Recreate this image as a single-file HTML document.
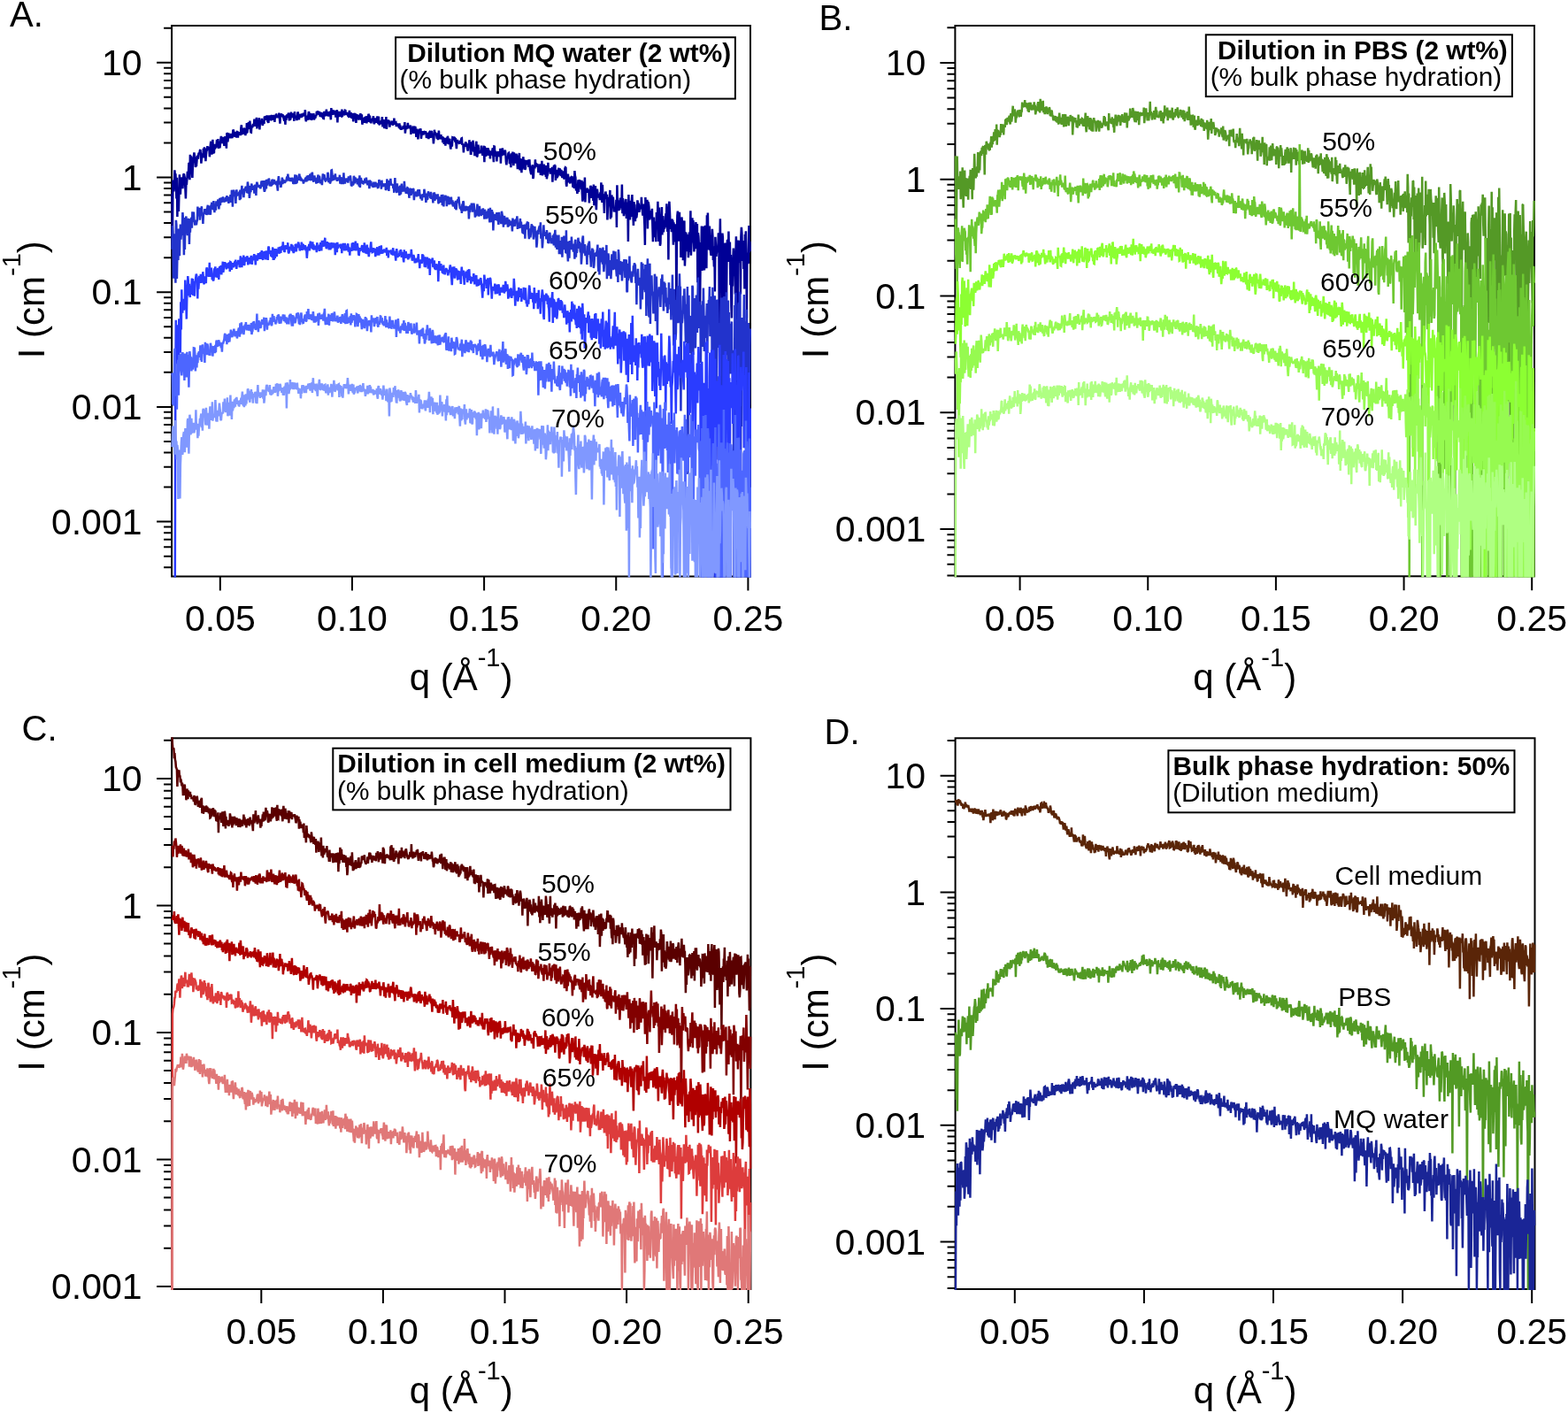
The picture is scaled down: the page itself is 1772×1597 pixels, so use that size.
<!DOCTYPE html>
<html><head><meta charset="utf-8"><title>SAXS dilution figure</title>
<style>html,body{margin:0;padding:0;background:#fff;} svg{display:block;}</style>
</head><body>
<svg xmlns="http://www.w3.org/2000/svg" width="1772" height="1597" viewBox="0 0 1772 1597" font-family="'Liberation Sans', Arial, Helvetica, sans-serif" fill="#000">
<rect width="1772" height="1597" fill="#fff"/>
<rect x="194.10" y="29.00" width="653.90" height="622.50" fill="none" stroke="#000" stroke-width="2.0"/>
<path d="M185.1 641.21H194.1M185.1 628.64H194.1M185.1 618.37H194.1M185.1 609.69H194.1M185.1 602.17H194.1M185.1 595.53H194.1M177.1 589.60H194.1M185.1 550.56H194.1M185.1 527.72H194.1M185.1 511.51H194.1M185.1 498.94H194.1M185.1 488.67H194.1M185.1 479.99H194.1M185.1 472.47H194.1M185.1 465.83H194.1M177.1 459.90H194.1M185.1 420.86H194.1M185.1 398.02H194.1M185.1 381.81H194.1M185.1 369.24H194.1M185.1 358.97H194.1M185.1 350.29H194.1M185.1 342.77H194.1M185.1 336.13H194.1M177.1 330.20H194.1M185.1 291.16H194.1M185.1 268.32H194.1M185.1 252.11H194.1M185.1 239.54H194.1M185.1 229.27H194.1M185.1 220.59H194.1M185.1 213.07H194.1M185.1 206.43H194.1M177.1 200.50H194.1M185.1 161.46H194.1M185.1 138.62H194.1M185.1 122.41H194.1M185.1 109.84H194.1M185.1 99.57H194.1M185.1 90.89H194.1M185.1 83.37H194.1M185.1 76.73H194.1M177.1 70.80H194.1M185.1 31.76H194.1M248.80 651.5V667.5M397.95 651.5V667.5M547.10 651.5V667.5M696.25 651.5V667.5M845.40 651.5V667.5" stroke="#000" stroke-width="2.0" fill="none"/>
<text x="160.50" y="84.90" font-size="41" text-anchor="end">10</text>
<text x="160.50" y="214.60" font-size="41" text-anchor="end">1</text>
<text x="160.50" y="344.30" font-size="41" text-anchor="end">0.1</text>
<text x="160.50" y="474.00" font-size="41" text-anchor="end">0.01</text>
<text x="160.50" y="603.70" font-size="41" text-anchor="end">0.001</text>
<text x="208.95" y="713.10" font-size="41">0.05</text>
<text x="358.05" y="713.10" font-size="41">0.10</text>
<text x="507.25" y="713.10" font-size="41">0.15</text>
<text x="656.35" y="713.10" font-size="41">0.20</text>
<text x="805.55" y="713.10" font-size="41">0.25</text>
<rect x="1079.40" y="29.00" width="654.60" height="622.30" fill="none" stroke="#000" stroke-width="2.0"/>
<path d="M1070.4 650.55H1079.4M1070.4 637.78H1079.4M1070.4 627.34H1079.4M1070.4 618.52H1079.4M1070.4 610.87H1079.4M1070.4 604.13H1079.4M1062.4 598.10H1079.4M1070.4 558.42H1079.4M1070.4 535.22H1079.4M1070.4 518.75H1079.4M1070.4 505.98H1079.4M1070.4 495.54H1079.4M1070.4 486.72H1079.4M1070.4 479.07H1079.4M1070.4 472.33H1079.4M1062.4 466.30H1079.4M1070.4 426.62H1079.4M1070.4 403.42H1079.4M1070.4 386.95H1079.4M1070.4 374.18H1079.4M1070.4 363.74H1079.4M1070.4 354.92H1079.4M1070.4 347.27H1079.4M1070.4 340.53H1079.4M1062.4 334.50H1079.4M1070.4 294.82H1079.4M1070.4 271.62H1079.4M1070.4 255.15H1079.4M1070.4 242.38H1079.4M1070.4 231.94H1079.4M1070.4 223.12H1079.4M1070.4 215.47H1079.4M1070.4 208.73H1079.4M1062.4 202.70H1079.4M1070.4 163.02H1079.4M1070.4 139.82H1079.4M1070.4 123.35H1079.4M1070.4 110.58H1079.4M1070.4 100.14H1079.4M1070.4 91.32H1079.4M1070.4 83.67H1079.4M1070.4 76.93H1079.4M1062.4 70.90H1079.4M1070.4 31.22H1079.4M1152.60 651.3V667.3M1297.25 651.3V667.3M1441.90 651.3V667.3M1586.55 651.3V667.3M1731.20 651.3V667.3" stroke="#000" stroke-width="2.0" fill="none"/>
<text x="1046.30" y="85.00" font-size="41" text-anchor="end">10</text>
<text x="1046.30" y="216.80" font-size="41" text-anchor="end">1</text>
<text x="1046.30" y="348.60" font-size="41" text-anchor="end">0.1</text>
<text x="1046.30" y="480.40" font-size="41" text-anchor="end">0.01</text>
<text x="1046.30" y="612.20" font-size="41" text-anchor="end">0.001</text>
<text x="1112.75" y="712.90" font-size="41">0.05</text>
<text x="1257.35" y="712.90" font-size="41">0.10</text>
<text x="1402.05" y="712.90" font-size="41">0.15</text>
<text x="1546.65" y="712.90" font-size="41">0.20</text>
<text x="1691.35" y="712.90" font-size="41">0.25</text>
<rect x="194.10" y="834.30" width="654.30" height="622.70" fill="none" stroke="#000" stroke-width="2.0"/>
<path d="M177.1 1453.90H194.1M185.1 1410.70H194.1M185.1 1385.43H194.1M185.1 1367.50H194.1M185.1 1353.60H194.1M185.1 1342.24H194.1M185.1 1332.63H194.1M185.1 1324.31H194.1M185.1 1316.97H194.1M177.1 1310.40H194.1M185.1 1267.20H194.1M185.1 1241.93H194.1M185.1 1224.00H194.1M185.1 1210.10H194.1M185.1 1198.74H194.1M185.1 1189.13H194.1M185.1 1180.81H194.1M185.1 1173.47H194.1M177.1 1166.90H194.1M185.1 1123.70H194.1M185.1 1098.43H194.1M185.1 1080.50H194.1M185.1 1066.60H194.1M185.1 1055.24H194.1M185.1 1045.63H194.1M185.1 1037.31H194.1M185.1 1029.97H194.1M177.1 1023.40H194.1M185.1 980.20H194.1M185.1 954.93H194.1M185.1 937.00H194.1M185.1 923.10H194.1M185.1 911.74H194.1M185.1 902.13H194.1M185.1 893.81H194.1M185.1 886.47H194.1M177.1 879.90H194.1M185.1 836.70H194.1M295.30 1457.0V1473.0M432.90 1457.0V1473.0M570.50 1457.0V1473.0M708.10 1457.0V1473.0M845.70 1457.0V1473.0" stroke="#000" stroke-width="2.0" fill="none"/>
<text x="160.60" y="894.00" font-size="41" text-anchor="end">10</text>
<text x="160.60" y="1037.50" font-size="41" text-anchor="end">1</text>
<text x="160.60" y="1181.00" font-size="41" text-anchor="end">0.1</text>
<text x="160.60" y="1324.50" font-size="41" text-anchor="end">0.01</text>
<text x="160.60" y="1468.00" font-size="41" text-anchor="end">0.001</text>
<text x="255.45" y="1518.60" font-size="41">0.05</text>
<text x="393.00" y="1518.60" font-size="41">0.10</text>
<text x="530.65" y="1518.60" font-size="41">0.15</text>
<text x="668.20" y="1518.60" font-size="41">0.20</text>
<text x="805.85" y="1518.60" font-size="41">0.25</text>
<rect x="1079.60" y="834.30" width="654.90" height="622.70" fill="none" stroke="#000" stroke-width="2.0"/>
<path d="M1070.6 1455.91H1079.6M1070.6 1443.15H1079.6M1070.6 1432.72H1079.6M1070.6 1423.90H1079.6M1070.6 1416.26H1079.6M1070.6 1409.53H1079.6M1062.6 1403.50H1079.6M1070.6 1363.85H1079.6M1070.6 1340.66H1079.6M1070.6 1324.21H1079.6M1070.6 1311.45H1079.6M1070.6 1301.02H1079.6M1070.6 1292.20H1079.6M1070.6 1284.56H1079.6M1070.6 1277.83H1079.6M1062.6 1271.80H1079.6M1070.6 1232.15H1079.6M1070.6 1208.96H1079.6M1070.6 1192.51H1079.6M1070.6 1179.75H1079.6M1070.6 1169.32H1079.6M1070.6 1160.50H1079.6M1070.6 1152.86H1079.6M1070.6 1146.13H1079.6M1062.6 1140.10H1079.6M1070.6 1100.45H1079.6M1070.6 1077.26H1079.6M1070.6 1060.81H1079.6M1070.6 1048.05H1079.6M1070.6 1037.62H1079.6M1070.6 1028.80H1079.6M1070.6 1021.16H1079.6M1070.6 1014.43H1079.6M1062.6 1008.40H1079.6M1070.6 968.75H1079.6M1070.6 945.56H1079.6M1070.6 929.11H1079.6M1070.6 916.35H1079.6M1070.6 905.92H1079.6M1070.6 897.10H1079.6M1070.6 889.46H1079.6M1070.6 882.73H1079.6M1062.6 876.70H1079.6M1070.6 837.05H1079.6M1146.80 1457.0V1473.0M1292.90 1457.0V1473.0M1439.00 1457.0V1473.0M1585.10 1457.0V1473.0M1731.20 1457.0V1473.0" stroke="#000" stroke-width="2.0" fill="none"/>
<text x="1046.10" y="890.80" font-size="41" text-anchor="end">10</text>
<text x="1046.10" y="1022.50" font-size="41" text-anchor="end">1</text>
<text x="1046.10" y="1154.20" font-size="41" text-anchor="end">0.1</text>
<text x="1046.10" y="1285.90" font-size="41" text-anchor="end">0.01</text>
<text x="1046.10" y="1417.60" font-size="41" text-anchor="end">0.001</text>
<text x="1106.95" y="1518.60" font-size="41">0.05</text>
<text x="1253.00" y="1518.60" font-size="41">0.10</text>
<text x="1399.15" y="1518.60" font-size="41">0.15</text>
<text x="1545.20" y="1518.60" font-size="41">0.20</text>
<text x="1691.35" y="1518.60" font-size="41">0.25</text>
<clipPath id="ca"><rect x="193.1" y="28.0" width="655.9" height="624.5"/></clipPath>
<g clip-path="url(#ca)">
<path d="M194.4 218.8l.5 51.8 .5-65.7 .5 .2 .5 11.4 .5-7.1 .5-17.1 .5 7 .5-3 .5 10.7 .5 17.4 .5-23.7 .5 44.4 .5-33.3 .5 5.3 .5 21.9 .5-21.1 .5-20.6 .5 15.3 .5 7.1 .5-13.1 .5-1.5 .5-4.8 .5 8.5 .5 4.4 .5-7 .5-9 .5-.6 .5 2.3 .5 2.5 .5 12.1 .5 11 .5-18 .5 2.3 .5-6.7 .5-8.4 .5 7.7 .5-5.2 .5-11.4 .5-.6 .5 19 .5-28.4 .5 7.8 .5-6.4 .5 16.6 .5 1.9 .5 6.3 .5-14.6 .5-7.7 .5-1.9 .5-4.3 .5 3.7 .5 3 .5 9.7 .5-1.6 .5 .7 .5-5.7 .5-6.5 .5 .8 .5 3.1 .5-5.9 .5-1.1 .5 1.3 .5-3.8 .5-1.2 .5 5.3 .5 10.3 .5-5.6 .5-5.6 .5 3.5 .5 .6 .5-9.6 .5 10.5 .5-12 .5 5.5 .5-4.4 .5 14.6 .5-7 .5-4.4 .5-.8 .5-4.7 .5 2.3 .5 0 .5-1.2 .5 .8 .5 10.2 .5-8 .5-6.2 .5-3.4 .5 10.8 .5 4.1 .5-4.4 .5-12.5 .5 14.3 .5 .5 .5 .8 .5-10.4 .5 5.7 .5-5.5 .5 4.1 .5-1.6 .5-6.2 .5 .2 .5 2.4 .5-4.9 .5 10.9 .5-7 .5-.1 .5 6.4 .5-4.4 .5-4.9 .5-4.2 .5 8.4 .5-6 .5 4.1 .5 1.4 .5-6.9 .5 6.9 .5 3 .5-4.7 .5-5.9 .5 1.3 .5 5.4 .5 6.9 .5-17.3 .5 .4 .5 9.5 .5-5.6 .5-4.3 .5 3.7 .5 .3 .5 .6 .5 1.1 .5-3.5 .5-1.4 .5 3.6 .5 1.4 .5-4.2 .5-5.3 .5 .6 .5 7.4 .5-5 .5-.6 .5 5.9 .5-5.3 .5 4.1 .5 1.7 .5-6.5 .5 .1 .5 6.5 .5-5.3 .5-.9 .5 1.2 .5 2.1 .5-2.1 .5 2.5 .5-8.9 .5-2.9 .5 7.3 .5 3.5 .5-4.9 .5-1.1 .5-.3 .5-.1 .5 5.8 .5-4.7 .5 6.4 .5-8.2 .5 6.1 .5-12.1 .5 11.1 .5-5.1 .5 .8 .5-7.6 .5 7.4 .5-3.1 .5-6 .5 8.9 .5 4 .5 .2 .5-8 .5 1.9 .5-.2 .5-3.3 .5 1.3 .5 1.7 .5-8.5 .5 5.2 .5-.1 .5 3 .5-1 .5-8.8 .5 12.6 .5-4.3 .5-4.4 .5 0 .5 0 .5-3.5 .5 13.2 .5-9.1 .5-.7 .5 1.5 .5-.1 .5-4.2 .5 6.6 .5 1.5 .5-5.1 .5 1.9 .5 1.2 .5-8.2 .5 3.3 .5-3.8 .5 1.8 .5 2.7 .5-5.2 .5 1.3 .5 5.2 .5 0 .5 1.9 .5-6.7 .5-1.6 .5 1.6 .5 3.3 .5-4.8 .5 5.7 .5-6.5 .5 3.8 .5 1.1 .5 .4 .5-3.9 .5-.3 .5 .6 .5 6.4 .5-7.3 .5 2.9 .5-4.8 .5 .5 .5 3.3 .5-1.8 .5 1.3 .5-.1 .5 .5 .5-4.8 .5 5.6 .5 6.4 .5-8.9 .5 1.9 .5-4.3 .5 2.1 .5 .6 .5-1.6 .5 1.3 .5 2.6 .5 2 .5-.3 .5-4.5 .5 10.2 .5-7.1 .5 2.3 .5-5.3 .5-.9 .5 3.4 .5-2.5 .5-2.9 .5 1 .5 7.5 .5-3.6 .5 2.8 .5-1.3 .5-7.6 .5 6.2 .5-1.4 .5-2.2 .5-1.1 .5 3.1 .5 0 .5 5.6 .5-10.6 .5 5.2 .5-.7 .5 3 .5-2.5 .5 4.9 .5-3.6 .5-6 .5 1.3 .5 4.5 .5 3.1 .5-4.6 .5-1.9 .5 2.6 .5-2 .5 3.7 .5-4.7 .5 2.7 .5 .7 .5-2.4 .5-1.6 .5 .7 .5 2.7 .5-2 .5-5.1 .5 10.3 .5 2.8 .5-6.6 .5 2.4 .5-.8 .5 3.4 .5-5.6 .5-4 .5 1.3 .5 7.7 .5-1.2 .5-4.2 .5-1.6 .5 7.6 .5-1.1 .5-5.9 .5 2.2 .5 3.3 .5-6.1 .5 7.3 .5-1.4 .5-4 .5 3.5 .5-3.4 .5 1.3 .5-5.5 .5 3.2 .5-3.8 .5 3.1 .5 .3 .5-.1 .5-2.7 .5 4.2 .5 1.9 .5-4.3 .5 1.2 .5-2 .5 5.7 .5-4.7 .5 5 .5 1 .5 .1 .5-8.2 .5 1.5 .5 3.6 .5-.7 .5-2.1 .5-4.5 .5 7.3 .5-4.1 .5 .4 .5 4.4 .5-2.7 .5-1.6 .5 2.7 .5-4.3 .5 5.1 .5 4.5 .5-13.3 .5 6.1 .5-2.7 .5 4.5 .5-5.2 .5 .7 .5 3.8 .5-.7 .5-1.7 .5-2 .5 7.9 .5-4.8 .5 .6 .5-4.3 .5 14.2 .5-11.1 .5 .4 .5-1.8 .5 5.9 .5-1.8 .5-4.1 .5 3.5 .5 1.6 .5 .3 .5-7.7 .5 8.3 .5-5.4 .5-1 .5 1.6 .5 3 .5-.8 .5-4.6 .5 .2 .5 4.3 .5-1.7 .5 2.5 .5-.9 .5-2.1 .5 4.7 .5-.7 .5 1.9 .5-8.1 .5 4.7 .5 3.4 .5-4.6 .5-.9 .5 6.6 .5-5 .5 .1 .5 5.3 .5 2.9 .5-5.8 .5-3.7 .5 3.2 .5 .9 .5-3.7 .5 10.8 .5-6.2 .5-3.7 .5 3.3 .5-2.4 .5 5.2 .5-.7 .5-.9 .5-4 .5 4 .5-5.5 .5 7.6 .5-3.4 .5-3 .5 11.5 .5-3.4 .5 .5 .5-.4 .5-4.6 .5 6 .5-5.9 .5-.2 .5-.8 .5 3.7 .5 3.7 .5-8.3 .5 4.7 .5 1.8 .5-8.9 .5 1.8 .5 4 .5-3.9 .5 7.8 .5-1.1 .5 2 .5-4.7 .5 1 .5-1.7 .5 3.2 .5-6.1 .5 6.8 .5 2.4 .5-2.4 .5 1.2 .5-5.7 .5 3.8 .5-2.9 .5 4.6 .5-7.4 .5 4 .5 4.7 .5-8.4 .5 8.3 .5 1.2 .5-3.1 .5 1.8 .5-1.1 .5-2.5 .5 1.8 .5-6 .5 11.3 .5-3.6 .5-4.8 .5 5.4 .5 4.6 .5-3.3 .5-.7 .5-3.6 .5-5.4 .5 14 .5-5.1 .5-4.4 .5 1.7 .5-2.9 .5 4.1 .5-3.1 .5 7.3 .5-5.1 .5 1.7 .5-.7 .5-.8 .5-2.1 .5 3.2 .5 2 .5-2.9 .5 1.5 .5-6.7 .5 5.3 .5 1.7 .5-2.1 .5-.3 .5 4.9 .5-4 .5 3.6 .5-2.3 .5 1.8 .5-1.5 .5 3.8 .5-5.3 .5 6.4 .5-4.1 .5 5 .5-1.2 .5 1.1 .5-2.6 .5 2.2 .5-2.4 .5-1.5 .5 2.2 .5 .1 .5-6.5 .5 12.7 .5-5.1 .5-3.5 .5 3.9 .5-2.9 .5-.1 .5-4.2 .5 6.5 .5-2.1 .5 .1 .5 .3 .5 1.6 .5-3.7 .5 10.4 .5-7.5 .5 5.7 .5-3.4 .5-1.6 .5-2.5 .5 8.3 .5-6 .5 4.2 .5-5.5 .5-.6 .5 6 .5 5.8 .5-5 .5-4.2 .5 3.8 .5 7.9 .5-5.1 .5-4 .5 .2 .5-2.7 .5 1.9 .5-2.2 .5 11.3 .5-3.5 .5-2.6 .5-.3 .5-2.2 .5 4.4 .5-4.1 .5 .5 .5 .3 .5 2.3 .5-3.1 .5 1.2 .5 5.4 .5 .1 .5-4.8 .5 1.1 .5 2 .5 3.7 .5-7 .5-.8 .5 .8 .5 5.7 .5-8 .5 1.6 .5-.1 .5 3.4 .5 2.5 .5-.8 .5 8 .5-5.6 .5-10.1 .5 3.6 .5 0 .5 2.5 .5-2.4 .5 3.6 .5 2.7 .5-6.3 .5 7.7 .5-4.8 .5-5.8 .5 6.1 .5 3.8 .5-3.6 .5 .3 .5-2.1 .5 5.3 .5-.7 .5-2.5 .5 7 .5-6 .5 2.7 .5 5 .5-5.8 .5-.6 .5 8.3 .5-8.5 .5 6.1 .5-6.9 .5 4.2 .5-5.8 .5 3.4 .5 5.9 .5-4.5 .5-.2 .5-1.7 .5 9.4 .5 2.5 .5-7.9 .5 4.2 .5 .5 .5-10.2 .5 .2 .5 2.5 .5-.6 .5-1.8 .5-.4 .5 5.6 .5-4.7 .5 6 .5 6.1 .5-8 .5-2 .5 1.3 .5 1.3 .5 .5 .5-1.2 .5 2.1 .5-.5 .5-2.9 .5 1.9 .5-4 .5-.3 .5 7.5 .5-1.1 .5 1.2 .5 8.6 .5-7.2 .5-2.7 .5 3.3 .5-4.1 .5-1.2 .5 2.6 .5-1.3 .5 4.7 .5 2.8 .5 1.1 .5-7 .5 3.4 .5-8.7 .5 6.2 .5-4.4 .5 13.8 .5 0 .5-13.1 .5 3.9 .5 6.1 .5-12 .5 2.5 .5 10.5 .5-4.4 .5 8.9 .5-5.4 .5-3.7 .5-1.9 .5-5.5 .5 17.4 .5-.5 .5-4.4 .5-8.7 .5 6.2 .5 3.9 .5-2.5 .5 0 .5 2 .5-1.3 .5-7.1 .5 5.6 .5 0 .5 5.6 .5-2.1 .5-3 .5-6.1 .5 18.5 .5-17.8 .5 7 .5 3.2 .5 .9 .5-2.4 .5-6.9 .5 3.8 .5-3.6 .5 1.3 .5 7.3 .5-5.8 .5 1.2 .5 8.1 .5-7.5 .5-.2 .5 .4 .5 3.4 .5-6.1 .5-2.3 .5 9.7 .5 6.3 .5-17.7 .5 .2 .5 11.1 .5-6.2 .5 4.8 .5-2.8 .5 9.9 .5-9.6 .5-.7 .5-.9 .5 2.3 .5 3.5 .5-4 .5 4.2 .5-9.5 .5 16.9 .5-14.9 .5 .3 .5 6.1 .5-8.9 .5 8 .5-4.4 .5 3.8 .5-.4 .5-3.5 .5-1.1 .5 4.6 .5 8.8 .5 3.3 .5-6.3 .5-3.1 .5 2 .5-5.7 .5-.4 .5 2.8 .5 9.6 .5-9 .5 5.3 .5 7.5 .5-15.7 .5 9.7 .5 .4 .5-11.9 .5 7.8 .5 7.8 .5-14.8 .5 10 .5-5.9 .5 8.1 .5-7.8 .5-3 .5 1.7 .5 6.7 .5 9 .5-3.7 .5-4.7 .5-5.6 .5-4.2 .5 18 .5 1.3 .5-13 .5 1.6 .5 14.3 .5-12.6 .5 9 .5-6.2 .5-8.2 .5 13.2 .5-6.6 .5-3.2 .5 11.3 .5-1.3 .5-9.2 .5 5.1 .5-5.4 .5 4.1 .5-4.3 .5 1 .5 6.9 .5-2.4 .5-6.2 .5 10.6 .5 2.3 .5 2.5 .5 1.5 .5-7.4 .5-1.8 .5-1.5 .5 15.6 .5-2.1 .5-10.8 .5-1.2 .5 2.5 .5-10.2 .5 8.4 .5-4.3 .5 1.4 .5 2.8 .5-3.2 .5 2.7 .5 7.2 .5-7 .5 7 .5-2.6 .5-7.3 .5 12.6 .5-4.4 .5 2.4 .5-14 .5 16.5 .5-6.6 .5-2.7 .5-1.5 .5-2.1 .5 10.8 .5 .8 .5-7.7 .5 10.6 .5-13 .5 15.3 .5-3.7 .5-1 .5-13.9 .5 10 .5-1.9 .5 .5 .5-.4 .5 4.8 .5-6.5 .5 6 .5-3.1 .5-4.3 .5 16.9 .5-9.7 .5 .9 .5-9.1 .5-.3 .5 9.3 .5-10.2 .5 17.4 .5-5.4 .5-6.9 .5 9.3 .5-1.2 .5-.8 .5-2.6 .5-6.7 .5 8.4 .5-7.5 .5 .8 .5 3 .5 4.6 .5-7.2 .5 4.5 .5 4.7 .5-7.7 .5 6 .5-3.2 .5 5.6 .5 .6 .5-12.1 .5-1 .5 .4 .5 18.4 .5 2.7 .5-11.8 .5 3.1 .5-5.3 .5 6.5 .5 3 .5-3.6 .5 .8 .5 4.1 .5-7.8 .5 6.8 .5-6.4 .5-.9 .5 2.6 .5 9.9 .5-8.2 .5 3.2 .5 6.3 .5-20 .5 5.5 .5 2.2 .5 13.6 .5 .7 .5-3.2 .5 7 .5-4.1 .5-11.5 .5 13.7 .5-9.7 .5-4.2 .5 5.3 .5-2.5 .5 3.6 .5 4.7 .5-10.4 .5 15 .5 8.9 .5-3.3 .5-12 .5-6.9 .5 11.1 .5-16 .5 28 .5-11.1 .5-2.8 .5 2.3 .5-2.5 .5-1.9 .5 5.5 .5-3 .5 .1 .5 14.4 .5-14.6 .5 .4 .5-5.4 .5 1.6 .5 12.5 .5-13.3 .5 11.8 .5-5.8 .5 10.2 .5-18.3 .5 23.7 .5-14.7 .5 0 .5-7.5 .5 19.4 .5 7.6 .5-16.7 .5-6.7 .5 4.1 .5 4.6 .5 .1 .5 0 .5-3.2 .5 6.9 .5-8.8 .5 5.9 .5-16.9 .5 17.1 .5 5.4 .5-20 .5 15.6 .5-5.1 .5 8.8 .5 12.7 .5-21.7 .5 2.6 .5-5.3 .5 3.6 .5 5 .5-5.4 .5 28.7 .5-12.9 .5-5.1 .5-7.2 .5 .5 .5-.6 .5-8.2 .5 32.6 .5-19.4 .5 17.6 .5-25.3 .5 12.8 .5-1.8 .5-8.9 .5 8.6 .5 8.4 .5-4.3 .5 2.1 .5 0 .5 2.3 .5-13.8 .5 31.2 .5-47.8 .5 25.7 .5-8.5 .5 11.8 .5-4.3 .5 3 .5-.5 .5-12.8 .5 6.4 .5 1.2 .5 3.8 .5-26.6 .5 32.9 .5-17.1 .5 2.1 .5 17.9 .5-4.8 .5 2.1 .5-10 .5-1.6 .5-4.9 .5 22 .5-13.3 .5 7.9 .5-13.1 .5 44.4 .5-52.8 .5 24.3 .5-17.6 .5 21.6 .5-11.9 .5 8.7 .5-4.4 .5-14.4 .5-6.4 .5 25.3 .5-3.2 .5 12.9 .5-26.8 .5 2.7 .5 .9 .5 18.4 .5-13.3 .5 8.9 .5-.4 .5-3.8 .5-15.2 .5 2.4 .5 1.4 .5 .7 .5 8.9 .5-3.7 .5-.8 .5-3 .5 4 .5-13.6 .5 10.8 .5 4.2 .5 5.9 .5-13 .5 3.1 .5 9.7 .5 11.6 .5 21.9 .5-53.8 .5 18.8 .5 .6 .5-7.7 .5-9 .5 32.7 .5-30.4 .5 1.5 .5 3.7 .5 13 .5 2.2 .5-9.3 .5-1 .5 8.4 .5-7.1 .5-3.7 .5 19.5 .5 17.8 .5-22.1 .5-5.4 .5 22.1 .5-.5 .5-1.3 .5-15.6 .5 23 .5-33.4 .5 11.5 .5-1.5 .5-22.2 .5 19.5 .5 25.7 .5-38.3 .5 14.7 .5 28.5 .5-2.5 .5-23.7 .5 1.6 .5-19.1 .5 31.4 .5-20.4 .5-.8 .5 18.2 .5-13.7 .5 9.7 .5-2.7 .5-.4 .5-14 .5 9 .5-20.2 .5 24.8 .5 7 .5-19.3 .5 50.9 .5-57.9 .5-8 .5 10.5 .5 12.5 .5 8.3 .5-8.7 .5 11.9 .5-14.7 .5 2.9 .5-1.6 .5 27.9 .5-25.5 .5 12.6 .5 9.6 .5-4.8 .5-10.2 .5-5.2 .5 101.3 .5-84.8 .5-26 .5-5.1 .5 17.3 .5 9.5 .5 7.3 .5-32.9 .5 18.7 .5-7.5 .5 39.9 .5-12 .5-33.4 .5 4.8 .5 7.8 .5 36.2 .5-37.6 .5-1.6 .5-5.7 .5 51.2 .5-12.3 .5-25.7 .5 1.5 .5 4.7 .5 4.7 .5 10.6 .5-19.2 .5 26.3 .5-14.5 .5-14.1 .5 22.4 .5-16.3 .5-30.5 .5 50.5 .5-11.7 .5-5.8 .5-24.9 .5 11.8 .5-9 .5 7.3 .5 28 .5-8.8 .5-7.7 .5 2 .5-18.8 .5 30 .5-19.7 .5-8.3 .5 66.1 .5-56 .5 4.1 .5 10.1 .5 1.9 .5 78.8 .5-45.7 .5-38.5 .5 15.2 .5-33.5 .5 50.4 .5-11 .5-39.3 .5 24 .5-19.5 .5 45.2 .5-5.2 .5-45.5 .5 5.2 .5 42.1 .5 0 .5-58.8 .5 27.6 .5-30.3 .5 31.9 .5 10 .5-14.1 .5-12.9 .5 26.7 .5 .8 .5 5 .5 .8 .5-16.5 .5-13.5 .5 8.4 .5 26.9 .5-8.2 .5 15.7 .5-23.2 .5 51.2 .5-61.7 .5 9.3 .5 12.9 .5-5.3 .5-.4 .5-6.2 .5 1.3 .5-16.1 .5 4.8 .5 120.7 .5-109.8 .5-31.8 .5 51.3 .5-21 .5 23.1 .5 52.3 .5-89.3 .5 4.7 .5 299.8 .5-277 .5-15.8 .5 .5 .5 107.1 .5-108.3 .5 7.3 .5 71.4 .5-59.4 .5-22 .5-.6 .5 24.7 .5-34.5 .5 24.7 .5-8.8 .5-4 .5 48.8 .5-34.3 .5 58 .5 13.5 .5-52.1 .5 16.2 .5-30.9 .5-12 .5 11.4 .5 20.2 .5-24.3 .5 44.6 .5-42.3 .5-23 .5 27.4 .5 358.4 .5 0 .5-381.4 .5 5.5 .5 20.2 .5-25.6 .5 11.9 .5 .1 .5 48.9 .5-65.4 .5-10.4 .5 7.3 .5 30.8 .5-7.9 .5-15.1 .5 32 .5-29.4 .5 52.1 .5-61.6 .5 2.6 .5-6.3 .5 22.5 .5 75.7 .5-74.1 .5 5.3 .5 7 .5-1.3 .5-41.5 .5 30.6 .5-12.8 .5 11" fill="none" stroke="#000096" stroke-width="2.5" stroke-linejoin="miter" stroke-miterlimit="2"/>
<path d="M194.4 281.8l.5-26.8 .5 7.8 .5 51.9 .5-18.3 .5-14.5 .5-11.9 .5-5.7 .5 55.5 .5-71 .5 5.4 .5 60.7 .5-25.2 .5-13.7 .5 18 .5-35.6 .5 10.5 .5 20.4 .5-23.3 .5-12.4 .5 17 .5-7.3 .5 2.4 .5-8 .5-17.6 .5 5.9 .5 14.8 .5 27.5 .5-37 .5 30.6 .5-35.9 .5 2.9 .5-4.4 .5 19.9 .5-6.9 .5 8.7 .5-14.1 .5-4.3 .5-.6 .5 28.8 .5-19.4 .5 6 .5-9.2 .5-5.8 .5-1.9 .5 12.1 .5-18.4 .5 4.2 .5 3.6 .5-7.6 .5 10.4 .5 1 .5 3.7 .5-5.4 .5 .4 .5 4.7 .5-3.8 .5-1.5 .5-15.6 .5 10.6 .5-2.1 .5-5.6 .5-1.5 .5 13.7 .5-4.9 .5-1.1 .5-2.7 .5-6.7 .5 8.9 .5-.4 .5 11.2 .5-9.9 .5-2.5 .5 1.4 .5-5.7 .5 3.5 .5-.9 .5-2.8 .5 6.9 .5-2.3 .5-6.4 .5-2.5 .5 11.1 .5-10.2 .5 3.3 .5 2.1 .5 3.2 .5 1.4 .5-9.7 .5-1.9 .5-2.1 .5 6.7 .5 .3 .5-4.6 .5-4.1 .5 5.8 .5 7.1 .5-9 .5 .8 .5 5.8 .5-10.3 .5 3.5 .5 1.9 .5-1 .5-6.5 .5 5.4 .5 5.8 .5-7.8 .5-4.7 .5 8.2 .5-5.2 .5-3.7 .5 5.5 .5-3.7 .5 .5 .5-3.2 .5 5.8 .5-.6 .5-.8 .5 .6 .5-.2 .5-4.4 .5 5.2 .5-3 .5-3.8 .5 4.4 .5-2.2 .5 0 .5 6.5 .5-4.5 .5-1.5 .5 4.6 .5-8.5 .5 4.9 .5 4 .5-14.2 .5 4.3 .5 14.6 .5-13.2 .5-5.5 .5 .8 .5 6.3 .5-1.6 .5-2.7 .5 12.2 .5-11.4 .5-4.1 .5 6.8 .5-.8 .5-1.9 .5 .9 .5 1.2 .5-3.9 .5 9.4 .5-11.6 .5 10.5 .5-4.7 .5-4.2 .5-6.2 .5 8.8 .5-2.8 .5-1.3 .5 8.6 .5-7.3 .5-2.6 .5 .5 .5-1.7 .5-1.3 .5 3.6 .5 3.7 .5-2.2 .5-10.4 .5 3.1 .5 10.3 .5-2 .5 7.1 .5-6 .5-7.9 .5 7.1 .5-6.5 .5-3.2 .5 6.3 .5-.1 .5-4 .5 3.7 .5-3.5 .5 8.7 .5-6.7 .5-3.3 .5 2.5 .5 9.9 .5-12.2 .5-3 .5 2.2 .5 3.4 .5-1.6 .5 1.1 .5 .9 .5-2.7 .5 1 .5 3.1 .5-2.9 .5-4.9 .5-.4 .5 6.1 .5-4.8 .5-2.1 .5 2.8 .5 6.8 .5 2.9 .5-1.6 .5-10.3 .5-.4 .5 9 .5-10.6 .5 6.8 .5-3.6 .5-3.2 .5 5.1 .5-6.4 .5 3.9 .5 5.1 .5-3.7 .5-1.5 .5 4.3 .5 .6 .5-6.3 .5-.1 .5 4.1 .5-.3 .5-.5 .5-4.1 .5 4.5 .5-1.7 .5-.5 .5 3.8 .5-1.8 .5-2.7 .5 7 .5 4 .5-12.1 .5-4.4 .5 5.9 .5 3.4 .5-2.6 .5-.6 .5 6.7 .5-3.5 .5-1.4 .5-6.4 .5 7.5 .5-5.5 .5 4 .5-3.1 .5 2.1 .5 1.1 .5-1.3 .5-1.6 .5 1.6 .5-3.9 .5-1.8 .5 2.6 .5-5.8 .5 6 .5 2 .5-3.8 .5 3 .5-1.2 .5 2.4 .5-4 .5 4.2 .5-1.2 .5-3.2 .5 3.3 .5 3.8 .5-.6 .5-3.4 .5 3.4 .5-10 .5 9.1 .5 1.6 .5-10.2 .5 9.4 .5-3 .5-3.3 .5 2.9 .5-1.9 .5-3.6 .5-1.7 .5 7.6 .5-4.2 .5 2 .5 2.5 .5-2.6 .5 2 .5 .2 .5-.4 .5 3.9 .5-1.7 .5-1.2 .5-1 .5-1.3 .5-.9 .5-.8 .5 4.9 .5-7 .5 5.2 .5 .4 .5-6 .5 1.3 .5 4.1 .5-1.3 .5-5.5 .5 6.1 .5 1.1 .5-8.4 .5 7.6 .5-8.5 .5 8.4 .5 .4 .5 2.2 .5-4.6 .5-2.5 .5 4.7 .5 .7 .5-1.3 .5 4.9 .5-2.4 .5-4.5 .5 6.3 .5-9.4 .5 3.8 .5 4.7 .5-7.4 .5 2.9 .5 5.9 .5-4.2 .5 1.9 .5-.3 .5 4.4 .5-7.1 .5-5.8 .5 6.8 .5-2.4 .5-3.4 .5 3.3 .5 3.1 .5 .8 .5-.3 .5-2.7 .5 1.9 .5-1.9 .5-6.7 .5 1.9 .5 9.4 .5-3.7 .5-1 .5 6 .5-1.2 .5-2.7 .5-11 .5-.2 .5 4.8 .5 6.1 .5-.2 .5-2.7 .5 3.3 .5-4.3 .5 0 .5-2.9 .5 6.5 .5-2.1 .5 .8 .5 3.2 .5-4.5 .5 2.9 .5-1.5 .5-.9 .5 3.4 .5-6.5 .5 10 .5-6.2 .5-1.2 .5 7.8 .5-7.8 .5 3.2 .5-.9 .5 5.6 .5-12.9 .5 8.9 .5-.3 .5 3.6 .5-4.5 .5 1.6 .5-3.1 .5 4 .5-1.7 .5-1.2 .5 4.1 .5-7.3 .5 4.7 .5-4 .5 3.7 .5-5.5 .5 4.5 .5 6.6 .5 .2 .5-3.9 .5 .4 .5 3.1 .5-1 .5-9.5 .5 2.5 .5 6.3 .5-6.8 .5 1.8 .5 1.7 .5 .5 .5-.7 .5 4.4 .5-6.9 .5 2.7 .5 3.9 .5 2.3 .5-12.1 .5 13.7 .5-9.5 .5-1.5 .5 2.6 .5 1.1 .5 1.9 .5 .4 .5 .3 .5-2.1 .5-.3 .5 2.2 .5-5.4 .5 3.7 .5 1.8 .5-6.6 .5 5.9 .5-1.6 .5 4.4 .5-4.5 .5 1.3 .5-2.2 .5 9.2 .5-7 .5-1.2 .5 .5 .5 .5 .5 4.1 .5-2.9 .5 4.3 .5-2 .5 2.5 .5-6.3 .5 6 .5-3.8 .5 1.1 .5-3.2 .5 4.6 .5 .7 .5-2.8 .5-1.3 .5 5.1 .5-.1 .5-1.7 .5-7 .5 1.7 .5 1.2 .5 3.1 .5-3.3 .5 7.8 .5-10 .5 6 .5 1.5 .5-1.8 .5 .9 .5-1.7 .5 .2 .5-1.1 .5 .7 .5 6.6 .5-1.3 .5-.4 .5-10.9 .5 7.1 .5 2.6 .5-1.1 .5 5 .5-12 .5 4.4 .5-3.4 .5-3.1 .5 7.5 .5-.8 .5 .2 .5 0 .5 .4 .5 3.7 .5-.9 .5 5.8 .5-8.5 .5-8.3 .5 12.4 .5-.8 .5 1.6 .5 3.8 .5-10.6 .5 9.7 .5-5.1 .5 .1 .5-1.3 .5 10.1 .5-3.4 .5-8 .5 10.2 .5-6.1 .5-5.9 .5 7.8 .5 1.1 .5-5.8 .5 .8 .5 5.1 .5-11.8 .5 7.6 .5 2.9 .5 .6 .5 2.8 .5-4.5 .5-.8 .5-1.3 .5 .4 .5 6.8 .5-4.5 .5 8.9 .5-8.2 .5-1.7 .5-1.1 .5 7.8 .5-1.4 .5-5 .5 .1 .5 4.2 .5-5.6 .5 1.2 .5 12.1 .5-7.2 .5 1.8 .5-1.8 .5-1 .5 .6 .5 3.7 .5-2 .5-4.3 .5-.9 .5 .1 .5 6.4 .5-7.6 .5 6.1 .5 .2 .5 4.4 .5-3.6 .5 1 .5 4.5 .5-7 .5 .7 .5 1.4 .5 1.2 .5-9.1 .5 3.2 .5 5.9 .5-.7 .5 6.6 .5-6.6 .5-3.7 .5 7.3 .5-1.8 .5-7.7 .5 3.2 .5 1.9 .5-1.3 .5-2.3 .5 6.3 .5-7.3 .5 8.1 .5-2.6 .5 1.9 .5-.7 .5 5.9 .5-11.5 .5 5.5 .5-6.1 .5 9.7 .5-7.6 .5 5.3 .5-.6 .5-2.1 .5 2.2 .5-4.6 .5 .9 .5 8.8 .5 .6 .5-6.9 .5 4.3 .5-4.8 .5 3 .5 3.4 .5-8.9 .5 3.3 .5 8.8 .5-12.3 .5 4.9 .5 8.7 .5-11.3 .5 4.4 .5-3.4 .5-2.3 .5 2.5 .5 1.3 .5 8.6 .5-11.7 .5 5.9 .5-5.6 .5 9.2 .5-1.3 .5 1.4 .5-8.3 .5 5.4 .5-3.1 .5-2.4 .5 6.3 .5 2.2 .5-4.8 .5 7 .5-2 .5-1.7 .5 .4 .5 1.8 .5 4 .5-9.2 .5 10.5 .5-2.8 .5-7.9 .5 1.6 .5-3 .5 4.3 .5-7 .5 5.4 .5 4 .5 4.2 .5-2.6 .5 2.6 .5-.3 .5 5.3 .5-10.5 .5 1.6 .5-4.6 .5 .8 .5 10.4 .5-5.5 .5 2.4 .5 3 .5-4 .5-1.7 .5 4.9 .5-1 .5 .4 .5-3.9 .5 1.4 .5 12.8 .5-10.6 .5 3.4 .5-8.5 .5 1.5 .5 1.9 .5-5.5 .5 4.2 .5 5.7 .5-5.6 .5-.5 .5-3.9 .5 3.5 .5 4.5 .5 8.1 .5-6.2 .5-2.2 .5 7.1 .5-3.1 .5-10.7 .5 4.4 .5 4.5 .5 1.7 .5 3.4 .5-11.8 .5 6.4 .5 1.8 .5 1.5 .5 .2 .5-1.9 .5-4.4 .5 4.7 .5-5.7 .5 7.3 .5-2 .5 6.9 .5-10.8 .5 3.1 .5-.9 .5 4 .5 4.3 .5-5.4 .5 4.5 .5-7.5 .5-1.6 .5 .3 .5 7.6 .5 6.2 .5-16.5 .5 7.5 .5 8.7 .5-7.8 .5-6.1 .5 4.6 .5-2.2 .5 20.8 .5-14 .5 1.1 .5-4.1 .5-1.1 .5 1.2 .5 5.6 .5-2.8 .5-6.1 .5 2.2 .5 7.3 .5-1 .5 5.3 .5-14.1 .5 8.4 .5-1 .5-1.8 .5 4.4 .5 3.1 .5-14.3 .5 2.7 .5 3.2 .5-.9 .5 13 .5-6.2 .5-6.4 .5 1.7 .5 2 .5 4.6 .5-.2 .5 .9 .5-5.5 .5-1.9 .5 11.1 .5-8.9 .5 8.2 .5-7.8 .5 6.4 .5-3 .5-.9 .5-.1 .5 4.1 .5-2 .5 8.6 .5-14.8 .5 9.5 .5-8.1 .5 4.1 .5 .1 .5 3.5 .5-7 .5 2.7 .5-4.1 .5 .8 .5-3.8 .5 14.6 .5-7.2 .5 4.7 .5 .7 .5 0 .5-5.6 .5-4.5 .5 10.6 .5-6.9 .5 5.2 .5-1.7 .5 8.2 .5 1 .5-3.2 .5 4.4 .5-9.9 .5-.5 .5 15.6 .5-15 .5 1.3 .5-3.5 .5 6.8 .5-9.1 .5 4.8 .5-4.1 .5 13.9 .5 5.3 .5-12 .5 3.2 .5 7 .5-4 .5-7.7 .5-3.4 .5 7.3 .5-5.6 .5 2.4 .5 13.1 .5-3.1 .5-3 .5-8.5 .5 10 .5-4.6 .5 4.7 .5 13.6 .5-5 .5-12.3 .5-2.3 .5 4.9 .5-6.6 .5-1.7 .5-1.3 .5 4.4 .5-8.3 .5 18.2 .5-2.6 .5-.8 .5 14.3 .5-7.1 .5-11.9 .5-7.2 .5 11.1 .5-.9 .5 2.2 .5-3.3 .5-.3 .5 7.3 .5-10.3 .5 4 .5 .5 .5 10.4 .5-4.3 .5 4.6 .5-10.2 .5-2.2 .5 8.9 .5-2.4 .5 .9 .5 5.1 .5-4.6 .5-1.8 .5-3.4 .5 6.8 .5 5.1 .5-12 .5 .2 .5-5.9 .5 20 .5-14 .5 1.3 .5 14.9 .5-8.4 .5-1.2 .5 .3 .5-7.1 .5 21.5 .5-3 .5-9.6 .5 7.6 .5-10.1 .5 15.4 .5-19.7 .5 23 .5-14.5 .5-6.3 .5 3.5 .5-6.8 .5 14.5 .5 .3 .5-2.5 .5 7.3 .5-25.9 .5 26.4 .5-8.2 .5 8.8 .5 8.2 .5-22.8 .5 6.9 .5 12 .5-19.5 .5 3.4 .5-3.1 .5 9.9 .5-14.7 .5 9.4 .5 1.5 .5 .4 .5 5.7 .5-3.7 .5-5.2 .5 17.1 .5-19.5 .5-2.5 .5 19.8 .5-14.2 .5 9.5 .5-6.4 .5 1.4 .5-12.2 .5 5.9 .5 0 .5-1.5 .5 6.8 .5 5.5 .5-10.8 .5 24 .5-7.2 .5-9.1 .5-12.8 .5-3 .5 18.2 .5-4.1 .5 5.8 .5-10.4 .5 13.2 .5-5.3 .5 4.1 .5-1.9 .5 12.8 .5-21.3 .5 10.4 .5-12.2 .5-.4 .5-2.8 .5 10.5 .5 5.7 .5 3.8 .5 9.1 .5-11.9 .5-4.1 .5-5.1 .5 3.8 .5-2 .5 20.6 .5-3.5 .5-9 .5-2.2 .5-1.5 .5-1.1 .5 4.1 .5-5 .5-2.5 .5-5.8 .5 23.8 .5 6.7 .5-22 .5 25.5 .5-25.3 .5-5 .5 9.5 .5 6.4 .5-2 .5-12.9 .5 17.5 .5-19.1 .5 16.4 .5 11.2 .5-7.1 .5-4.3 .5-12.7 .5 14.8 .5-8.5 .5-12.5 .5 38.4 .5-13.3 .5-7.9 .5-7.7 .5 3.1 .5 22.3 .5-17.7 .5 9.3 .5-8 .5 19.7 .5-10.5 .5-17.2 .5 8.5 .5 2.1 .5 7.2 .5-21.7 .5 17.4 .5 3.4 .5-10.8 .5-9.2 .5 19.1 .5 1.9 .5 7 .5-6.9 .5-12.3 .5 25.9 .5-36.9 .5 5.9 .5 21.8 .5-6 .5-8.7 .5 15.5 .5-14.9 .5 6.3 .5 15.5 .5-6.5 .5-15.3 .5 4.1 .5 3.5 .5-10.2 .5 7.2 .5 13.6 .5-17.7 .5-1.1 .5-1.7 .5 35.8 .5 1.1 .5-29.4 .5 16.4 .5-19.5 .5 16.3 .5-24.5 .5 24.6 .5-2.1 .5 2.2 .5 3.6 .5 1.6 .5-13 .5 4.2 .5 1.9 .5-12.4 .5 2.4 .5-5.3 .5 1.6 .5 .8 .5 20.2 .5-9.4 .5 33.7 .5-27.1 .5-3.5 .5-9.7 .5 13.5 .5 5.2 .5-8.7 .5 6.5 .5 2.1 .5 26.9 .5-22 .5-31.2 .5 10 .5 32.2 .5-40.7 .5 30.1 .5-8.6 .5 1.8 .5-16.7 .5 25.9 .5-31.1 .5 4.5 .5 53.5 .5-38.3 .5-12.5 .5-13.9 .5 22.5 .5 23.3 .5 19 .5 1.1 .5-60.6 .5 68.2 .5-47.4 .5-.8 .5-6.5 .5 19.6 .5-1.3 .5 5.6 .5 19.4 .5-15.7 .5 15.2 .5-44.3 .5 4.9 .5 48.5 .5-26.6 .5-23.9 .5 30.3 .5 35.8 .5-45.5 .5 1 .5-2.4 .5-7.4 .5 2.9 .5 6.9 .5 12.7 .5-21.3 .5-10.9 .5 9.1 .5-13.4 .5 22.1 .5-2.2 .5 21.1 .5-33 .5 24.1 .5-22.7 .5 22.7 .5-17.4 .5 21.6 .5-10.2 .5 3.1 .5 14.3 .5-8.4 .5 4.2 .5-30.5 .5 22.2 .5 2.3 .5-2.2 .5-15.5 .5 35.4 .5-26.8 .5 16.9 .5-41 .5 36 .5-3.2 .5 47.2 .5-63.8 .5 30.4 .5 19.8 .5 7.2 .5-8 .5-37.1 .5 25 .5-38.6 .5-2 .5 41.7 .5-6.5 .5-26.6 .5-22.7 .5 20 .5-5.6 .5 140.9 .5-83.1 .5-30.8 .5 14.5 .5-6.3 .5-24.6 .5 20.4 .5-16 .5-12.5 .5 22.6 .5 14.4 .5 24.3 .5-28.6 .5-15.2 .5 10.6 .5-30.4 .5 212.2 .5-148 .5-54.4 .5 61.2 .5 4.3 .5-38.2 .5-2.9 .5-.7 .5 5.6 .5 85 .5-125.3 .5 2 .5 76.3 .5-61.8 .5 22.5 .5 5.5 .5-30.2 .5 56.5 .5-27.3 .5-32.8 .5 7.6 .5 35.1 .5-33.1 .5-29.4 .5 54 .5 3.3 .5-30.2 .5 17.3 .5-13.4 .5 65.7 .5-59.7 .5 21.2 .5 20.2 .5-51.7 .5 43.1 .5-58 .5 30 .5 41.7 .5-17.6 .5 2.3 .5-12.2 .5-12.8 .5 4 .5-17.7 .5 55.9 .5-50.7 .5 10 .5-19.2 .5 7.1 .5-22.2 .5 56.3 .5-45.3 .5 40.5 .5-37.6 .5 12.4 .5 143 .5-168.6 .5 18.1 .5 67.5 .5 21.2 .5 221.5 .5-318.7 .5 64.9 .5-37.5 .5 157.9 .5-160.4 .5-19.3 .5-.1 .5 19.3 .5 33.9 .5-27.9 .5 48.2 .5 239.7 .5 0 .5-290.9 .5-25.6 .5 30.1 .5-8.2 .5 8.7 .5 129.2 .5-160.1 .5 82.6 .5-83.7 .5 64.9 .5 253 .5-293.7 .5 74.3 .5-103.3 .5 52 .5 18.8 .5-43.1 .5-18.6 .5 96.8 .5-83.1 .5 53.4 .5-40.8 .5 35.3 .5 21.4 .5-41.5 .5-17.5 .5 55.4 .5-23.1 .5 36 .5 13.7 .5 207.6 .5-152.1 .5-155.8 .5 10.4 .5-24.7 .5 98.9 .5-67.7 .5 24.7 .5-25.9 .5 40.4 .5-56.5 .5-2.6 .5 310.9 .5-323.2 .5 2.3 .5 320.9 .5-279 .5 108 .5-89.5 .5-33.6 .5 15.5 .5 32.8 .5-27.4 .5-46.8 .5 149.5 .5-10.5 .5-106.8 .5-1.8 .5 9.7 .5-23.4 .5 41.4 .5 261.9 .5 0 .5-288 .5 19 .5 73.6 .5-67.4 .5-18.7" fill="none" stroke="#2233cc" stroke-width="2.5" stroke-linejoin="miter" stroke-miterlimit="2"/>
<path d="M197.8 653l.5-220.4 .5-70.9 .5 28.5 .5-20 .5 41.1 .5-37.3 .5-6.7 .5 44.9 .5-52 .5 32.2 .5-13.4 .5 19.8 .5-57.6 .5 31.4 .5-45.3 .5 22.6 .5 3.9 .5-15.9 .5 6.5 .5 6.2 .5-4.2 .5-1.7 .5-28.2 .5 17.8 .5 7.6 .5 18.7 .5-25.3 .5-6.4 .5-16.9 .5 5.4 .5 16.8 .5-13.5 .5 11.9 .5 3.4 .5-11.2 .5 8.1 .5-6.2 .5-12.1 .5 11.4 .5-11 .5 18.9 .5-10.2 .5 .4 .5 10.5 .5-16 .5-1.2 .5-3.9 .5-3.9 .5 2.4 .5 7 .5 18.4 .5-23.8 .5 13 .5-7.5 .5-7.3 .5 7.2 .5 .8 .5-10.1 .5 9.9 .5-1.5 .5-6.6 .5 7.8 .5-12.1 .5 7 .5 5.7 .5 1.3 .5-9 .5 6.8 .5-4.8 .5 6 .5-16.1 .5-1.8 .5 4.9 .5 4.7 .5-1.1 .5 1.9 .5-3.5 .5-12.4 .5 16.1 .5-4.3 .5-.9 .5-5 .5 4.5 .5 9 .5-5.8 .5 6 .5 1 .5-5.6 .5-8.5 .5 2.1 .5-4 .5 6.3 .5 4.7 .5 .1 .5-3.8 .5-3 .5-2.6 .5 6.3 .5 6.6 .5-12.4 .5-2.3 .5 8.4 .5-7.9 .5-1.8 .5 10.4 .5-7 .5 .2 .5-7.9 .5 12.1 .5-3.8 .5-4.2 .5-3.6 .5 4.6 .5-3.7 .5 1.2 .5 6.1 .5-5.7 .5 2.9 .5 1.4 .5-4.8 .5-1 .5 1.7 .5-2.5 .5 10.6 .5-10.9 .5 .3 .5 1.1 .5 7.4 .5-5 .5 .8 .5-3.6 .5 5.2 .5-1.9 .5-2.1 .5-2.7 .5 2.3 .5-4.2 .5 7.1 .5 3 .5-5.8 .5-1.4 .5 2.3 .5-4.9 .5 2.4 .5 1.1 .5 4.7 .5-2.7 .5-10.2 .5 4 .5-2.2 .5 10.9 .5-4.9 .5-5.3 .5 1.4 .5-4.6 .5 11 .5-.5 .5-8.7 .5 1.7 .5 1.8 .5 .7 .5 .4 .5-5.7 .5 2.2 .5 7.9 .5-4.1 .5-3.7 .5 .7 .5 6.2 .5-5.2 .5-.1 .5-4.2 .5 3.2 .5 6.7 .5-8.4 .5 3.6 .5-1.9 .5-3.1 .5-1.9 .5 5.7 .5-.8 .5 7.3 .5-11.1 .5 5.3 .5-2.7 .5 3.7 .5-2.6 .5-6 .5 2.1 .5-.6 .5 4.3 .5 .6 .5-7.4 .5 7.9 .5-6.4 .5-3.4 .5 4.8 .5 5 .5 .5 .5-2.4 .5-5.3 .5-1.7 .5 5.4 .5-3.1 .5 7.2 .5-10.2 .5 3 .5 4 .5-2.5 .5 6.2 .5-14.2 .5-1.3 .5 6.2 .5 2.4 .5-2.7 .5-1.2 .5 5.9 .5 .3 .5-2.4 .5-2.9 .5-4.6 .5 14.4 .5-6.1 .5 5.9 .5-12.7 .5 10.7 .5-3 .5-7.1 .5 .9 .5 7.3 .5-7.7 .5 3.7 .5-1.5 .5-4.8 .5 5.6 .5 1.5 .5-7.7 .5 2.9 .5 4.2 .5-6.5 .5-.4 .5 .4 .5 3.1 .5-9.3 .5 7.8 .5 1.2 .5 2.4 .5-.5 .5-5.6 .5-1 .5 .9 .5 3.1 .5-1.7 .5 1.1 .5-6.8 .5 10.5 .5 1.7 .5-1.9 .5-5.4 .5 .5 .5 .8 .5 1.4 .5-6 .5 7.8 .5-6.6 .5 2 .5 5.1 .5 1.9 .5-1.7 .5-5.1 .5 5.1 .5-8.1 .5 .4 .5 7.9 .5-5.9 .5 1.8 .5-3.2 .5-1.9 .5-1.6 .5 3.3 .5 1 .5 5.5 .5-2 .5-3.1 .5 4 .5-8.9 .5 9.2 .5-1.1 .5-5 .5 .2 .5 5.3 .5-2.1 .5-1.5 .5-1.1 .5 1.7 .5 4.5 .5-1.8 .5 10 .5-6.1 .5-5.6 .5-1 .5 1.4 .5-4.7 .5 7.5 .5-5.8 .5-4.9 .5 6 .5-2.3 .5 1.5 .5 3.2 .5-7.8 .5 9.1 .5-6.3 .5 5.5 .5 .5 .5-3.8 .5 1.4 .5-1.8 .5 1.1 .5 6.2 .5-10.9 .5 5.8 .5-.5 .5-1.6 .5 2.3 .5 3.6 .5-7.2 .5 1.3 .5-3.7 .5 6 .5 3.2 .5-11.6 .5 4.5 .5-4.1 .5 6.7 .5-3.8 .5-3.4 .5 5.3 .5-8.3 .5 9.4 .5-.8 .5 3.9 .5-2.7 .5-5.5 .5 5.3 .5-4.1 .5 3 .5 5.2 .5-7.9 .5 3.9 .5 3.8 .5-1.9 .5-5.6 .5 .4 .5 4.9 .5-.7 .5 .7 .5-5.6 .5 4.4 .5 .1 .5-3.2 .5 12.5 .5-12.5 .5-.8 .5 4 .5 6.3 .5-11.3 .5 5.5 .5 .2 .5-1.4 .5-1.6 .5 1 .5 .2 .5-2.1 .5 5.1 .5-5.1 .5 10.4 .5-9.2 .5 2.8 .5-4.7 .5 3 .5 3.1 .5 2.2 .5-8.5 .5 6.7 .5 .6 .5 .6 .5-1.7 .5-1.7 .5-2.5 .5-1.4 .5 9.2 .5-5.1 .5 1.5 .5 7.7 .5-8 .5 2.5 .5-.7 .5 .1 .5-7.7 .5 8.5 .5-9.4 .5 7.2 .5-5.9 .5 7.7 .5-1.5 .5-6 .5-2.9 .5 10.9 .5-6.9 .5 1.5 .5-3.1 .5 4.8 .5 .5 .5 8.2 .5-.4 .5-7 .5-.5 .5 2.4 .5-.4 .5 .5 .5-4.7 .5-1.1 .5 2.5 .5 5.4 .5-5.8 .5 6.3 .5-11.3 .5 6 .5 1.8 .5 3.2 .5 .9 .5-4.6 .5-5.1 .5 10.7 .5-7.3 .5 4.8 .5 5.3 .5-5.9 .5 .2 .5 .6 .5-7.5 .5-4.1 .5 10.6 .5-4.1 .5 5.2 .5-.2 .5-1.4 .5-3.3 .5 3.8 .5-2.7 .5 2.8 .5 6 .5-8.2 .5-.3 .5-.7 .5-1.6 .5 9.5 .5-8.4 .5 1 .5 7.3 .5-10.6 .5 1.6 .5 4.4 .5 2.9 .5-9.7 .5 7.8 .5 .2 .5 1.2 .5-4.3 .5 2 .5 .1 .5-2.7 .5 3.2 .5-2 .5-.7 .5 3.5 .5-5.7 .5 9 .5-.8 .5-5.5 .5 8.9 .5-7.2 .5-.3 .5 .1 .5-.2 .5-.2 .5 1.1 .5 2 .5 .3 .5-2.7 .5-2.1 .5-1.9 .5 8.1 .5-4 .5 .7 .5 3.2 .5 .9 .5 5.3 .5-10.7 .5-2.7 .5 7.1 .5 2.4 .5-1.1 .5-2.3 .5 2.5 .5-2.7 .5-3.7 .5 3.3 .5-4.6 .5 1.8 .5 7 .5-3.1 .5-1.6 .5 .2 .5 6.5 .5 3.5 .5-14.1 .5 9.4 .5-3.2 .5-3.1 .5-.1 .5 3.4 .5 2.7 .5-1.3 .5 1.3 .5 1.9 .5-6.4 .5 5.3 .5-4.8 .5 1.8 .5-1.9 .5 3.1 .5-8.5 .5 6.3 .5 6.5 .5-2.9 .5 0 .5-3.8 .5 1.7 .5 2.6 .5 5 .5-5 .5 1.1 .5 3.6 .5-4.7 .5 3.6 .5-3.8 .5-.6 .5-4.4 .5 9.7 .5-3.4 .5 9.8 .5-10 .5 2.1 .5-1.4 .5 3 .5 .8 .5-10.3 .5 1.3 .5-.4 .5 4.9 .5-.1 .5 8.7 .5-11.6 .5 12 .5-8.3 .5 2.5 .5 .8 .5-6.5 .5 4.3 .5 8.6 .5-8.8 .5-2.9 .5 3.9 .5 15.1 .5-18 .5 2.7 .5-2.8 .5 4.6 .5-2.6 .5-3.3 .5 9.5 .5 .6 .5-1.7 .5-5.7 .5 9 .5 .1 .5 1.5 .5-6.4 .5 2.2 .5 4.5 .5-4.7 .5-1.7 .5 19.4 .5-15.6 .5-7.3 .5 6.3 .5-3.2 .5 7.7 .5-7.8 .5 4.6 .5-.4 .5 5.2 .5 .4 .5-2.7 .5-5.8 .5 9.7 .5-4.9 .5 6 .5-4.9 .5 .9 .5-3.3 .5 1.9 .5 1 .5 1.7 .5 3.8 .5-3 .5-3.5 .5 2.9 .5-5.2 .5-3.1 .5 3.8 .5 7.1 .5 4.6 .5 7.2 .5-11.4 .5-9.3 .5 6.2 .5 .1 .5-6.5 .5 13.3 .5-6 .5-4.2 .5-1.1 .5 1.9 .5-.6 .5 9.1 .5 2.8 .5-9.4 .5-1 .5 9.7 .5-2.7 .5-6.6 .5 2.7 .5 11.8 .5-12.9 .5-6.5 .5 10 .5-3.5 .5-1 .5-1.4 .5 9.3 .5 6.8 .5-9.8 .5 1.5 .5-3.9 .5-2.9 .5 3.4 .5 .1 .5 9 .5-14.3 .5 4.6 .5-.3 .5-5 .5 12.7 .5-4.3 .5 1 .5 7.1 .5-7.6 .5 1.5 .5 .3 .5 3.1 .5-3.7 .5-5.3 .5 5.9 .5 6.4 .5-2.3 .5-6.6 .5 .1 .5-1.4 .5 12.6 .5-5 .5 3.8 .5-6.9 .5 7.6 .5-4.7 .5 .2 .5 3.1 .5-6.1 .5-1.5 .5 4.6 .5 4.3 .5 6.4 .5 7.2 .5-14.9 .5-1 .5 8.4 .5-18.6 .5 5.1 .5 1.1 .5 1.2 .5-2.1 .5 10 .5-6.3 .5 2.7 .5-7.9 .5 19.1 .5-14.5 .5-4.6 .5 2.3 .5-2.7 .5 1.3 .5 5.9 .5 6.4 .5 10 .5-10.9 .5-2.8 .5 2.3 .5 2.1 .5-1.5 .5 .3 .5-6.5 .5 11.9 .5-7.6 .5-3.2 .5 2.3 .5 8.1 .5-7.6 .5 5.1 .5-8.3 .5 1.7 .5 6.8 .5 4.2 .5-8.7 .5 .5 .5 .1 .5 3.4 .5 1 .5-4.4 .5 1.3 .5-5.4 .5 4.3 .5 5.3 .5-2.6 .5 .8 .5-11.8 .5 5.6 .5-1 .5 6.8 .5-7.8 .5 4.6 .5 11.6 .5-11.1 .5 9.9 .5-3.2 .5-.9 .5-1.9 .5-4.8 .5 1.3 .5 10.1 .5-6.8 .5 3.5 .5-4.3 .5 4.7 .5-19.4 .5 8.6 .5 11.1 .5 11.3 .5-14.5 .5 2.9 .5-4.3 .5-.1 .5 7 .5 4 .5-4 .5-11.9 .5 8.7 .5-4.8 .5 7.1 .5-4 .5-5.8 .5 15 .5-8.4 .5 .7 .5 1.9 .5 2 .5-12.5 .5 12.7 .5 1.5 .5-10.6 .5-3 .5 7.7 .5 10.1 .5-1.7 .5 5.2 .5-7.2 .5 2 .5 2.3 .5-16.6 .5-4.6 .5 5.9 .5 3.4 .5 6.1 .5-5.9 .5-.9 .5 6.4 .5-6.3 .5 10.5 .5-6.6 .5 14.1 .5-24.2 .5 11.2 .5 6.5 .5-6.9 .5 3 .5-.5 .5-7.3 .5 2.1 .5 16.1 .5-10.3 .5-11 .5 17.4 .5 1 .5-6.9 .5 15.3 .5-17.7 .5 3.9 .5-6.5 .5-7.1 .5 4.6 .5 5.1 .5 20.6 .5 3.4 .5-27.8 .5 4.3 .5-.8 .5 3.3 .5-8.4 .5 3.9 .5-2.2 .5 10.7 .5-9.6 .5 12 .5 2.8 .5 14.5 .5-27.2 .5 3.7 .5 4.8 .5 2.2 .5-3 .5-8.9 .5-5.2 .5 34.9 .5-23.3 .5-2.8 .5 .4 .5 4.1 .5 15.2 .5-7.1 .5-10.2 .5 11.4 .5 7.7 .5-5.1 .5-10.7 .5-7.1 .5 .4 .5 11.8 .5-10.2 .5 10.3 .5 .6 .5-11.3 .5 4.9 .5-3.5 .5 2.4 .5 10.8 .5-1.8 .5-1.7 .5 8.9 .5-4.4 .5-10.4 .5 8.6 .5 4 .5-1.8 .5 11.6 .5-6.2 .5-9.2 .5 2.8 .5 0 .5 10.9 .5-11.3 .5 21.7 .5-22.3 .5 4 .5-6.9 .5 13.3 .5-22.8 .5 7 .5-4.6 .5 17.2 .5-.6 .5-13.6 .5-1.5 .5 15.4 .5-.2 .5 7.4 .5-13.5 .5 17.3 .5-22.2 .5 8.8 .5-4.5 .5 16.9 .5-24.1 .5 3.6 .5 17.6 .5 4 .5-23.5 .5 30 .5-21.8 .5 27.9 .5-41 .5 13 .5 18.3 .5-10.9 .5-7.9 .5 38.6 .5-5.3 .5-29.6 .5 6.3 .5-5.4 .5 3.4 .5 1.8 .5-8.1 .5-4.5 .5 23.7 .5-19.5 .5 13.5 .5 4.4 .5-14.2 .5 21.4 .5-16.1 .5 18.7 .5-24.2 .5 7.5 .5-4.7 .5 6.6 .5 12.5 .5-15.7 .5-11.5 .5 5.7 .5-6.4 .5 28.9 .5-11.4 .5-7 .5 7.5 .5-11.8 .5 13.7 .5-2.1 .5 16.9 .5-23.2 .5 8.5 .5 19.6 .5-20.9 .5-12.4 .5 8.8 .5 2.5 .5-19.2 .5 39.5 .5-19.1 .5 18.2 .5-14 .5 17.6 .5-23.6 .5-8.6 .5 6.6 .5-4.7 .5 28.1 .5 .4 .5-15.3 .5 1.4 .5-29.5 .5 42.9 .5-12.3 .5 14.6 .5-8.5 .5-4.7 .5 7.1 .5 3.5 .5-12.1 .5-11.7 .5 26.1 .5-10.6 .5-14.5 .5-16.6 .5 38.1 .5-16 .5-2.2 .5-1.8 .5-1.5 .5 22.3 .5 19.8 .5-30.6 .5-4.1 .5 15.3 .5-19.6 .5 33.1 .5-12.6 .5 28.6 .5-14.6 .5-31.6 .5 15.6 .5-10 .5 2.9 .5-9.5 .5 33.5 .5-12.5 .5-19.8 .5 3.1 .5 25.6 .5 19.6 .5-38.4 .5-.2 .5-2.4 .5 49.1 .5-36.2 .5-17.7 .5 12.9 .5 5.5 .5-10.6 .5 26.2 .5-46.9 .5 27.9 .5 30.1 .5-66.3 .5 32.4 .5 19.9 .5-18.7 .5 13.5 .5-2.9 .5-3.9 .5 15.8 .5-30.7 .5 28.2 .5-16.2 .5 35.7 .5-42.5 .5 28.1 .5-18.7 .5-9.8 .5 12.8 .5-9.6 .5 4.9 .5 1 .5 8.2 .5-26.5 .5 31.3 .5 6.6 .5-2.9 .5-5.9 .5-26.5 .5 3.1 .5-3.3 .5 45.5 .5 121.3 .5-159.9 .5 23.4 .5-18.3 .5-12.7 .5 5.3 .5 28.8 .5-18.4 .5 18.5 .5-36.2 .5 10.6 .5 21.3 .5-4.3 .5 3.6 .5-29.5 .5 62.7 .5-41.3 .5 20.7 .5-28.1 .5-7.9 .5 38.8 .5 23.8 .5-19.4 .5-41.3 .5 74.3 .5-60.3 .5-13.9 .5 27.3 .5-5.6 .5 17.2 .5-7.7 .5 17.5 .5-19.3 .5 24.2 .5-21.8 .5-42.4 .5 34.9 .5-9.3 .5 5.9 .5 7.5 .5 20.4 .5-24 .5 17.8 .5-28.3 .5 12.2 .5 50.4 .5-54.9 .5 9.6 .5 15.1 .5-21.3 .5 .3 .5 17.7 .5-29.4 .5-21.7 .5 11 .5 17.4 .5 29.5 .5-6.9 .5 48.7 .5-42.2 .5-5.7 .5-8.7 .5-14.6 .5 13.1 .5-35.9 .5 23 .5-30.3 .5 57.6 .5 32 .5-43.9 .5-23.4 .5 12.6 .5 27.2 .5-5.6 .5-19.8 .5-22.8 .5 20.4 .5 2.6 .5 3.7 .5 8.6 .5-16.8 .5 3.6 .5-7.1 .5 15.1 .5-12.1 .5 21.5 .5 9 .5-54.6 .5 15.4 .5 10.8 .5-8.8 .5 17.4 .5-26 .5-6.6 .5 38.8 .5-37.5 .5-.1 .5 24.9 .5 55.2 .5-55 .5 52.4 .5-66.1 .5 48.3 .5-30 .5-8.3 .5 22.8 .5 65.3 .5-101.2 .5 48.1 .5 16.2 .5-41.3 .5 12.8 .5 68.9 .5-59.8 .5-19.2 .5 10.4 .5-23 .5 45 .5-41.2 .5-22.3 .5 8 .5 41.4 .5-30.8 .5 7.6 .5 103.5 .5-58 .5-29.3 .5-25.8 .5 43.5 .5-7.7 .5 208.5 .5-220.2 .5 35.9 .5-30 .5-1.9 .5 47.6 .5-97.5 .5 82.2 .5-83.5 .5 39.3 .5 228.1 .5-214 .5 12.4 .5 .6 .5 36 .5-89.5 .5 254.5 .5-81.5 .5-87.4 .5-88.5 .5 31.9 .5 55.9 .5 43.1 .5-131 .5 21.9 .5 55.6 .5-43.7 .5-23.9 .5 247.6 .5-176.9 .5-13.5 .5-32.1 .5 74.4 .5-69.9 .5 44.8 .5-54.6 .5 227.8 .5-263.3 .5 107 .5 156.3 .5 0 .5-211.6 .5-6.1 .5 21 .5 196.7 .5-200.9 .5-51.1 .5 252 .5-178.6 .5-22.7 .5-54.6 .5 145.2 .5-129.9 .5-6.3 .5 48.3 .5-13.1 .5-33.3 .5 162.3 .5-107.5 .5-35.5 .5 139.4 .5-132.4 .5 27 .5-29.4 .5 21.4 .5 6.7 .5-60.7 .5 79.7 .5-9.3 .5-49.1 .5 38 .5 4.5 .5-68.5 .5 49.5 .5 26.1 .5 26 .5-.9 .5-27.3 .5-37.8 .5-28.8 .5 41.3 .5 31.5 .5 58.8 .5-84.8 .5 11.1 .5-44.5 .5 26.5 .5-17.7 .5 4.2 .5-3 .5 9.3 .5-36.7 .5 108.8 .5-82.1 .5 18 .5 41.5 .5-19.8 .5-48.7 .5 141.7 .5-16.9 .5-61.4 .5-3.8 .5 173.3 .5-226.9 .5 36.3 .5 195.6 .5-191.5" fill="none" stroke="#2a3cff" stroke-width="2.5" stroke-linejoin="miter" stroke-miterlimit="2"/>
<path d="M194.4 421.5l.5 4 .5 31.9 .5-7.9 .5 9.3 .5-29.5 .5-35.5 .5 48.8 .5 4.9 .5-18.6 .5-4.1 .5 37.9 .5-39.4 .5-13.3 .5-3.4 .5 40.1 .5-45.8 .5 18.6 .5-14 .5 9.6 .5-15.6 .5 20.8 .5 4 .5-7.7 .5-18.5 .5 13.2 .5-8.6 .5 .2 .5 27 .5-30.4 .5 14.8 .5-2.7 .5 3.7 .5 11.2 .5-28.7 .5 24.4 .5-17.6 .5-3.7 .5 36.9 .5-28.4 .5-12.3 .5 5 .5 6.8 .5-5.5 .5 16.1 .5-15 .5 9.9 .5 3.2 .5-4.3 .5-20 .5 .1 .5 .2 .5 8.1 .5 17.7 .5-15.2 .5-1.3 .5 12.5 .5-14.1 .5 8.8 .5-11.3 .5 1 .5-2.6 .5 6.7 .5-4.9 .5-8.6 .5 16.7 .5-12.6 .5 14.4 .5-10.9 .5-8.7 .5 8.2 .5 .9 .5 .9 .5-3.6 .5 14.2 .5-23.2 .5 12.3 .5-4.7 .5 6.9 .5-11.6 .5-1 .5 3.3 .5 9.1 .5-4 .5 4.5 .5-4.6 .5 5.1 .5-14.2 .5 3.1 .5 .9 .5 2.9 .5 .7 .5 7.2 .5-9.9 .5-1.4 .5 1.8 .5 1.5 .5 4.5 .5-9.2 .5 8.2 .5-11.9 .5-1.5 .5 3.8 .5 3.5 .5-5.2 .5 .4 .5-2.9 .5 6.9 .5-4.5 .5 3.9 .5-3 .5 5.9 .5-3.8 .5 7.9 .5-9.8 .5-.3 .5 0 .5-2.4 .5-1.7 .5-5.2 .5-1.4 .5 8.6 .5-5.9 .5-1 .5 10.7 .5-6.5 .5-4.7 .5 8.6 .5-1.7 .5-8 .5 9.6 .5-8 .5 1.1 .5-6.9 .5 8.3 .5-1.6 .5 1.7 .5-3.1 .5-2.6 .5-1.2 .5-2.5 .5 5 .5 2.5 .5 .7 .5-3.6 .5-1.6 .5 .7 .5 7.1 .5-4.1 .5 0 .5-5.7 .5-2.2 .5 1.3 .5 8.9 .5-15.3 .5 4.9 .5 7.3 .5-13.4 .5 12.1 .5-6.8 .5 5.8 .5-6.9 .5 9.7 .5-4.9 .5-2.7 .5-3.9 .5 5 .5-7.6 .5 5.6 .5 3.7 .5-4.9 .5-1.3 .5 5 .5 .3 .5 .9 .5-4.9 .5 .3 .5-1.3 .5 7 .5-9.4 .5 12.9 .5-2.7 .5-1 .5-10.5 .5 5.4 .5-6.1 .5 3.8 .5 4.3 .5-1.2 .5 2.8 .5-1.3 .5-5.2 .5-11.6 .5 16.7 .5-6.6 .5 10.4 .5-13 .5 2.8 .5 .8 .5-.2 .5 5.5 .5-1.7 .5-5 .5-1.5 .5-1.6 .5 5.6 .5-3.1 .5 1.6 .5-6.6 .5 15.6 .5-11.9 .5 5.3 .5-5.7 .5-2.7 .5 3.5 .5 9.8 .5-8 .5 2.1 .5 1.2 .5-3.1 .5 1.4 .5-3.8 .5 .5 .5-4 .5 7.3 .5 1.9 .5-1.3 .5-12 .5 8.9 .5-2 .5-4.5 .5 5 .5 1.1 .5-1.8 .5 5 .5-3.3 .5 .3 .5-5.5 .5 3.4 .5-5.3 .5 3.4 .5-4.3 .5 8.5 .5 2.1 .5-6.1 .5-2 .5 7.9 .5-5.9 .5 .4 .5-.7 .5-.1 .5-3.8 .5 4 .5 3.6 .5-7.4 .5 4.9 .5 1.3 .5 2.5 .5-6.1 .5 5.5 .5 2.5 .5-5.8 .5-1.1 .5 5.7 .5 .1 .5-7.7 .5-1.6 .5 2 .5-3.1 .5 2 .5 8 .5 3.8 .5-12.6 .5 12.8 .5-12.1 .5 4.5 .5-2.5 .5 2.3 .5 4.2 .5-1.6 .5-3.1 .5-3.3 .5-3.2 .5 6 .5-5 .5-1.6 .5 5.8 .5 7 .5-1.6 .5 2.4 .5-2.4 .5-8.9 .5-2.2 .5 3.8 .5 6.4 .5-1.2 .5 2.5 .5-.2 .5-4.4 .5 2.4 .5-5.6 .5-1.7 .5 4.3 .5 3.7 .5-1.2 .5-10.2 .5 1.6 .5 6.5 .5-11.1 .5 9 .5 2.6 .5-1.2 .5 0 .5-2.6 .5-1.4 .5 3.6 .5 2.6 .5-.5 .5-3.9 .5-5.3 .5 6.3 .5 6.3 .5-2.4 .5 2.4 .5-7.2 .5 3.5 .5 1.5 .5-.5 .5-4.5 .5 5.6 .5-8.8 .5 13.7 .5-7.2 .5-7 .5 4.9 .5-1.8 .5 2.8 .5 .9 .5-2 .5-3 .5 1.6 .5-1.1 .5 6.6 .5-8.2 .5-.4 .5-5.2 .5 12.5 .5 5.8 .5-3.6 .5-4.4 .5 7.7 .5-8.5 .5 1.7 .5 1 .5-6.3 .5 13.1 .5-7.2 .5-4.5 .5 5.8 .5 .8 .5-4.8 .5-3.6 .5 .6 .5 6.1 .5 2.3 .5-2.6 .5-3.1 .5-5.3 .5 5.5 .5 3.1 .5 2.2 .5-1.7 .5-.3 .5 1.6 .5-6.2 .5 8.1 .5-1.3 .5 .5 .5-5 .5 3.5 .5-4.1 .5 .8 .5 6.8 .5-5.2 .5-1.9 .5-3.6 .5 4.4 .5 3.7 .5 .5 .5-.1 .5-1.1 .5-8.4 .5 12 .5-2.8 .5-11.8 .5-.3 .5 13.3 .5 1.1 .5-5.9 .5-.7 .5 5.9 .5-5.2 .5 1 .5-3.6 .5 10.4 .5-13.2 .5 10.5 .5-2.8 .5-5.3 .5 .5 .5 4.8 .5-5.8 .5 2.5 .5 2.9 .5 7.9 .5-7.3 .5 0 .5-7.2 .5 .3 .5 7.7 .5 6.1 .5-6.3 .5-7.8 .5 8.5 .5-6.2 .5 3.6 .5 3.7 .5-5.1 .5 7.4 .5 5.2 .5-6.2 .5-5 .5 6.9 .5 2.1 .5-6.3 .5 7.6 .5-6.7 .5-6.3 .5 6.3 .5-4.8 .5 1.7 .5 12.8 .5-6.4 .5-2.5 .5-1.5 .5-.7 .5-.1 .5 5.4 .5-3.1 .5-.1 .5 10.3 .5-19.2 .5 7.5 .5-.8 .5-2.3 .5-1.1 .5 3.1 .5 6.4 .5-2.9 .5-6.6 .5 6.1 .5-6.6 .5 1.6 .5 2.2 .5-4.9 .5 10.2 .5 1.3 .5-4.8 .5-1 .5 3.1 .5-4.7 .5-4.6 .5 .2 .5 6.8 .5-3.3 .5-.3 .5 4.8 .5 1 .5-2.3 .5 4 .5-5.2 .5 4.6 .5-10.7 .5 8.1 .5 4.9 .5-8.8 .5 6.4 .5 1.9 .5-5 .5 2.8 .5 2.9 .5 .4 .5-13.2 .5 8.8 .5 1.8 .5-6.4 .5 10.1 .5-7.2 .5 5.3 .5-8.1 .5 7.6 .5-2.8 .5 4.9 .5-1.9 .5-1.2 .5-2.2 .5-4.8 .5 19.5 .5-15.8 .5 3.6 .5 .8 .5-9.5 .5 7.9 .5 6.3 .5-2.3 .5 1.5 .5 3.2 .5-5.5 .5-2.7 .5 1.5 .5-.9 .5-3.4 .5 7.6 .5-2.8 .5-8.3 .5 11.9 .5-8 .5 0 .5 2.9 .5 .3 .5 7.6 .5-2.1 .5-5.5 .5 7.8 .5-13 .5 2.8 .5 7 .5-2.2 .5-3 .5 3.7 .5-6.9 .5 8.5 .5 3.8 .5-2.1 .5-3.9 .5 1.7 .5 .1 .5-7.8 .5 10.9 .5-4.2 .5-.9 .5 3.4 .5-.9 .5-9.4 .5 14 .5-3.5 .5 .5 .5-2.1 .5 2 .5 13 .5-10.6 .5 .2 .5-4.2 .5-.5 .5 6.8 .5-8.5 .5 8.1 .5-9.3 .5 8.5 .5 3.8 .5-5.7 .5 11.3 .5-1.9 .5-9.4 .5 7.2 .5-11.8 .5 4.8 .5-10.1 .5 10.4 .5 .8 .5-4.1 .5 10.7 .5-8.4 .5-5.8 .5 11.9 .5-.4 .5 .3 .5 5.7 .5-11.4 .5-3.9 .5 4 .5 8.4 .5 2.2 .5-4.9 .5-3.1 .5 1 .5 5.5 .5 1 .5 .7 .5-8.1 .5 4.8 .5 5.8 .5-11.6 .5 11.3 .5-8.1 .5-3.4 .5 11.1 .5-4.6 .5 1 .5-2.9 .5-1.8 .5 5.2 .5-5.9 .5 2.8 .5 2.9 .5 .5 .5-7.3 .5-1.2 .5-.9 .5-1 .5 18.5 .5 .8 .5-8.6 .5 5.5 .5-4 .5-8.4 .5 16.6 .5-9.4 .5 1.3 .5 2.4 .5-.7 .5 6.7 .5-15.4 .5 5.7 .5-1.6 .5 5.5 .5 2.5 .5-7.3 .5 2.4 .5 11.1 .5-.3 .5-7.4 .5-4.7 .5-6.6 .5 2 .5 3.7 .5 5.2 .5 3.3 .5-1.9 .5 1.5 .5-.9 .5 2.3 .5-7.9 .5 3.6 .5-3.1 .5-5.1 .5 19.6 .5-12.2 .5-2.2 .5 1.3 .5 4.2 .5-.4 .5 5.1 .5-7.6 .5-7.2 .5 1.4 .5 11.4 .5-6.4 .5 3.9 .5 3 .5-10.9 .5 11.4 .5-8.2 .5 2.2 .5-.9 .5-6.7 .5 10.7 .5-9.3 .5 10.2 .5-3.9 .5 2.1 .5 4.7 .5-10 .5 3.1 .5-1.3 .5-2 .5 3.6 .5-2 .5 4 .5 6.7 .5-8.6 .5 4.3 .5-6.9 .5-1.6 .5 7.7 .5-4.3 .5-7.9 .5 12 .5 5.7 .5-.2 .5-10.2 .5 11.9 .5 3.3 .5-16.5 .5 5 .5 7.9 .5-7.6 .5-4.8 .5 .1 .5 3.5 .5 8.9 .5-7.2 .5 13.5 .5-11.6 .5-.7 .5-2.9 .5 7.7 .5-2.8 .5 3.5 .5 1.1 .5-13.6 .5 11.5 .5-1.6 .5-.3 .5 2 .5 0 .5-3.8 .5 6.2 .5 8.4 .5-5 .5-2.4 .5-2.6 .5-1.2 .5-1.8 .5-2 .5 3.1 .5 1.5 .5 6.7 .5-8.3 .5 2.1 .5-7.6 .5 13 .5-1.7 .5-6.1 .5 14.9 .5-14.9 .5-4 .5 1.3 .5-11.1 .5 23.6 .5-4.5 .5 2.2 .5-9.3 .5 2.7 .5-6.6 .5 17.4 .5-1.2 .5-9.2 .5-.7 .5 16.4 .5-15 .5 4.9 .5-1.3 .5 10.8 .5-13.7 .5 4.3 .5-3.8 .5 3.7 .5 .1 .5-1.4 .5 18.5 .5-.3 .5-14.9 .5 3.6 .5-5.8 .5 3.6 .5-5.3 .5 1.1 .5-.4 .5 7.7 .5 .7 .5-.3 .5-13.4 .5 6.1 .5 7.1 .5-12.6 .5 4.8 .5 1.1 .5-6 .5-2 .5 8.2 .5 2.8 .5-7.6 .5 .1 .5 12.1 .5 4.3 .5-12.5 .5-3 .5 6.5 .5-2 .5 4.1 .5 11.3 .5-6.4 .5-15.6 .5 9.1 .5-9 .5 14.5 .5-.5 .5-9.5 .5 2.9 .5 6 .5-8.1 .5-1.4 .5 11.1 .5-17.6 .5 13 .5 1.1 .5-4.5 .5 6 .5-4.1 .5 9 .5-8.3 .5 8.3 .5-10.7 .5 5.7 .5 4.4 .5-8.3 .5-.6 .5 37.1 .5-30 .5-8.3 .5 21.7 .5-13 .5 3.1 .5-11.8 .5 21.2 .5-14.5 .5 .3 .5 12.3 .5 10.2 .5-8.9 .5-.5 .5-10.4 .5 21.4 .5-14.5 .5 6.5 .5-12.5 .5-7.7 .5 7.3 .5 2 .5 2.9 .5 7.9 .5-21.6 .5 15 .5-1.5 .5-11.2 .5 19.3 .5-11.8 .5 23.1 .5-25.6 .5 1.5 .5 5.1 .5 5.4 .5-20.6 .5 13.6 .5 5.3 .5 6 .5-4.4 .5 2.8 .5-.7 .5 5 .5-11.3 .5 12.1 .5-6 .5-10.7 .5-7.2 .5 24.5 .5 3.5 .5-9.9 .5-5.7 .5-4.1 .5 13.2 .5-21 .5 11.3 .5 3 .5-3.9 .5-7.1 .5 13.9 .5-12.5 .5 5.1 .5 9.3 .5-7.3 .5 4.2 .5 7.1 .5-15.7 .5 8.6 .5-11.6 .5 3.2 .5-1.9 .5 18.5 .5-12.1 .5 22 .5-35.9 .5 27.2 .5-18.8 .5 3.2 .5-4.9 .5 19.6 .5-3.5 .5 9.8 .5-12.3 .5 4.5 .5-8.3 .5-.1 .5 21.8 .5-26.8 .5 2.7 .5-10.3 .5 17.1 .5-1.3 .5-7 .5 1.1 .5 17.5 .5-14.8 .5 21.5 .5-29.3 .5 11.3 .5-5.9 .5 5.3 .5 16.4 .5-19.3 .5-10.3 .5 1.9 .5 33.9 .5-23.6 .5 15.1 .5-13 .5 4.7 .5-10.9 .5 2.8 .5-1 .5 9.2 .5-6.5 .5 10 .5-6.2 .5-9.1 .5-.2 .5 11.4 .5-9.4 .5 11.8 .5-5.4 .5-8.7 .5 8.7 .5 10.8 .5-10.3 .5 4.9 .5 20.5 .5-29.4 .5 3.2 .5 12.6 .5-7.5 .5-16.3 .5 10.5 .5 16.8 .5-9.7 .5-18.9 .5 12.4 .5 13.5 .5-7.1 .5 3.5 .5-5.5 .5 11.1 .5-15.8 .5-3.8 .5 14.8 .5-16.7 .5 24.3 .5-10.2 .5-9.6 .5-4.6 .5 20.4 .5-8.4 .5-2.1 .5 13.3 .5-22.7 .5 26.6 .5 7.3 .5-29.7 .5 17 .5-5.7 .5-5.9 .5 16.8 .5-6.8 .5 2 .5-13.2 .5 1.6 .5 22.2 .5-14.3 .5 4 .5-13.7 .5 22.4 .5-16.1 .5-3.7 .5 0 .5-3.6 .5 6.4 .5 17.3 .5 13.7 .5-37.8 .5 8.5 .5 14.2 .5 1.5 .5-12.7 .5-1.9 .5 17.1 .5-2.1 .5 8.6 .5-4.3 .5-9 .5 14.1 .5 2.5 .5-5.8 .5-5 .5-10.5 .5 1 .5 6.6 .5-9.5 .5-12.9 .5 3 .5 14.3 .5 26.1 .5-3.9 .5-7.5 .5 19.2 .5 12.8 .5-52.3 .5 24.5 .5-1.7 .5-3.5 .5-9.2 .5 11.6 .5-15.9 .5 52 .5-17.8 .5-35.7 .5 9 .5-5.1 .5 42.6 .5-49.3 .5 21.2 .5-19.4 .5 24.7 .5-7.4 .5 44.7 .5-39.5 .5 3 .5 16.5 .5-10.6 .5-14.6 .5-8.6 .5 33.4 .5-27.7 .5 6.8 .5 2.6 .5 .8 .5 23.3 .5-31.7 .5 60.1 .5-30 .5-23.6 .5-.9 .5 66.9 .5-73.7 .5 22.6 .5-32.7 .5 45.7 .5-11.3 .5 .4 .5 2.8 .5-31.8 .5 6.8 .5 15.9 .5-4 .5-14.4 .5 9.3 .5 1.2 .5-4.7 .5 4.1 .5 146.5 .5-85.2 .5-80.6 .5 11.1 .5 15.1 .5-14.6 .5 105 .5-80.5 .5-24.8 .5 17.7 .5-13.5 .5 44.8 .5-12.7 .5-35.8 .5 29.6 .5-38.3 .5 5.6 .5 60.4 .5-29.8 .5-11.9 .5-9.6 .5 180.6 .5-155.4 .5-35.7 .5 18.2 .5 27 .5-52.6 .5 24.1 .5 8.9 .5 19 .5-26.8 .5 29.4 .5-28.6 .5 53.6 .5-34.1 .5-33.7 .5 48.7 .5-38.4 .5 23.6 .5 35.8 .5-56 .5 162.6 .5-132.5 .5 78.4 .5-113.8 .5 15.6 .5 15 .5-38.8 .5 57 .5-37.4 .5 10.7 .5-10.8 .5 14.4 .5-17.3 .5 52.3 .5-41.8 .5 14 .5 28.7 .5-39.8 .5-9.3 .5 44.2 .5-45.3 .5 81.8 .5-67.5 .5-6.3 .5-12.1 .5 22.1 .5 3.8 .5 12.7 .5-4.9 .5-10 .5-37 .5 174 .5-169 .5 22.8 .5 4.2 .5 14.6 .5-17.6 .5 35.6 .5-40.5 .5-2.1 .5 26.3 .5-15.5 .5-3.3 .5 15.8 .5-45.4 .5 26.2 .5 78.5 .5-97.3 .5 60.6 .5 78.2 .5-67.5 .5-36.2 .5-17.8 .5 1.4 .5 43.1 .5-52.4 .5 5.4 .5 4.5 .5 0 .5 4.9 .5-11.8 .5-8.4 .5 27 .5 3 .5 102.3 .5-106.1 .5-3.4 .5-4.4 .5 154.6 .5-168.9 .5 89.3 .5-23.9 .5-79.4 .5 182.9 .5-139.8 .5 2 .5-36 .5-10.1 .5 139 .5-56.8 .5-30.8 .5 39.9 .5-76.4 .5 6.8 .5 162.2 .5-43.7 .5-113.7 .5 33.3 .5 34.5 .5 89.6 .5-112 .5 112 .5-68.9 .5-55 .5-28.2 .5 80.2 .5-33.7 .5-38.8 .5 5.2 .5-30.9 .5 73.1 .5-27.4 .5 124.4 .5-66.4 .5-35.6 .5-27.3 .5 1.6 .5-45.9 .5 36.8 .5-15.8 .5 8.8 .5 140 .5 3.8 .5-152.7 .5 6.6 .5 25.6 .5-.6 .5 121.1 .5-189.9 .5 189.9 .5-145.9 .5 61.7 .5 69.1 .5-120.9 .5 9.7 .5-16.2 .5-10.3 .5 152.8 .5 0 .5-141.6 .5 141.6 .5-105.8 .5-46.3 .5 19.2 .5 132.9 .5-150.8 .5 11.4 .5 30.6 .5 30.9 .5-13.9 .5-52 .5 25.9 .5 55.1 .5-19 .5-102.3 .5 184.1 .5-127 .5-27.2 .5-3.8 .5 45.6 .5 112.4 .5-121.9 .5-36.5 .5 158.4 .5-106 .5 4.1 .5-42.9 .5 62 .5 82.8 .5-121.2 .5 121.2 .5-3.4 .5 3.4 .5-140.2 .5-2.2 .5-.9 .5 143.3 .5-91.7 .5-85.9 .5 177.6 .5-154.3 .5 14.6 .5 13 .5 126.7 .5-145.4 .5 15.1 .5-27.2 .5 157.5 .5-102.2" fill="none" stroke="#4d66ff" stroke-width="2.5" stroke-linejoin="miter" stroke-miterlimit="2"/>
<path d="M194.4 505.2l.5-9.2 .5-14.5 .5 22.5 .5 1.1 .5-12.8 .5 21.5 .5-38.7 .5 16.2 .5 9.1 .5-1.9 .5 20.6 .5-16.3 .5 4.9 .5 56.4 .5-49.1 .5-6.5 .5 19.1 .5 35.9 .5-38.6 .5-12 .5-12.4 .5-6.5 .5 18.9 .5-.1 .5-15.7 .5-6.5 .5-2.6 .5 11.9 .5 11.3 .5-27.3 .5 17.8 .5-10 .5 0 .5 14 .5-30 .5-2.8 .5 23.2 .5 16.6 .5-29.7 .5-14.3 .5 5.1 .5 17.4 .5-2.2 .5-16.1 .5 16.8 .5-11.1 .5 6.9 .5 3.9 .5-11.6 .5 11.5 .5-4.1 .5-2.6 .5 3 .5-22.2 .5 21.1 .5-1.9 .5-3.7 .5 16.3 .5-16.2 .5 13.7 .5-10.3 .5-1.6 .5-8 .5 8.1 .5-10.6 .5-2.7 .5 15.7 .5-9.4 .5 12.9 .5-23.3 .5-1.5 .5 2.2 .5-.1 .5-.9 .5 11.4 .5 5.9 .5-19.6 .5 7.1 .5 12.8 .5-10.7 .5 3.7 .5 1.3 .5-8.3 .5 17.9 .5-17.2 .5-8.1 .5 6.7 .5 8.9 .5-9.1 .5 7.4 .5-19 .5 21.4 .5-5.4 .5 1.5 .5-1.7 .5 1.9 .5-5.7 .5-14.3 .5 9.8 .5 14.6 .5-12.5 .5 12.9 .5-12 .5 .4 .5 5.3 .5-5.1 .5-9.8 .5 4.7 .5 4.9 .5 9.2 .5 .8 .5-6.9 .5-1.1 .5-.9 .5 1.2 .5-13.2 .5 10.3 .5-2.2 .5-11.8 .5 11.3 .5 4.1 .5-4.7 .5-5.7 .5 8.6 .5-14.9 .5 21 .5-7.8 .5 5.2 .5-12.9 .5 14.9 .5-3.9 .5-19.3 .5 19.4 .5-3.1 .5 11.1 .5-20 .5 10.4 .5-2.6 .5-5.8 .5 5.4 .5-9.7 .5 .7 .5 7.4 .5-9.6 .5 4.8 .5-6 .5 5.5 .5 2.3 .5-3.7 .5 3.5 .5 2.6 .5-.5 .5-6.3 .5 3.4 .5 1.1 .5-7.1 .5 6.6 .5-7.4 .5-6.3 .5 13.7 .5 2.2 .5-3.3 .5 5 .5-14 .5 10.3 .5 2 .5-13.3 .5 11.3 .5-7.2 .5 3.2 .5-12.9 .5 .7 .5 5.1 .5-.7 .5 4.6 .5 5.5 .5-13 .5 9 .5-10.8 .5 6.7 .5-3.5 .5 5.4 .5 7 .5-9.1 .5 2.6 .5-2.7 .5 .3 .5-3.9 .5 3.3 .5 9.5 .5-3.7 .5 4.3 .5-12.8 .5-8.3 .5 11.1 .5 .8 .5 .8 .5-4.3 .5 6.3 .5-6.5 .5 3 .5 .4 .5-1.1 .5 3.2 .5-8.5 .5 10.5 .5-9.3 .5 14.2 .5-4.3 .5-10.9 .5 5.9 .5 .5 .5-9.6 .5-2.3 .5 .9 .5 5.4 .5-.9 .5 .8 .5 1.7 .5-1.7 .5-6.1 .5 11 .5-5.7 .5 6.3 .5-2.8 .5-3.3 .5 3.9 .5-.2 .5-4.1 .5-3 .5 5.9 .5-2.7 .5 3.4 .5-2.3 .5-7.7 .5 3.5 .5 1.9 .5-6 .5 14.6 .5-5.6 .5-.5 .5-7.7 .5 4.8 .5-5 .5 1.5 .5 6.3 .5-3.6 .5 5.8 .5-2.6 .5-3.2 .5 8.7 .5-3.3 .5 3.4 .5-10.1 .5 1.6 .5 .4 .5-4.3 .5 .3 .5 26.8 .5-29.2 .5 1.9 .5 2.9 .5 2.9 .5 5.2 .5-4 .5-.8 .5-11.4 .5 11 .5-5 .5 3.2 .5 .5 .5-6.7 .5 3.9 .5 4.1 .5-4.3 .5 4.5 .5-7.8 .5 7 .5-6.3 .5 3.4 .5 2.3 .5 1 .5-7.2 .5 8.1 .5-2.3 .5 6.4 .5-4.8 .5-.8 .5 1.4 .5 .4 .5 9.3 .5-7.5 .5 2.2 .5-9.7 .5 2.6 .5-1.3 .5-1 .5 1.6 .5 7 .5-5.6 .5-.1 .5-1.8 .5 7.4 .5-8.3 .5 1.8 .5 2.2 .5-2.2 .5-4 .5 1.9 .5 2.9 .5-5.2 .5 7.3 .5 .8 .5-6.5 .5-1.3 .5-.2 .5 10.6 .5-9.9 .5-6.8 .5 12.8 .5-6.4 .5 3.2 .5 3.8 .5-2.8 .5 4.4 .5-8.5 .5 1.8 .5 8.7 .5 3.5 .5-12.3 .5 3.7 .5-5.1 .5-5.1 .5 10.5 .5 .3 .5-2.9 .5-3.5 .5 7.4 .5-7 .5 1.8 .5 1.4 .5 4.2 .5-.6 .5-4.7 .5-.6 .5-.3 .5 6.2 .5 3.2 .5-6.8 .5-.5 .5 2.2 .5-4.9 .5 12.3 .5-8.9 .5 2 .5 4.3 .5-3.7 .5-2.6 .5 .7 .5-4.6 .5 3.7 .5 11.1 .5-13.9 .5 3.1 .5 2.9 .5-11 .5 8.5 .5 4.5 .5-1.3 .5-4.6 .5 3.3 .5-4.6 .5 .3 .5 3.2 .5 2.1 .5-6.6 .5-.3 .5 14.8 .5-13.5 .5 1.5 .5 .3 .5-1.1 .5 3.9 .5 8.1 .5-5.8 .5 7.3 .5-10.2 .5-1.4 .5-3.9 .5 3 .5-1.2 .5-1.2 .5 4.4 .5-1.9 .5-3.4 .5 1.4 .5-8.2 .5 7.2 .5 11.1 .5-5 .5 1.6 .5-7.4 .5 7.2 .5-6.5 .5 4 .5-2 .5-3.4 .5 8.7 .5 1.3 .5-9.3 .5 11.2 .5-7.7 .5 6.2 .5-3.5 .5-1.8 .5-.2 .5 .2 .5-2.2 .5 3.1 .5 4.6 .5-8.3 .5 3.5 .5 1.3 .5 1.2 .5-7.2 .5 4.5 .5 3.5 .5-6.7 .5 6.1 .5-.6 .5-3.8 .5-5 .5 9.2 .5-2.4 .5 1.3 .5 .6 .5 6.1 .5-2.9 .5-4.9 .5 4.3 .5-2.3 .5-6.1 .5 9.6 .5-5.3 .5 3.9 .5-5.8 .5-3.1 .5 7.3 .5-5.7 .5 7.4 .5-1.5 .5-2.6 .5 1.6 .5-1.7 .5 4.8 .5 1.6 .5-5.4 .5 4.5 .5-1.5 .5-.3 .5-2.3 .5 2.3 .5-4.6 .5 8.9 .5 2.8 .5-13.2 .5-1.4 .5 6.9 .5 2.4 .5-5 .5-.9 .5 1.2 .5 4.1 .5 1.7 .5-3.5 .5 8.5 .5-6.3 .5-9.8 .5 7.7 .5-3.5 .5 7.2 .5-2.8 .5-2.3 .5 11.4 .5-8.3 .5-5.3 .5 8.5 .5 6.2 .5-6.2 .5-.8 .5 23.2 .5-32 .5 3.6 .5 3.2 .5 8 .5 .6 .5-6.7 .5-1.2 .5-1.8 .5 4.8 .5-11 .5 6.2 .5 1.8 .5-9.8 .5 7.3 .5 5.1 .5 5.9 .5 .1 .5-13.5 .5 8.6 .5-8.3 .5-.6 .5 3.2 .5 3.3 .5 4.8 .5 1.1 .5-3 .5-9.2 .5 6.2 .5-1.8 .5 6.9 .5-9.4 .5 7 .5 2.6 .5-.8 .5-7.7 .5-.2 .5 .6 .5 8.5 .5 2.6 .5 2.4 .5-11.8 .5 3.8 .5 4.4 .5-2.8 .5 3.2 .5-7.7 .5 2.3 .5-5.2 .5 4.5 .5-1.9 .5 3.1 .5 2.3 .5-3.9 .5 6.5 .5-2.3 .5-2.2 .5-.7 .5 4.6 .5 1.7 .5-14.7 .5 7.3 .5 7.5 .5-7.1 .5 4.7 .5-.4 .5-3 .5-4.3 .5 20.6 .5-15.1 .5 6 .5-5.3 .5 1.9 .5 8.1 .5-5.3 .5 5.6 .5-5.8 .5 3.2 .5-.4 .5-1.7 .5-5.2 .5 9 .5 3 .5-7.4 .5-3.4 .5-.5 .5 5.8 .5 1.7 .5-9.7 .5 1.9 .5-9.9 .5 9.2 .5 14 .5-14.9 .5 7.5 .5-10.3 .5 9.7 .5-5.6 .5-2.7 .5 18.4 .5-9.6 .5 6.7 .5-10.8 .5 9.9 .5-5.3 .5 2.8 .5-7.1 .5 11.8 .5-11.9 .5 14.1 .5-7.6 .5-2.8 .5 9.3 .5-7.7 .5 6.4 .5-19.8 .5 17.8 .5-6.3 .5-2.7 .5-1.1 .5 16.2 .5-12.4 .5 6.3 .5 1 .5-6.7 .5-1.5 .5 7 .5-1.6 .5 12.9 .5-24.2 .5 17.9 .5-22 .5 18.6 .5-3.3 .5 3.6 .5-7.4 .5 3.2 .5-2.5 .5 8.6 .5 .6 .5-4.5 .5 3.3 .5-5.8 .5-2.5 .5 11.4 .5-8 .5 2.5 .5-1.1 .5 9.4 .5-12.9 .5 6.8 .5-4.4 .5 .6 .5-3.3 .5 1.8 .5 .5 .5 5.9 .5-7.8 .5-1.5 .5 13 .5 9.8 .5-20.3 .5 1.8 .5 12.1 .5-7.3 .5 5.8 .5-11.7 .5 3.1 .5 1.9 .5-1.2 .5-9 .5 18.3 .5 4.3 .5-10.9 .5-6.3 .5 12 .5-7.5 .5 4.6 .5-2.4 .5 .1 .5 3.1 .5-4.4 .5-6 .5 16.3 .5-1.1 .5-7.5 .5-6.6 .5 15.3 .5 1.1 .5-13.5 .5 4.2 .5 1.5 .5-5.4 .5-1.5 .5 2.4 .5 4.1 .5 2.4 .5-7.2 .5 25.8 .5-19.3 .5-.1 .5 9.2 .5-16.2 .5 19.6 .5-16.1 .5 9.4 .5-5 .5-6.5 .5 17 .5-13.7 .5 0 .5-1.2 .5-5.8 .5 7.6 .5 1.3 .5-4.9 .5 1.3 .5 5 .5-11.5 .5 14.7 .5-6 .5-4.5 .5-2.3 .5-.5 .5 8.5 .5-.1 .5 .8 .5 16.5 .5-17.5 .5 .7 .5-8.2 .5 21.8 .5-16 .5 19.3 .5-30.1 .5 22.9 .5-4.4 .5 12.9 .5-11.5 .5-9.5 .5 2.4 .5 8.7 .5-10.4 .5 14.1 .5-7.3 .5 13.4 .5-29.4 .5 11.5 .5 10.6 .5-7 .5 8.6 .5-1.4 .5-9.4 .5-4.8 .5 5 .5 1.7 .5 2.2 .5-.4 .5-5.5 .5-1.2 .5 4.1 .5 12.2 .5 .8 .5-14 .5 3 .5 1 .5 11 .5 7 .5-24.7 .5 12 .5-12.6 .5 14.3 .5-3.1 .5-8.7 .5 9.6 .5-5.6 .5 8.6 .5-14.7 .5 14.6 .5-11.9 .5 24.1 .5-3.5 .5-20.9 .5 2.2 .5 2.4 .5 23 .5-13.6 .5 5 .5-6 .5-11.2 .5 2.5 .5 1.6 .5 15.6 .5-4.4 .5-2.2 .5-6.1 .5-4.1 .5-13.8 .5 9.5 .5 16.7 .5-12.2 .5 3.7 .5 6 .5 2 .5-4.6 .5-3.7 .5 1.6 .5 1.4 .5-8.6 .5 25 .5-15.8 .5 9.5 .5-14.3 .5 13.3 .5-7.7 .5 11.6 .5-16.7 .5 11.9 .5-9.7 .5 2.6 .5 5.9 .5 4.8 .5-1.8 .5-13.7 .5 11.8 .5-3.3 .5-4 .5 15.8 .5-6.6 .5-10.1 .5 24.5 .5-22.8 .5-.5 .5 17.5 .5-19.8 .5 23 .5-19.4 .5-2.8 .5 3.3 .5-1.3 .5-1.5 .5 11.4 .5-2 .5 18.3 .5-24.6 .5-7.2 .5 16.8 .5 4.7 .5-21.4 .5 19 .5 6.4 .5-16.9 .5 1.4 .5 6.6 .5 21.6 .5-6.5 .5-19.7 .5 1.6 .5-14.4 .5 28.8 .5-22.5 .5 15.4 .5-14 .5 8.1 .5 6.2 .5-12.6 .5 3.2 .5-10.5 .5 11.5 .5-5.1 .5 22.7 .5-17.2 .5 18.2 .5-29.9 .5 15.8 .5 13.4 .5-12.7 .5-1.4 .5-5.6 .5 4.8 .5-8.8 .5 24.4 .5-7.4 .5 23.6 .5-28.7 .5-2.6 .5 1.7 .5-5.6 .5 2.6 .5-2.2 .5 44.8 .5-29.1 .5-12.6 .5 19.4 .5 5.1 .5-35.3 .5 8.4 .5-.3 .5 11.3 .5-2.3 .5-5.2 .5 11.4 .5-16.3 .5 12.5 .5-5.6 .5 7.1 .5 10.8 .5 15.1 .5-37.8 .5 19.7 .5-15.2 .5 .6 .5-10 .5 17.5 .5-16.7 .5 .3 .5-9.9 .5 4.8 .5 5.4 .5 17.4 .5-5.2 .5 35.6 .5 19.5 .5-34.2 .5-19 .5 13.3 .5-14.4 .5-13.2 .5 34.4 .5 4.2 .5-28 .5 17.8 .5-1.5 .5-19.9 .5 24.7 .5 5.4 .5-15.5 .5-7 .5-.2 .5 13.3 .5 15.1 .5-8.3 .5-34.3 .5 1.9 .5 6.1 .5 1.9 .5 15.3 .5 13.1 .5-16.5 .5-13.8 .5 20.5 .5-23.7 .5 34.8 .5-18.3 .5 1.8 .5-16.8 .5 3.5 .5 24.3 .5 38.7 .5-35.1 .5-30.4 .5-.4 .5-7.2 .5 34.1 .5-29.3 .5 23.2 .5-6.9 .5 8.1 .5-21.3 .5 9.5 .5-2.6 .5 5 .5-4.6 .5 .5 .5 3 .5-8.3 .5 25.6 .5-5.9 .5 8.2 .5-11.1 .5 16.5 .5-.9 .5 3.6 .5-14.5 .5-13 .5 60.1 .5-39.9 .5-16.5 .5 14.7 .5-22.6 .5 25.5 .5-3.8 .5-22.7 .5 34.3 .5-7.6 .5-26.4 .5 6.1 .5 27.4 .5 4.1 .5-33 .5 13.1 .5-6.4 .5-20 .5 39.7 .5-20.6 .5-10 .5 14.1 .5 22.4 .5-14.5 .5-2.1 .5 19.4 .5-34.3 .5 39.2 .5-22.9 .5 49.2 .5-48.6 .5 3.8 .5 5.5 .5-14.8 .5-7.9 .5 5 .5 64.7 .5-67.8 .5 27.5 .5 7.9 .5-28.1 .5-8 .5-5.6 .5 23.2 .5 25.1 .5-31.7 .5 7.8 .5 28.5 .5 5.8 .5-43.8 .5 10.9 .5 64 .5-77.3 .5 36.4 .5-33.9 .5 72.1 .5-44.6 .5 100.5 .5-137.3 .5 16.3 .5 23.1 .5-23.9 .5-1.7 .5 9.8 .5 28.9 .5-42 .5 21.2 .5-16.8 .5 15.7 .5-3.7 .5-5.2 .5-3.7 .5-6.6 .5-6.9 .5 13 .5-6.2 .5 23.6 .5-10.1 .5 45 .5-36.8 .5-10 .5 68.7 .5-30.1 .5 19.6 .5-48 .5-17 .5-12 .5 10.4 .5 13.4 .5 14.5 .5 13.4 .5-10.7 .5-50.5 .5 50.7 .5-15.3 .5-24.8 .5 21.4 .5 13.8 .5-16.9 .5 5.3 .5 9.6 .5-20.8 .5 30.6 .5-28.3 .5 26.8 .5 10.9 .5 79.6 .5-45.6 .5-73.7 .5-1.8 .5-.1 .5-19.6 .5 60.7 .5-24.3 .5-7.3 .5 4 .5 84.3 .5 18.4 .5-128.3 .5 47.6 .5 17.8 .5-49.9 .5 60.5 .5-5.3 .5-44.7 .5 26 .5-22.2 .5-15.9 .5 72.7 .5-35 .5-10.1 .5 91.8 .5-120.2 .5 103.4 .5-98.1 .5 88.2 .5-88.1 .5 29.7 .5 29.5 .5-63 .5 36 .5-18.2 .5 23.1 .5-27.4 .5-8.3 .5 7.6 .5-2 .5 36.3 .5-40.8 .5-16.3 .5 59.7 .5-5.7 .5 47.7 .5 26.9 .5-94.9 .5 94.9 .5-87.9 .5-9.5 .5-2.8 .5 4.6 .5-7.1 .5 97 .5 2.1 .5-94.5 .5-11.8 .5 40 .5 64.9 .5-88.4 .5-3.6 .5 17.7 .5-10.7 .5-32.3 .5 122.3 .5-58.9 .5-9.3 .5-67.6 .5 40.9 .5 12.3 .5-26.1 .5 21.6 .5 11.7 .5 75.4 .5-108.7 .5 38.4 .5-1.8 .5 72.1 .5-88.6 .5 13.4 .5-27.8 .5 97.8 .5-82.1 .5 87.3 .5-100.4 .5-18.2 .5 91.7 .5-67 .5 6.2 .5 24.8 .5-61 .5 18 .5 86.6 .5-38.2 .5-26 .5 13.4 .5-18.9 .5 71.2 .5-64.4 .5 82.2 .5-88.1 .5 64.7 .5-53.9 .5 77.3 .5-102.5 .5 49.7 .5 6.3 .5-66.3 .5 47.8 .5 65 .5-19 .5-35.9 .5-30.2 .5 8.1 .5-14.2 .5 91.2 .5-73.6 .5-27.5 .5 101.1 .5-88.3 .5 22.9 .5 39.5 .5-87.5 .5 113.4 .5-67.8 .5-33 .5-15.8 .5 9.4 .5 107.2 .5 0 .5 0 .5-98.3 .5 98.3 .5-1.5 .5-120.7 .5 119 .5-49.3 .5 26.8 .5 25.7 .5-12.9 .5-52.8 .5-41.9 .5 31.9 .5 70.3 .5-39.5 .5 40.1 .5-63.8 .5-2.2 .5-44.1 .5 114.9 .5-72.5 .5-24 .5 96.5 .5-132.8 .5 93.9 .5-12.8 .5-34.6 .5 5.5 .5-20.5 .5 8 .5 17.7 .5-10.9 .5 3.5 .5 19.9 .5 63.1 .5-28.5 .5 28.5 .5-30.7 .5-69 .5-2.5 .5 68.4 .5-36.4 .5 70.2 .5-80 .5-8.2 .5 72.9 .5-54.1 .5 69.4 .5 0 .5-72.9 .5-50.4 .5 46.7 .5-2.6 .5 3.3 .5-36.1 .5 10.5 .5 48.1 .5 53.4 .5-46.9 .5 46.9 .5-101.5 .5 68.8 .5-40.6 .5-26.4 .5 4.1 .5 95.6 .5 0 .5-26.2 .5 26.2 .5-91.1 .5 21.5 .5 8.9 .5 42.9 .5-77.4 .5 30.4 .5-32.1 .5 96.9 .5 0 .5-84.1 .5-8.5 .5 47.9 .5 17.9 .5 18.1 .5-104.6 .5 19.6 .5 35.7 .5-37.5 .5 31.4 .5 7.4 .5 .4 .5 28.7 .5 27.6 .5-75.1 .5 19.1" fill="none" stroke="#8098ff" stroke-width="2.5" stroke-linejoin="miter" stroke-miterlimit="2"/>
</g>
<clipPath id="cb"><rect x="1078.4" y="28.0" width="656.6" height="624.3"/></clipPath>
<g clip-path="url(#cb)">
<path d="M1079.7 176.2l.5 48.3 .5 56.4 .5-63.8 .5-40.6 .5 31.3 .5 6 .5-2.3 .5 2.1 .5-14.4 .5 13.6 .5-19.3 .5 31.7 .5-22.6 .5 16.3 .5-9.8 .5-19.9 .5 30.5 .5 14.9 .5-21.9 .5-14 .5-6.1 .5 28.9 .5-20.4 .5 15.7 .5 5.1 .5-14.8 .5-5.6 .5 12.2 .5 11.9 .5-22.7 .5 10 .5-14.1 .5 11.1 .5-18.2 .5 22.1 .5-.6 .5-11.3 .5 23.3 .5-35.1 .5 4.8 .5 19.9 .5-18.6 .5-22.4 .5 19.7 .5 3.5 .5 4.3 .5-5 .5 3.5 .5-11.5 .5 4 .5-20.2 .5 23.1 .5-.8 .5-19.2 .5 17.3 .5-19.2 .5-2.6 .5 4 .5 1.2 .5-9.2 .5 7.1 .5-7.7 .5-.9 .5 8.4 .5-5.9 .5 29.7 .5-33.5 .5 1.4 .5 9.5 .5-15.1 .5 1.9 .5 4.9 .5-4.1 .5 1.6 .5 5.4 .5-3.3 .5 3.1 .5-.2 .5-8.2 .5 2 .5-8.7 .5 12.7 .5-8.4 .5 4.7 .5-9.3 .5 6.2 .5-10.6 .5 9.7 .5-3.7 .5-9.3 .5 12.2 .5-5 .5-12.7 .5 23 .5-13.3 .5-2.6 .5 .4 .5 3.7 .5 .2 .5 3 .5-4.9 .5 2.5 .5-12.6 .5 10 .5-7.5 .5-2.2 .5 5 .5-2.3 .5 9.4 .5-11.9 .5 1.7 .5 1.8 .5-8.1 .5-.5 .5-1.2 .5 6.9 .5-4 .5-4.2 .5 3 .5 1.4 .5-4.3 .5-2.3 .5 7.2 .5 2.5 .5-11.3 .5-.7 .5 9.3 .5-4.5 .5-7.1 .5-6.4 .5 10 .5-2.9 .5 4.6 .5-7.9 .5 3.2 .5 12 .5-5.4 .5-.6 .5-3.9 .5-.8 .5-3.4 .5 3.2 .5-3.4 .5 8 .5-6.8 .5-1.5 .5 3.2 .5 4.5 .5-5.4 .5-.4 .5-10.4 .5 4.7 .5 1.1 .5-2.9 .5 .1 .5 2 .5-7.4 .5 6.8 .5 0 .5-2.7 .5 .2 .5 5.2 .5-6.5 .5 9.4 .5-8.3 .5 9.6 .5-11 .5 7.8 .5-5.6 .5-2.2 .5 5.1 .5 3.7 .5-4.2 .5 .1 .5-1.9 .5 .9 .5 4.7 .5-9 .5 4.7 .5-1.2 .5 10.6 .5-2.8 .5-4.5 .5-1.8 .5 5 .5-7.6 .5-2.5 .5 3.4 .5 7.1 .5-1.1 .5 2.8 .5-15.5 .5 11.6 .5 1.3 .5-6.2 .5-4.1 .5 5.8 .5-6.4 .5 13.4 .5-6.1 .5 3.6 .5 4.2 .5-3.8 .5 2.8 .5-7.4 .5 1 .5 2.8 .5 4.8 .5-3.9 .5 0 .5-1.6 .5-2.2 .5 .7 .5 7.9 .5 .8 .5-6.5 .5 7.3 .5-7.2 .5 5.5 .5 1 .5 3.8 .5 1.4 .5-5.1 .5 1 .5 1.2 .5-2.3 .5 5.3 .5 .6 .5-3.2 .5 5 .5-5.8 .5-.7 .5 8.4 .5-5 .5-7.9 .5 6.8 .5-1.2 .5 6.4 .5-6.8 .5 7.9 .5-6.4 .5-1.1 .5-4.1 .5 6.4 .5 7.9 .5-12.1 .5 7.5 .5-8.6 .5 .1 .5 12.6 .5-6.6 .5 2.1 .5 1.3 .5-8 .5 3.5 .5 6.8 .5-5.3 .5-.5 .5-2 .5-4.2 .5 2.6 .5 3.6 .5 .3 .5-5.4 .5 21.3 .5-11 .5-3.3 .5-4.6 .5-.4 .5 3.7 .5-3.9 .5 5.3 .5-2.3 .5 8 .5-.8 .5 .2 .5-1.7 .5-12.1 .5 9.6 .5 3 .5-7.7 .5 1.9 .5 3.6 .5-5.9 .5 1.3 .5-1.5 .5 .3 .5 7 .5 0 .5 1.5 .5-6.9 .5-.9 .5 1.4 .5-8.7 .5 16.6 .5 5.1 .5-8.7 .5 2.4 .5-11.9 .5 3.8 .5 6 .5-.4 .5 5.9 .5-11.9 .5-.9 .5 .9 .5 13.1 .5-10.4 .5 11.2 .5-12.9 .5 13.2 .5-13.5 .5-1.9 .5 3.5 .5 1.4 .5-.8 .5 .5 .5 10.8 .5-4.2 .5-4 .5-1 .5-3.5 .5 4.3 .5 2.1 .5 6.2 .5-8.4 .5-3.6 .5 5.8 .5-3.7 .5 4.5 .5 1.2 .5-1.8 .5-2 .5-.2 .5-2.8 .5-6.5 .5 9.2 .5-8.1 .5 10.5 .5-4.5 .5 3.7 .5-4.4 .5 1.3 .5 .5 .5 5.7 .5 2.1 .5-19 .5 8.8 .5 1.4 .5-1.4 .5-2.9 .5 5 .5 .1 .5-6.7 .5 2.4 .5 4 .5 3.4 .5-.2 .5 7.8 .5-15.8 .5 2.2 .5-6.5 .5 4.1 .5 1.8 .5 6.9 .5-5.9 .5 0 .5-6.8 .5 5.1 .5-3.1 .5-1.2 .5 6.1 .5 5.3 .5-5.8 .5-1.5 .5-2.3 .5-3.3 .5 5.2 .5 3.7 .5-6.1 .5 .7 .5 6.2 .5-11.6 .5 9.2 .5-5.9 .5 8.1 .5-11 .5 16.8 .5-8.9 .5-4.6 .5 5.4 .5-1 .5-1.6 .5-.6 .5-10.5 .5 10.3 .5-4.7 .5-.4 .5 5.1 .5-4 .5-6.9 .5 2.6 .5 3.6 .5 6.3 .5 1.5 .5 1.9 .5-12.3 .5 12.7 .5-3.8 .5-8.5 .5 9.9 .5-9.8 .5 2.7 .5-.1 .5 12.4 .5-9.7 .5-4.5 .5 1.5 .5 .5 .5 1.3 .5 .6 .5-3.5 .5 3 .5-3.1 .5 3.4 .5-9 .5 17.5 .5-6.5 .5-9.3 .5 2.3 .5-3.3 .5 7.4 .5 .4 .5 6.2 .5-4.6 .5-4.6 .5 9.3 .5-5.8 .5-1.5 .5-14.4 .5 14.3 .5-2.3 .5 .9 .5 5.7 .5 2.1 .5-7.6 .5 1.7 .5 1.4 .5-5.7 .5 6.4 .5 3.5 .5-9.3 .5-4.9 .5 6.8 .5-2.8 .5 7.6 .5-.7 .5-1.6 .5 2.9 .5-2.2 .5-.1 .5-4.9 .5 3.4 .5-4.3 .5 11.8 .5-5.7 .5-.2 .5-4 .5 4.2 .5 8.4 .5-12.5 .5 6.7 .5-14.3 .5 11.1 .5-4.6 .5 .7 .5-3.3 .5 8.5 .5-10.2 .5 14.6 .5-8.9 .5-1.4 .5 4.3 .5-5.7 .5 6.3 .5 2.6 .5-7.5 .5-.7 .5 4.2 .5-7.7 .5 11.6 .5 2.2 .5-3 .5-5.6 .5 1.1 .5 4.5 .5-4.2 .5-5.1 .5 5 .5-3.2 .5 5.7 .5-9.5 .5 10.3 .5 .9 .5-.2 .5-5.2 .5 3.2 .5-5.1 .5 0 .5 1.1 .5 3.3 .5 3.4 .5-7.1 .5-1 .5 10.1 .5-9.3 .5-.6 .5 12.1 .5-2.6 .5-4.3 .5-2.5 .5 4.1 .5 .8 .5-6.5 .5 9.6 .5-2 .5-.7 .5-12.5 .5 9.2 .5 6.2 .5-6.2 .5 12.1 .5-10.2 .5 7.7 .5 1.4 .5-11 .5 1.7 .5 12.2 .5-7.4 .5-5.6 .5 13.8 .5 2.3 .5-8.4 .5-2.8 .5 5 .5-2.7 .5 4 .5-1.6 .5-9.1 .5 7.3 .5 2.7 .5-5.3 .5 1.2 .5 1.2 .5 4.6 .5-8.9 .5 7 .5 2.6 .5-8.4 .5 3.1 .5 1.1 .5 8.6 .5-9.3 .5 1.6 .5 1.4 .5 3.2 .5-2 .5 3.3 .5-10.2 .5 9.1 .5 12.6 .5-8.6 .5-3.8 .5-7.4 .5 7 .5 2.1 .5-6.1 .5-6.8 .5 16.9 .5-8.4 .5-4.1 .5 3.5 .5-3.9 .5 3.7 .5 4.1 .5-1.7 .5 8.8 .5-1.8 .5-.9 .5-5.9 .5 4.7 .5-3 .5 .9 .5-.2 .5-.4 .5 8.4 .5-3.6 .5-1 .5 .2 .5 .5 .5-6.4 .5 4.4 .5 4 .5 2.1 .5-12.3 .5 15.9 .5-3.1 .5-4.6 .5-3.7 .5 1.5 .5 2.1 .5 8.9 .5-3.4 .5-1 .5 2.2 .5-4.4 .5 4 .5-4.5 .5 12.8 .5-18.6 .5 6 .5-.6 .5 1.6 .5-7 .5 7.7 .5-4.7 .5 4.8 .5-9 .5 12.9 .5 2.5 .5-1.7 .5-1 .5 9 .5-7.7 .5 1.9 .5-10.4 .5 7.8 .5 2.5 .5-4.3 .5-.3 .5 8.5 .5-9.6 .5-10.7 .5 14.4 .5-4.8 .5 4.3 .5 9.7 .5-17.7 .5 10.9 .5-2.4 .5 16.2 .5-16.4 .5-1.5 .5 2.5 .5-2.4 .5 .8 .5 2.4 .5 1.2 .5-5.2 .5 6.3 .5 11.2 .5-6.3 .5-.8 .5-5.7 .5-1.6 .5-2.5 .5 4.4 .5-2.4 .5 1.6 .5 13.1 .5-12.6 .5 7.8 .5-12.8 .5-.2 .5-1.5 .5 15.9 .5-2.5 .5-1.2 .5 2 .5-4.2 .5-6.9 .5 13 .5 10.6 .5-21.3 .5 6.7 .5-8.5 .5 6.8 .5 3.7 .5-7.2 .5 14.9 .5-2.3 .5-6.1 .5 2.7 .5-16.1 .5 14.1 .5 3.1 .5-8.1 .5 22 .5-24.8 .5 9.8 .5 5.9 .5-13.4 .5 .4 .5 23.3 .5-10.4 .5 4.4 .5-3.1 .5 2.2 .5 0 .5-13.9 .5 15.2 .5-6.1 .5-10.9 .5 5.4 .5 11.3 .5-11.9 .5-7.2 .5 8 .5 6.3 .5-7.3 .5-.4 .5 4.8 .5 1.6 .5-1.2 .5 12 .5-19.5 .5-.8 .5 3.3 .5-.3 .5 6.3 .5 15.3 .5-14.4 .5 .9 .5-4.4 .5-8.3 .5 8.2 .5-4.9 .5 7.7 .5 11.9 .5-10 .5 .2 .5 9.1 .5-.8 .5 .6 .5-11.3 .5-5.9 .5 16 .5-5.1 .5-7.3 .5-6.2 .5 10.6 .5-9.1 .5 16.8 .5-6.4 .5 6.3 .5-6.6 .5-2.7 .5-8 .5 27.8 .5-22.6 .5 7.2 .5-.5 .5-1.1 .5-7.8 .5-3.5 .5 13.1 .5-6.2 .5 2 .5-8.2 .5 19.4 .5-17.6 .5 4.9 .5-2.2 .5 10 .5-7.1 .5 5.6 .5 5.7 .5-15.2 .5 7.4 .5 2.8 .5-3.3 .5-3.2 .5-5 .5 2.3 .5 13.8 .5-15.1 .5 11.6 .5-5.1 .5 8.1 .5-14.6 .5 9.8 .5-1.9 .5-2.2 .5 5.1 .5 1 .5-1.5 .5-13.7 .5 16.8 .5-14.2 .5 9.8 .5 2.7 .5-3.3 .5 1.4 .5-7.1 .5 1.5 .5 4.3 .5 4.4 .5 5.7 .5-.8 .5-10.2 .5 4.8 .5 6 .5-8.3 .5 9.9 .5-14.8 .5 2.3 .5-3.4 .5 5.7 .5-2 .5 17.7 .5-12.3 .5 3.1 .5-8.7 .5-1.1 .5 3.9 .5-7.6 .5 13.1 .5-6.8 .5 6.9 .5 7.5 .5-4.3 .5-9.5 .5 15.6 .5-1.2 .5-16.9 .5 15.7 .5 2.2 .5 3.1 .5-24.6 .5 4 .5 23.5 .5-24 .5 23.7 .5-21 .5 14.2 .5-12.3 .5 12 .5-2.7 .5-5.6 .5 10.6 .5-18.8 .5 27.3 .5-7.9 .5-7.2 .5 3.7 .5-1.2 .5 4.4 .5-3.2 .5-16.1 .5 20.8 .5-17.3 .5 20 .5 6.6 .5-20.7 .5 8.4 .5-.3 .5-7.2 .5 7.5 .5-10.5 .5 10.9 .5-4.9 .5 4.4 .5-2.3 .5 3.1 .5 3.9 .5 .6 .5-10.2 .5-.6 .5 2.5 .5 7.7 .5-13.7 .5 7.7 .5-3.7 .5 17.5 .5-7.1 .5-11.8 .5 1.7 .5 7.2 .5-8.1 .5 7.2 .5 10.7 .5 12.3 .5-26.1 .5 1.8 .5 2.3 .5-3.4 .5-3.4 .5 11.7 .5-3 .5-4.5 .5 13.4 .5-18.3 .5 6.5 .5 6.7 .5-.6 .5 2.7 .5 28.8 .5-44.1 .5 21 .5-16 .5 2.6 .5 22.8 .5-2.3 .5-24 .5 9.1 .5 16.2 .5-18.8 .5 3.4 .5 8.6 .5-18 .5 13.3 .5-5.3 .5 9.4 .5-.3 .5-19.7 .5 18.5 .5-8.2 .5-4.1 .5 6 .5 5.2 .5-10 .5-11.1 .5 15.6 .5 14.2 .5-18.7 .5 3.4 .5 16.8 .5-34.8 .5 16.9 .5-13.5 .5 16.9 .5-2.6 .5 12.9 .5-5.4 .5-6.9 .5 .5 .5 2.2 .5-.4 .5 3.1 .5-2.6 .5 12.4 .5 1.3 .5-17.5 .5 2.9 .5 9.6 .5-3.9 .5 .8 .5 17.4 .5-16.7 .5-6.5 .5 8.2 .5 3.3 .5 18.2 .5-22.1 .5-2.1 .5-.7 .5 16.4 .5-13.9 .5-3.7 .5-7.3 .5 12.6 .5-15.4 .5 12.8 .5-1 .5 5.7 .5 14.2 .5-24.2 .5-5 .5 7.5 .5-.6 .5 11.7 .5 19 .5-26.6 .5 19.8 .5-20.2 .5 2.4 .5 4.2 .5 16 .5-1.2 .5-5.6 .5 16.9 .5-15.6 .5-12.1 .5 4.4 .5-17 .5 24.4 .5 6.7 .5-22.4 .5 7.6 .5-1.4 .5-15.9 .5 24.2 .5-3.4 .5-2.5 .5 .8 .5 19.4 .5-21.4 .5 1.4 .5 2.3 .5 9.6 .5-14.7 .5 19.2 .5-20.2 .5 3.9 .5 8 .5-14.3 .5 18.8 .5-7.5 .5 2.4 .5-9.4 .5 19.4 .5-43.4 .5 14.9 .5 62.8 .5-55.9 .5 22.5 .5 18.2 .5 13.5 .5-43.5 .5 15.2 .5-21 .5 10.6 .5-6.7 .5-23 .5 .6 .5 43 .5-36.5 .5 73.8 .5-64.3 .5 6.2 .5 72.4 .5-77.7 .5 31.9 .5-35.1 .5 71.5 .5-36.4 .5-41.1 .5 69.9 .5-6.8 .5-33.2 .5-25 .5 41.9 .5-36.3 .5 40.2 .5-63.5 .5 80.9 .5-16.8 .5 2.5 .5-17.6 .5 9.5 .5-26.2 .5 44.8 .5-72.3 .5 39.9 .5-24.6 .5 12.3 .5 10.7 .5-12.4 .5-1.9 .5-14.7 .5 24.2 .5 16 .5 87.5 .5-127.7 .5 10.4 .5 5 .5 2.3 .5 10.2 .5 2.5 .5 24.4 .5-39.8 .5 57.3 .5-19.3 .5-24.4 .5 3.6 .5-24.9 .5 20.2 .5 14.9 .5-32.5 .5 5.2 .5 30.9 .5 14 .5-62.4 .5 34.6 .5 24.8 .5 9.9 .5-8.8 .5-12.2 .5-20.1 .5-16.3 .5 66.6 .5 9.6 .5-68.2 .5 20.1 .5-33.6 .5 10.1 .5 58.4 .5-52 .5-3.3 .5 45.4 .5-12.8 .5 4.9 .5 51.9 .5-70.1 .5 31.1 .5 75 .5-103 .5 9.8 .5-55.3 .5 15.7 .5 29.1 .5 19.8 .5-32.1 .5 1.8 .5 20.2 .5-30.2 .5 12.6 .5 32.5 .5 375.4 .5-350.9 .5 53.5 .5-101.3 .5 4.7 .5-33.8 .5 30.3 .5 11.7 .5-19.2 .5-17.4 .5 77.6 .5-91.7 .5-1.4 .5 36.7 .5-8.3 .5 197.6 .5-146.2 .5-45.8 .5-21.2 .5 54.8 .5-15.5 .5-7.1 .5 16 .5-36.7 .5 44.3 .5 79.5 .5-66.2 .5-9.6 .5 29.4 .5-53.2 .5 10.2 .5 65.4 .5-60.7 .5 70.6 .5 35.6 .5-61.6 .5 329.9 .5-400.7 .5-6 .5 12.1 .5-15.5 .5 106.1 .5-8.1 .5-98.5 .5 16.1 .5 74.3 .5-23.1 .5-70.3 .5 13.5 .5 85.3 .5-71.9 .5 23.3 .5-2.9 .5-53.2 .5 41.9 .5-28.6 .5 63.8 .5 4.8 .5-70.2 .5-13.7 .5 12.3 .5-14.4 .5 6.6 .5-16.1 .5 32.5 .5 14.6 .5-8.8 .5-19.5 .5-15.3 .5 40 .5 35.1 .5-13.5 .5 368 .5-383.9 .5 16 .5 80.2 .5-108.1 .5-24.4 .5 110.5 .5-83.8 .5 24.9 .5 23.8 .5-12.1 .5-79.1 .5 125.8 .5-108.4 .5 418.6 .5-401.2 .5 143.2 .5-131.2 .5-17.4 .5 2.3 .5 23.5 .5 22.1 .5-53.8 .5 412.5 .5-404.8 .5 81.4 .5-106.6 .5 174.9 .5-185.3 .5 37.9 .5 86.2 .5 3.8 .5-51.7 .5 82.3 .5-34.4 .5-56.8 .5-42.5 .5 75.2 .5-34.9 .5-25 .5-7.8 .5-3.5 .5 70.6 .5-50.4 .5 3.4 .5 40 .5-27.9 .5 375.9 .5-246.8 .5-102.4 .5-62.2 .5 175.2 .5-153.1 .5-22.6 .5 411.9 .5-384.3 .5 384.3 .5-331.2 .5-11 .5 28.2 .5-55.8 .5 54.2 .5-74.1 .5-20.9 .5 50.2 .5-52.8 .5-13.5 .5 108.3 .5 23.4 .5-94.7 .5 165.3 .5-190 .5 29.1 .5 385.3 .5-371.9 .5-38 .5 31.3 .5-9.4 .5 388 .5-365.3 .5 365.3 .5-421.3 .5-.6 .5 26.9 .5 58 .5-36.3 .5 73.8 .5-43.4 .5-40.3 .5-7.9 .5 20 .5 76 .5 295.1 .5-300.4 .5-31 .5-50 .5 48.5 .5-29.7 .5-40.3 .5 43.8 .5-31.7 .5 26.4 .5 19.7 .5 34.3 .5-93.3 .5 18.3 .5-12.6 .5-28" fill="none" stroke="#549926" stroke-width="2.5" stroke-linejoin="miter" stroke-miterlimit="2"/>
<path d="M1079.7 247.4l.5 37.2 .5 19.3 .5-17.9 .5 41.2 .5-62.8 .5-7 .5 4.3 .5 2 .5 28.2 .5 11.1 .5-37.5 .5 9.1 .5 20.4 .5-31.1 .5-8.6 .5 40.7 .5-30.3 .5 6.8 .5-8.7 .5-6 .5 2.9 .5 1.2 .5 21.3 .5-14.4 .5 18.9 .5-5.3 .5 16.3 .5-26 .5-4.7 .5 .9 .5-14.6 .5 4.3 .5 14.2 .5 34.4 .5-49.4 .5 9.3 .5-19.2 .5 11.9 .5-4.2 .5 3.7 .5 10.4 .5-5 .5 5.7 .5 7.6 .5-27.4 .5 35.7 .5-22.9 .5-9.4 .5-5.5 .5-3 .5 8 .5 1.3 .5-2.8 .5-12.4 .5 3 .5 .8 .5-1.8 .5 2 .5 20.5 .5-7.1 .5-.3 .5-11 .5-8.1 .5 10.7 .5 1 .5-4.3 .5-6 .5 12.3 .5-15 .5 .4 .5 11.1 .5-16.5 .5 5.4 .5 10.4 .5-15.1 .5 8.4 .5-6.9 .5-11.7 .5 11.5 .5 9.7 .5-14.3 .5 14 .5-20.2 .5 2.1 .5 .4 .5 8.4 .5-2.9 .5-4 .5 1.1 .5 4.9 .5-6.4 .5 8 .5-6.5 .5 13 .5-19.4 .5-1.7 .5-4.9 .5 3.4 .5 15.6 .5-6.8 .5-12.6 .5 10.4 .5-8.6 .5 7 .5-17.3 .5 21.5 .5-11.5 .5 4.9 .5-8.9 .5-2.4 .5 2.4 .5 13.5 .5-23 .5 7.5 .5 .7 .5-8.9 .5 13.7 .5-12.9 .5-1.6 .5 2.5 .5 5.7 .5-4.5 .5 7 .5-7.4 .5 7.9 .5-4.3 .5-7.5 .5 8.4 .5 5.9 .5-11.1 .5-2.5 .5 10.5 .5-4.1 .5-5.1 .5-.3 .5 7 .5 3.1 .5-5 .5-.4 .5-8.2 .5 1.3 .5 15.6 .5-12.2 .5-.2 .5-1.7 .5-.8 .5 .1 .5 1.6 .5 1.5 .5-4.2 .5 7 .5 4.6 .5-9.6 .5 13.2 .5-18.9 .5 6.3 .5 1.5 .5-3.3 .5 18.7 .5-15 .5 .1 .5 2.7 .5-4.7 .5-2 .5 3.8 .5-1.2 .5 2.8 .5-7.5 .5 11.2 .5-5.8 .5-4.3 .5 4.7 .5-4.5 .5 9.3 .5-3.3 .5 9.2 .5-13.4 .5 3.3 .5-2.5 .5 2.4 .5-5.8 .5-.6 .5 6.1 .5-.2 .5-3.1 .5 11.6 .5-8.8 .5 4.3 .5 2 .5-7.6 .5 3.8 .5 5.2 .5-11.6 .5 14.6 .5-6.9 .5 2.8 .5-1.5 .5-.6 .5-6.6 .5 2 .5-.7 .5-.4 .5 6.4 .5-8.8 .5 5.4 .5-1.5 .5 3.9 .5-2.2 .5-1.5 .5 4.8 .5-4.1 .5-2.9 .5 1.8 .5 10.6 .5-6.5 .5 1.3 .5 7.9 .5-10.8 .5 3.3 .5-5.9 .5 2.2 .5-.3 .5-2.7 .5 15.3 .5-9 .5-.7 .5-1.4 .5 2.5 .5-9.4 .5 5.3 .5 2.1 .5 14.7 .5-17.9 .5 5.5 .5-3.8 .5-1 .5-7.4 .5 11.5 .5-5.1 .5 3.5 .5 4.3 .5-1.9 .5-1.2 .5-1.6 .5 2.2 .5 4.4 .5 .7 .5-15.6 .5 12.3 .5 6.3 .5-2 .5 0 .5-2.9 .5 6.3 .5 .5 .5-3.4 .5-1.5 .5-1.9 .5-5.6 .5 8.1 .5 13.5 .5-9.6 .5 1.4 .5-7.4 .5-.7 .5 7.6 .5-3.8 .5-2.1 .5-.6 .5 2.6 .5-4.6 .5 5 .5-4.1 .5 8.4 .5-.5 .5-10.1 .5 9.1 .5 10.7 .5-13.1 .5-3.4 .5-3 .5 1.3 .5-1.5 .5 6.2 .5-.1 .5-.9 .5-3.2 .5 9.5 .5-19.8 .5 13.1 .5-3.6 .5-4.1 .5 10.8 .5 .2 .5-.9 .5-3.9 .5-5 .5-.1 .5 2.8 .5 13.7 .5-8.8 .5 6.6 .5-6.5 .5-6.3 .5-1.5 .5 3.2 .5 6 .5-6.8 .5-1.7 .5-1.7 .5-3.4 .5 8.1 .5-4.6 .5 2.8 .5 4.6 .5-4.1 .5 3.1 .5-9.2 .5 7.9 .5-2.5 .5 .5 .5 .4 .5-.9 .5-1.7 .5-6 .5 13 .5-12.4 .5-4.4 .5 6.8 .5 7 .5-2.9 .5-3 .5-7.8 .5 12.2 .5-7.3 .5-6.5 .5 11.3 .5-1.2 .5-6.3 .5 4.4 .5-3.4 .5 3 .5-2 .5 8.7 .5-3.2 .5-9 .5 4.5 .5-5.3 .5 4.7 .5-4.4 .5 .9 .5 3.3 .5 7.5 .5-11.2 .5 8.6 .5-4.6 .5-7.6 .5 15.1 .5-6.5 .5 6.8 .5-2.2 .5 .7 .5-.4 .5 2.2 .5-8.3 .5 2.3 .5-9.1 .5 8.8 .5-5.5 .5 2.9 .5-1.8 .5-5.2 .5 13.6 .5-3.9 .5 3.8 .5-6 .5 .2 .5-6.6 .5 3.8 .5 3.1 .5 4.3 .5-7 .5-3 .5 3.1 .5 3.5 .5-1 .5-4.5 .5 8.9 .5-4.6 .5-3.5 .5 1.3 .5 5.6 .5-.9 .5-4.3 .5-1.6 .5 2.4 .5 7.3 .5-8.9 .5-.9 .5 8.1 .5-10.1 .5 10.2 .5-14.1 .5 3.7 .5-.8 .5 3.4 .5 5.2 .5 .2 .5 .5 .5 0 .5-5.4 .5 5.4 .5 6.7 .5-6.7 .5-2.5 .5-5.6 .5 10.6 .5 2.2 .5-7.5 .5 2.9 .5-3.1 .5 .9 .5-4.3 .5 3.8 .5 2 .5-2.2 .5-5.4 .5 1.1 .5 3 .5 4.4 .5-1 .5-2.2 .5-4.8 .5 12.4 .5-1.5 .5 4.9 .5-11.8 .5-.3 .5-.7 .5 11.3 .5-7.7 .5-6.5 .5 3.3 .5-1 .5 5.8 .5-1.8 .5-6.8 .5 10.4 .5-4.3 .5 .5 .5 1.2 .5 4.3 .5-6.1 .5 3.3 .5-4 .5 10.7 .5-5.1 .5 .8 .5-10.5 .5 4.5 .5-4.8 .5 7.9 .5-3 .5-3.9 .5 6.4 .5-4.5 .5 8.2 .5-8.2 .5 4.2 .5-3.1 .5 10.4 .5-4.4 .5-8.1 .5 4.8 .5-1.2 .5-6.4 .5 13.9 .5-5.5 .5-2.2 .5-.2 .5-3.2 .5 8 .5-9.8 .5 4.2 .5 1.3 .5-4.1 .5 1.8 .5 3.2 .5-4.1 .5 2.9 .5-4.8 .5 4.2 .5-5.2 .5 9.3 .5-7.6 .5 6.2 .5-9.4 .5 12.6 .5 3.6 .5-1.4 .5-6.7 .5-4.7 .5 4.1 .5-2.6 .5 16 .5-22 .5 .1 .5 6.5 .5-2.3 .5 .2 .5 .1 .5 10.7 .5 .6 .5-13.4 .5 9.4 .5 .3 .5 7.6 .5-13.8 .5 2.4 .5 8.5 .5-10.8 .5 8.1 .5-9.7 .5-.9 .5 14.2 .5-3.2 .5-8.8 .5 13 .5-12.4 .5 .7 .5 11.4 .5 1.6 .5-8.9 .5 14 .5-14.8 .5 15 .5-8.3 .5-3.4 .5 2.9 .5 4 .5-1.4 .5-8.3 .5 9.9 .5-.8 .5-.7 .5-5 .5-1.3 .5 1.1 .5 1 .5 11.1 .5-13.4 .5 14.4 .5-14.4 .5 1 .5 4.4 .5 5.5 .5-3.4 .5-2.4 .5-2.3 .5 7.7 .5-12.8 .5 14.5 .5-3.2 .5-9.4 .5 4.2 .5 0 .5 9.6 .5-10.2 .5 10 .5-.1 .5-3.4 .5 4.2 .5-4.1 .5-4.2 .5 5.1 .5 2 .5-10.2 .5 4.5 .5 9.4 .5 4.8 .5-15.2 .5 5.1 .5 .1 .5-3.7 .5 3.1 .5 1.9 .5-3.8 .5 4.4 .5-1.4 .5 4.7 .5-2.7 .5 2.2 .5-4.8 .5 .2 .5 5.9 .5 3.3 .5-4.2 .5-.4 .5 1.6 .5 3.2 .5-5.4 .5 7.1 .5 .1 .5-1.4 .5-.6 .5-9.6 .5-4.7 .5 11.7 .5-5.7 .5 2.7 .5 2.9 .5-.7 .5 3.2 .5-5.6 .5-2.3 .5 8.4 .5-1.4 .5-6.1 .5 3.3 .5-2.1 .5 8 .5-8.8 .5 5.4 .5 2.6 .5-11.5 .5 7.3 .5-1.3 .5 3.3 .5 13.2 .5-6.8 .5-5.3 .5-1.7 .5 8.3 .5 5.9 .5-12.6 .5 3.2 .5 1.3 .5 1.4 .5-4.6 .5-8.9 .5 12.6 .5 1 .5-6.9 .5 .5 .5 2.3 .5 3.4 .5 2.8 .5-8.5 .5-3.8 .5 13.2 .5-8.1 .5 4.6 .5-2.4 .5 .2 .5 15.2 .5-11.4 .5 2.2 .5-7.3 .5 5.5 .5-11.5 .5 11.7 .5-9.5 .5 7.6 .5 2.4 .5 1.3 .5 4.7 .5-10.5 .5 .9 .5 1.9 .5 8.9 .5-18 .5 10.2 .5 .4 .5 6.4 .5-21 .5 6.9 .5 .2 .5 8.4 .5 7.2 .5-3.3 .5-7 .5 1.7 .5-2.3 .5 4.4 .5 3.8 .5-2.2 .5 .9 .5-10.1 .5 4.6 .5 6.1 .5 1.9 .5 2.6 .5-18.3 .5 5.3 .5 6.5 .5 .6 .5 2.4 .5 2.8 .5-14.9 .5 3.9 .5 7.4 .5 12.9 .5-9.6 .5-5.3 .5 4.1 .5 .4 .5-6.5 .5 12.2 .5-8.6 .5-.7 .5 2.4 .5 9.1 .5-6.6 .5-6.9 .5 9.3 .5 4 .5 .5 .5-3.8 .5-11.7 .5 .5 .5 4.4 .5 4.8 .5-6.5 .5 1.7 .5 2.3 .5 .8 .5 2.7 .5 2.2 .5-6 .5 9.4 .5-4.5 .5-14.5 .5 12.5 .5 8.4 .5-3 .5-17.2 .5 2.8 .5 4.7 .5 2.5 .5 5.4 .5-8.2 .5-2.7 .5 5.7 .5 12.5 .5-9.1 .5-1.6 .5-3 .5 11 .5-11.6 .5-2.5 .5 7.2 .5 10 .5-6.8 .5-10 .5 10.2 .5-13 .5 17.5 .5-10.8 .5-7.7 .5 33.1 .5-17 .5 1.5 .5-19.5 .5 11.5 .5 8.9 .5-11.1 .5 0 .5 14.6 .5-19.9 .5 20.9 .5-12 .5-3.8 .5 6.2 .5 9.5 .5-8.3 .5-.8 .5 9.6 .5-97.7 .5 79.7 .5 19.3 .5-16.3 .5 .6 .5 1 .5 1.5 .5 1.3 .5 12.3 .5-12 .5 7.5 .5-2.7 .5-3.4 .5 12.7 .5-17 .5 10.7 .5-14.3 .5 20.9 .5-8.7 .5-3.5 .5 5.9 .5-4.3 .5 4.1 .5-2.5 .5-2.6 .5-1.2 .5-1.8 .5 5.1 .5-.4 .5-2 .5 .9 .5 3.8 .5-7.2 .5 8.3 .5 3.2 .5-7.9 .5 .5 .5 20.7 .5-27 .5 1.2 .5 16.8 .5 2.8 .5-7.1 .5-1 .5 3.8 .5 5.5 .5-19.9 .5 24 .5 7.6 .5-24 .5 1.2 .5-3.4 .5 7.3 .5 6.7 .5-9.8 .5-4.6 .5 1.9 .5 14.1 .5-10.4 .5 1 .5 3.3 .5 11.3 .5-3.8 .5 8 .5-4.6 .5-25.8 .5 16.2 .5 3 .5 12.9 .5-10 .5 14.1 .5-22.3 .5-9.7 .5 28.8 .5-22.5 .5 6.9 .5 19.7 .5-1.6 .5-21.8 .5 25.3 .5-5 .5-16.3 .5-.4 .5 18.2 .5-15.1 .5 17.6 .5-20.1 .5-13.2 .5 18.3 .5-12.3 .5-.7 .5 25.3 .5-13.3 .5-7.4 .5 20.3 .5 3.9 .5-25.6 .5 26 .5-29.6 .5 34.4 .5-23.5 .5 1.2 .5 10.5 .5-2.4 .5 .8 .5-5.7 .5 3.2 .5-3.8 .5-10.7 .5 31.8 .5-17.7 .5-4.4 .5 29.8 .5-36.4 .5 4.1 .5 12.8 .5-12.3 .5 8.2 .5-2.9 .5-2 .5-8.3 .5 4.9 .5 37.6 .5-38.8 .5 10 .5 33.4 .5-17 .5-11 .5-10.6 .5 8.8 .5 .5 .5 14.3 .5 23.9 .5-4.5 .5-39.1 .5 14.8 .5-15 .5 13.4 .5-13 .5-11 .5 20.8 .5-7.7 .5 10.2 .5 25 .5-24.8 .5 2.5 .5-19 .5 22.2 .5-16.2 .5 7.1 .5-6.7 .5 32.9 .5-14.3 .5 11.1 .5-36.4 .5-8.1 .5 27.9 .5-2.7 .5 4.6 .5 23.5 .5-7.8 .5-2.9 .5 14.3 .5-30.8 .5-19.8 .5-3.8 .5 32.9 .5-1.2 .5 .9 .5-2.6 .5-9.7 .5 33.1 .5-34 .5 11.6 .5-10.7 .5-6.6 .5 4.9 .5-6.6 .5 48.5 .5 3.1 .5-24.1 .5-30.4 .5 34.1 .5-3.7 .5 2.7 .5-11.9 .5 5.5 .5-27.1 .5 19.7 .5 18.5 .5-17.9 .5 20.9 .5-16.2 .5-20.5 .5-3.3 .5-11.7 .5 31.9 .5-8.1 .5 20.2 .5-19.7 .5 32.2 .5-25.5 .5-5.2 .5 19.1 .5 7.7 .5-.5 .5-13.2 .5-17.5 .5 9.2 .5 1.1 .5 5.6 .5 7.3 .5 30.8 .5-44.5 .5-5.3 .5 2.7 .5-11.6 .5 7.6 .5-8.7 .5 21.3 .5 2.6 .5-.7 .5-10.7 .5 5.8 .5-1.4 .5-5.4 .5 23.8 .5-17.6 .5 8.4 .5-4.7 .5 45.3 .5-38 .5-10.4 .5 2.7 .5 9.9 .5-24.1 .5 16.5 .5 46.7 .5-18.7 .5-46 .5 87.9 .5-61.8 .5 38.9 .5 26.5 .5-95.4 .5 72.7 .5-30.6 .5 25.3 .5 300.9 .5-383.7 .5 15 .5-2.7 .5 43.9 .5 164.6 .5-217.1 .5-6.8 .5 89.2 .5-19 .5-51.5 .5 31.7 .5 8.6 .5-38.5 .5 11.7 .5-28.2 .5 24.8 .5-10.5 .5 41.4 .5 28.6 .5-54.1 .5-6.2 .5-20 .5 87.6 .5-21.9 .5-4.7 .5-26.4 .5 12.8 .5-1 .5 332.4 .5-302.6 .5 16.7 .5-41.4 .5-12.7 .5 78.4 .5-28.4 .5-66.4 .5-10.9 .5 59.6 .5-36.6 .5 2.7 .5 61.1 .5-53.7 .5-6.8 .5 94.6 .5-93.7 .5 15.1 .5-6.2 .5 36.2 .5-64.9 .5 72.1 .5-21.2 .5-3.4 .5-3.2 .5-4.6 .5-7.6 .5 34.9 .5-3.9 .5-39.2 .5-32.9 .5-9.4 .5 51.9 .5-14.1 .5-29.8 .5 23.9 .5 20.7 .5 325.7 .5-284.1 .5-56.4 .5 13.2 .5 327.3 .5-189.4 .5-128 .5 6.1 .5 73.5 .5-116.7 .5 53.5 .5-12.5 .5-46.5 .5 237.4 .5-158.5 .5-30.7 .5 6.8 .5 4.2 .5-39.8 .5 340.6 .5 0 .5-305.4 .5-12.8 .5-3.4 .5-24 .5 44.7 .5 300.9 .5 0 .5-205.1 .5-158.3 .5 37.9 .5 16.7 .5-55.7 .5 28.9 .5 23.4 .5 1.8 .5 158.5 .5-168.8 .5-34.1 .5 88.4 .5-62.2 .5-28.1 .5-20.9 .5 77.1 .5-6.3 .5-4.3 .5-38 .5 28.6 .5-18.8 .5 41.7 .5-41.5 .5-20.1 .5 359.2 .5 0 .5-305.7 .5 26.3 .5 54.5 .5-14.5 .5-68.5 .5 55.6 .5-93.7 .5-10.3 .5 57 .5 299.3 .5-348.9 .5 13.2 .5 149.8 .5 33.5 .5-128 .5-50.8 .5 331.2 .5-266.7 .5-50.2 .5 316.9 .5-287.2 .5 78.1 .5 209.1 .5-278.8 .5-69.4 .5 1.2 .5 85 .5-93.2 .5 10.9 .5 140.2 .5-82 .5-39.9 .5-13.9 .5 29 .5-24.9 .5-13.3 .5 8.7 .5 13 .5 188.9 .5-134.5 .5-29.6 .5 302.6 .5-335.7 .5 13.9 .5 321.8 .5-301.6 .5-51.9 .5 33.6 .5 49.7 .5 270.2 .5-303 .5 135.6 .5-216.3 .5 258.9 .5-199.5 .5 44.6 .5 65 .5-73.9 .5 110.2 .5-101.7 .5 280.1 .5-214.9 .5 214.9 .5-357.6 .5 37.5 .5 136.3 .5-146.5 .5 88.5 .5 241.8 .5-334.8 .5-30.5 .5 365.3 .5-337.5 .5-11 .5 86 .5-52.8 .5 39.3 .5-14.3 .5 290.3 .5-296 .5 296 .5-324.9 .5 14.4 .5-22.6 .5 95.4 .5-87.9 .5 43.9 .5-24.1 .5 9.7 .5 296.1 .5-289.8 .5-63.3 .5 6.4 .5 67.8 .5 14.4 .5 264.5 .5-289.7 .5-39.1 .5-12.9 .5 18.7 .5 323 .5 0 .5-347.8 .5-10.1 .5-10.3 .5 102.5 .5-4.2 .5-102.3 .5 13.7 .5 134.2 .5-110.1 .5 12.3 .5-20.1 .5 342.2 .5-311.9 .5 311.9 .5-354.2 .5 123.9 .5-38.7 .5-21.4 .5-51.3 .5 39.9 .5 43 .5 50.8 .5-80.7 .5 288.7 .5-295.3 .5 1.3 .5 294 .5-305.5 .5 28.8 .5 276.7 .5-327.5 .5 59.4 .5-10.5 .5 278.6 .5-277 .5-66.4 .5 40.7 .5-13.9 .5 4.3 .5 312.3 .5 0 .5-266.6 .5 22.2 .5-86.9 .5 105.6 .5-69.2 .5 294.9 .5 0 .5-294.2 .5-19.6 .5 144.5 .5 169.3 .5 0 .5 0 .5-263.6 .5-29.7 .5-19.6 .5 28.6 .5-.6 .5-67.2 .5 19.2" fill="none" stroke="#6ec832" stroke-width="2.5" stroke-linejoin="miter" stroke-miterlimit="2"/>
<path d="M1079.7 388.7l.5-9.1 .5-37.9 .5-6.2 .5 42.2 .5-59.6 .5 13.8 .5 39.1 .5 2.3 .5-20.8 .5-5.2 .5 40.2 .5 16.5 .5-71.6 .5 34.5 .5-47.3 .5-5.9 .5 45.5 .5-39.1 .5 31.6 .5-34.3 .5 15.6 .5 36.1 .5-24.4 .5-.4 .5-4 .5-15 .5 43 .5-18.5 .5-34.1 .5 29.8 .5 9.1 .5-3.6 .5 5.2 .5-24 .5 .7 .5-3.9 .5-3.3 .5 2.2 .5 12.2 .5-9.8 .5 15.8 .5-26.3 .5 11 .5-3.2 .5 3.2 .5-3.5 .5-9.1 .5 5.8 .5 4.2 .5-2.5 .5-5.3 .5-3.6 .5 10.1 .5-.9 .5 1.4 .5-6.7 .5-1.2 .5 2.9 .5-3.9 .5-8.2 .5 12.9 .5-5.9 .5-6.2 .5 5.5 .5-1.5 .5 5.8 .5-6.9 .5-7.6 .5 3.6 .5 5.4 .5-6.7 .5 9.4 .5-6 .5-2.2 .5-.1 .5 14.6 .5-25.2 .5 10.2 .5 1.4 .5 13.8 .5-13.1 .5-6.6 .5-1.6 .5 9.1 .5 2.3 .5-4.3 .5-12.4 .5 8.6 .5-9.6 .5 6 .5-4.4 .5-2.3 .5 9.7 .5-2.4 .5-6.9 .5 1.4 .5 .4 .5-4.4 .5 5.2 .5-5.8 .5 5.8 .5 1.8 .5 .9 .5-1.6 .5-7 .5 3 .5-.6 .5 6.1 .5-4.7 .5-10.5 .5 3.8 .5 2 .5 1.9 .5-2.4 .5 1.4 .5-3.6 .5-.7 .5-1.9 .5 6.6 .5 3.1 .5-10.9 .5 8.2 .5 .3 .5-2.1 .5-3.1 .5 4.1 .5-7.1 .5 11.2 .5-.7 .5-1.9 .5-5 .5-.8 .5 3 .5-3.7 .5 1.4 .5 2.4 .5 0 .5-3.2 .5 2.2 .5-1.9 .5 2.5 .5 .7 .5 2.2 .5-1 .5-3.6 .5-.5 .5 1 .5-1.8 .5 9.7 .5-11.4 .5 9.5 .5-9.2 .5-1.9 .5-2.4 .5 4.5 .5-1.7 .5 2.4 .5 1.8 .5-2.2 .5-1.2 .5-.1 .5 2.2 .5-2.4 .5 3.5 .5-2.4 .5 9.1 .5-1.7 .5-8.6 .5 6.1 .5 1.7 .5-3.7 .5-3.3 .5-1.8 .5 9.3 .5-.2 .5-5.6 .5 2.7 .5-1.1 .5-1.6 .5-.5 .5 13.1 .5-8.4 .5-9.4 .5 .6 .5 .8 .5 12 .5-3.5 .5-7 .5 13.3 .5-6 .5-1.8 .5 6.6 .5-10.6 .5 3.6 .5-5.8 .5 4.5 .5-3.7 .5 2.1 .5-6.9 .5 9.4 .5-4.8 .5 7 .5 4.9 .5-7 .5-1.6 .5-1.1 .5 7.9 .5-4.8 .5-2.3 .5 3.7 .5-10.1 .5 9.6 .5-6.1 .5 10 .5-13.6 .5 10.1 .5-3.7 .5 4.2 .5-3.2 .5 6.8 .5 1.9 .5-6.5 .5 4.7 .5-1.2 .5-2.9 .5 3.8 .5-5.9 .5 .3 .5 1.5 .5 4.7 .5 6.4 .5-24.1 .5 8.9 .5 2.4 .5-1.4 .5 .1 .5 .7 .5 9.8 .5 .3 .5-13.4 .5 2.8 .5-3.9 .5 11.2 .5-8.8 .5-9 .5 8.5 .5-2.6 .5 .7 .5 12.2 .5-11.6 .5-.7 .5 5 .5 .3 .5-1.2 .5 2.5 .5-7.5 .5 5.5 .5 1.9 .5-3.2 .5 .4 .5 5.9 .5-8 .5 5.7 .5-3.9 .5-7.8 .5 8 .5 7.7 .5-11.1 .5 6.6 .5-10.1 .5 3.3 .5-.3 .5-.4 .5 3.9 .5 11.2 .5-15.1 .5-1.1 .5 9.1 .5-11.7 .5 15.6 .5-7.9 .5-2.3 .5-1.9 .5-2.7 .5 9.1 .5-13.1 .5 17.2 .5-1.2 .5-2.2 .5 4 .5-2.2 .5-4.4 .5-9.6 .5 1.3 .5 7.5 .5-2.3 .5 16.5 .5-15.9 .5-6.1 .5 15.6 .5-12.5 .5 11 .5-4.7 .5-5.8 .5 .6 .5-1.2 .5-3.3 .5 3.8 .5 6.1 .5-3 .5 7.6 .5-6.1 .5 8.8 .5 .3 .5-14.3 .5 1.6 .5-2.4 .5 5.3 .5-4.4 .5 10.2 .5-13.8 .5 1.3 .5-2 .5 3 .5 1.7 .5 6.5 .5-12 .5 8.7 .5 1.2 .5-7.9 .5-3.7 .5-2.4 .5 9.3 .5 6.2 .5-2.4 .5-6.8 .5 3.3 .5-1.7 .5-.5 .5 .2 .5-5.3 .5 13.9 .5-6.1 .5-4.3 .5 4.7 .5-1.6 .5-4.1 .5-4.2 .5 13.5 .5-11.3 .5 3.8 .5 17.1 .5-16.9 .5 8.3 .5-16.2 .5 .6 .5 17 .5-8.9 .5 10 .5-7.3 .5-6 .5 3 .5-.5 .5 17 .5-5.6 .5-2.7 .5-8.5 .5-.7 .5 2.6 .5-2.7 .5 5.9 .5-7 .5-1.5 .5 8.2 .5-6.2 .5-2.3 .5 10.8 .5-3 .5-3.5 .5 2.5 .5 3.8 .5-6.9 .5 3.1 .5-4.7 .5-3.6 .5 13 .5 1.5 .5-11 .5 1.3 .5 4.2 .5 1 .5-4.7 .5 4.4 .5-6.9 .5 4.8 .5-.3 .5 4.3 .5-11.8 .5 2.8 .5 9.4 .5-7.9 .5-10.8 .5 15.1 .5-1.2 .5-6.5 .5 10.3 .5-7.1 .5-2.1 .5-1 .5 4 .5 2.2 .5 0 .5-4.3 .5 6.4 .5-.3 .5-10.2 .5 6.5 .5 13.5 .5-12.1 .5-.1 .5-7 .5 10.6 .5-1.2 .5-3.9 .5-2.7 .5 1.5 .5 7.3 .5-6 .5 2.3 .5 7.3 .5-2.5 .5-7.8 .5 6.6 .5-8.9 .5 2.4 .5-.3 .5 5.7 .5-7.2 .5 3.5 .5-4.8 .5 3.2 .5 2.7 .5-8.5 .5 9.8 .5-.1 .5-1.2 .5 2 .5 .9 .5-5.1 .5 1.5 .5-2.2 .5 8.3 .5-8.8 .5-.2 .5 5.2 .5-5 .5 1.3 .5-.6 .5 4.2 .5-9.3 .5 9.4 .5-2.1 .5 2.8 .5 3.5 .5-3.5 .5-8.4 .5 8.8 .5-9.8 .5 1.4 .5 7.4 .5-2.6 .5-.1 .5-1.8 .5 2.9 .5 3.6 .5-1.4 .5-3.8 .5 1.7 .5-2.8 .5 4.2 .5-4.5 .5 9.8 .5-7.9 .5 3 .5-3.5 .5 1.1 .5 7 .5-8.7 .5 12.8 .5-5.7 .5-7.7 .5 .6 .5-4.7 .5 7 .5-3.5 .5-3.5 .5 12.3 .5-5.2 .5-2.8 .5 3.1 .5 5.3 .5-7.8 .5 3.3 .5-1.1 .5-1 .5 11.8 .5-.3 .5-14.9 .5 9.3 .5-4.5 .5 3 .5-5.6 .5 9.8 .5 4.8 .5-1.9 .5-7.4 .5 4 .5 4.7 .5-8.9 .5-.5 .5 17.2 .5-15.4 .5 5.1 .5-1.5 .5-1.7 .5-5.1 .5 8.6 .5-2.3 .5-2.2 .5 8.7 .5-9.7 .5 6.1 .5-2 .5-2.3 .5 3 .5-.8 .5-6.2 .5 11.7 .5-6.7 .5 .8 .5 3.9 .5-8.8 .5 12.5 .5-1.7 .5-5.8 .5-.1 .5 6.9 .5-6.6 .5-2.9 .5 6.8 .5 .9 .5-3.4 .5 4.8 .5-8.7 .5 13.1 .5-9.5 .5 8.2 .5-8.1 .5 1.5 .5 5.2 .5 .6 .5 2.5 .5-9.1 .5-1.8 .5 6.4 .5-5.9 .5 1.9 .5 7.9 .5 .2 .5-6 .5-7.9 .5 12.7 .5 1.5 .5 7.1 .5-16.7 .5 14.5 .5-6.4 .5 1.4 .5-2.3 .5-12.7 .5 11.3 .5 10.2 .5 4.5 .5-13 .5 4 .5-7.9 .5 .7 .5 6.7 .5-7.4 .5 2.7 .5 4.6 .5-.7 .5 5.6 .5-12.5 .5 2.5 .5 13.6 .5-3 .5-8.3 .5 .4 .5 10.3 .5 8.9 .5-6.3 .5-6.5 .5 6.7 .5-20.2 .5 3.7 .5 5 .5 8.2 .5-5.1 .5-2.3 .5-8.9 .5 14.3 .5-.9 .5 .3 .5-5.5 .5-1.7 .5 7.5 .5-2.9 .5-.1 .5 2.8 .5-1.8 .5-2.9 .5 12.2 .5-7.9 .5 4.4 .5-10.4 .5 13.9 .5-8.9 .5 7.2 .5 .1 .5-11 .5 10.2 .5-2.8 .5-8.7 .5 .5 .5 8.5 .5-2.1 .5 3.9 .5-.1 .5-8.2 .5 7.6 .5-2.3 .5 3.4 .5-4.6 .5 3.9 .5 4.9 .5-5 .5 2.6 .5 2.3 .5-3.5 .5 4.6 .5-4.7 .5-6.1 .5 6.2 .5 .7 .5 1.9 .5 4.2 .5-14.4 .5 11.8 .5 8.7 .5-9.2 .5-2.2 .5 3.9 .5 8.8 .5-17 .5-1.9 .5 8.5 .5 1.2 .5-6.6 .5 1.5 .5 9.3 .5-4.4 .5 .8 .5-4.5 .5-5.8 .5 6.2 .5 6.8 .5 9.9 .5-4.3 .5-18.4 .5 .3 .5 9.2 .5-.5 .5 .9 .5-4.2 .5 7.3 .5 2.8 .5-11.5 .5-4.7 .5 6.8 .5 9.7 .5-5.4 .5 1.8 .5-4.2 .5 3.6 .5-6.5 .5 2.1 .5 3.8 .5-4.8 .5 6.4 .5-8.6 .5 6 .5-1.5 .5 9 .5-12.6 .5 11.7 .5-4.5 .5 1.6 .5 .7 .5 3.3 .5-.1 .5-10.3 .5 4.2 .5 .1 .5 1.7 .5-7.6 .5 10.6 .5-10.8 .5 21.2 .5-15 .5 .6 .5 2.9 .5-6.3 .5 1.5 .5 8.8 .5-2.3 .5-9.5 .5 6.6 .5 .6 .5 5.5 .5-8.9 .5 18.2 .5 .9 .5-14.6 .5 7.5 .5 1.2 .5-11.2 .5-.5 .5 7.4 .5-5.3 .5 3.4 .5 10.9 .5-12.8 .5 1.3 .5-5.5 .5 3 .5 11.6 .5-7.6 .5 0 .5 5.9 .5-12.2 .5 4.2 .5 5.1 .5-8.8 .5 7.1 .5 2.2 .5 4.4 .5-9.4 .5 10.2 .5 .5 .5-8.9 .5 5.9 .5-8.2 .5 11 .5-19.9 .5 19.7 .5-7.7 .5 11.8 .5-6.7 .5-8.9 .5 10.8 .5-8.1 .5 9.6 .5 .8 .5-2.4 .5-6.7 .5 7.5 .5-8.2 .5-.6 .5 .2 .5 3 .5-4 .5 9.3 .5 5.6 .5-12.5 .5 3.5 .5-1.1 .5 3 .5 2.9 .5-.9 .5 4.9 .5 .1 .5-.5 .5-12.5 .5-3.1 .5 7.8 .5 5.6 .5-9.6 .5-.6 .5 23.3 .5-18 .5 14.5 .5-18.1 .5 13.5 .5-1.4 .5-8.7 .5 4.3 .5 5.3 .5-8.5 .5 9.2 .5-3.6 .5 3 .5 6.8 .5-16.2 .5-2.3 .5 5.3 .5-1.5 .5 11.4 .5 8 .5-18.1 .5 10.2 .5-6.3 .5 1.7 .5-2.8 .5-.2 .5 5.5 .5 10.9 .5-14 .5 9.9 .5-7.7 .5-.4 .5-10.8 .5 8 .5 4.9 .5 12.8 .5-8.4 .5-9.9 .5 6.6 .5 6.1 .5-11.4 .5 1 .5 11.4 .5-.9 .5 .6 .5-14.6 .5 12.2 .5 4.1 .5-.6 .5-11.7 .5 .9 .5 2.8 .5 15.2 .5-6.3 .5 4.9 .5-3.8 .5-13.3 .5-5.7 .5 12.2 .5 7.7 .5-17.7 .5 7.5 .5 9.1 .5-7.6 .5 2.9 .5-6.4 .5 8.7 .5-2.8 .5-5.2 .5 .2 .5 2.6 .5 9.7 .5 8.3 .5-17.7 .5-9.3 .5 6.6 .5 18.5 .5-13.6 .5 10.7 .5-13.5 .5 13.6 .5-8.9 .5 3.4 .5-4.1 .5-2.8 .5 16.9 .5-7.8 .5-1.6 .5 5.7 .5-12.6 .5 6.2 .5 3 .5 4.6 .5-3.1 .5-7.2 .5 8.9 .5-7.3 .5-2.1 .5 8.3 .5 1.5 .5-2.8 .5 6.8 .5-5.1 .5-5.2 .5-3.5 .5 7.5 .5 2.4 .5 5 .5-7.3 .5 9.8 .5-4.1 .5 2.2 .5-4.2 .5-7.8 .5-4.1 .5 15.3 .5-7.7 .5 6.7 .5 7 .5-9.9 .5 3.6 .5-5.9 .5 5.5 .5 24.3 .5-38.9 .5 2 .5 17.5 .5-17.3 .5 2.8 .5 16.1 .5-10.6 .5-2.6 .5-5.2 .5 12.7 .5-.9 .5-16.1 .5 20.5 .5-6.5 .5-2.9 .5-5 .5 15.3 .5 19 .5-32.6 .5 4.5 .5 7.9 .5-3.2 .5 9.6 .5-13 .5 4.6 .5-4.3 .5-6.2 .5 6.1 .5-1.2 .5 14.3 .5-22.3 .5 12.1 .5 1.8 .5 7.3 .5-5.8 .5-7.7 .5 2.9 .5 4.7 .5 7.7 .5-7.7 .5-5 .5 21.1 .5-14.4 .5-3.2 .5 1.7 .5 17.6 .5-4.7 .5-3.1 .5-5.7 .5-.8 .5-16.3 .5 15.8 .5 9.4 .5-5.4 .5-4.2 .5 4.1 .5 .9 .5-6.9 .5 4.7 .5-1.4 .5 2.4 .5-4.5 .5 21.1 .5-15.9 .5 4.1 .5 1.2 .5-7.6 .5-.7 .5 1.6 .5-2.7 .5 13.8 .5-8.3 .5-3.6 .5 16.8 .5-12.4 .5-11.9 .5 17.1 .5-7.6 .5-5 .5 22.5 .5-1.1 .5-9.3 .5-1.9 .5-21.3 .5 21.5 .5-1.8 .5 18.8 .5-15.9 .5 29.9 .5-24.9 .5-1 .5-5.6 .5-2.2 .5 8.5 .5-11.6 .5 5.3 .5-6.7 .5 28.8 .5-37.1 .5 14.5 .5 58.9 .5-60.5 .5 39.9 .5-59.9 .5 32.3 .5-6.5 .5-7.6 .5 2.2 .5 28.8 .5-23 .5 127 .5-133.7 .5 16.4 .5 5.3 .5 56.5 .5-91.7 .5 16.5 .5 8.3 .5 49.8 .5-58.6 .5 19.3 .5 65.3 .5-85.9 .5 44.4 .5-47.9 .5 29.4 .5-21.3 .5 17.5 .5-11.3 .5-1 .5-1.7 .5 1.1 .5 42 .5-33.6 .5-7.3 .5-26 .5 18.8 .5 11.1 .5 1.9 .5 4.6 .5 34 .5-15 .5-8.8 .5 22.2 .5-29.6 .5 245.6 .5-286.7 .5 72 .5-51.4 .5 0 .5 29 .5-33.4 .5 24.5 .5 34.8 .5-43 .5-25.8 .5 29 .5-3.7 .5-19.5 .5 25.8 .5-10.9 .5 36.2 .5 91.5 .5-104.8 .5-29.4 .5-5.7 .5 14.5 .5-20.4 .5 60.5 .5-17.5 .5-31.4 .5 4.9 .5-4.9 .5 98.9 .5-47.7 .5-32.5 .5-15.8 .5 51.8 .5-62.7 .5 41.4 .5-14.5 .5 13.1 .5-4.4 .5-8.5 .5 .6 .5 84.2 .5-123.3 .5 34.4 .5-8.6 .5 37.6 .5 64.2 .5-126.5 .5 71.7 .5-14.1 .5-7.4 .5 23.4 .5-30.2 .5-15.2 .5 8.2 .5-32.6 .5 54.7 .5 30.9 .5-54.1 .5 31.6 .5-52.7 .5 31.3 .5-36.3 .5 3.9 .5 2.2 .5 147.5 .5-69.5 .5-56.5 .5 13.1 .5-24.3 .5-7.8 .5 1.7 .5-1.8 .5 51.5 .5 4.5 .5 23.1 .5-22.8 .5-44.2 .5 254.3 .5-254.8 .5-16.1 .5 270.9 .5-227.7 .5-45.3 .5 10.5 .5 20.9 .5 .7 .5 39.5 .5 36.3 .5-61.4 .5-41 .5 56.5 .5 98.8 .5-98.8 .5 7.6 .5-6.4 .5-38.3 .5 16 .5 35.7 .5-6 .5-14.2 .5-51.3 .5 34.8 .5-19 .5-13.4 .5-2.5 .5 126.2 .5-107.4 .5 249.2 .5-249.4 .5 39 .5-29 .5 2.1 .5 20 .5-33.3 .5-5 .5-6.2 .5 14.4 .5 15.4 .5 8.1 .5-5.9 .5-16.8 .5 16.7 .5-43.5 .5 94.8 .5-46.6 .5-3.7 .5 228.9 .5 0 .5-172 .5-54 .5-8.3 .5 8.3 .5 15.5 .5 19 .5 55.8 .5-132.8 .5 41.1 .5-7.1 .5-9.1 .5-28.8 .5 272.4 .5-241 .5 26.8 .5-42.9 .5 13.6 .5 16.2 .5-34.2 .5 21 .5-14.7 .5 255.2 .5 0 .5-251.2 .5 28 .5 28.7 .5-36.8 .5-3.9 .5 80.4 .5-72.1 .5-6.9 .5-8.6 .5-20 .5 24.6 .5 73.7 .5-82.6 .5-8.6 .5 77 .5-28.1 .5-35.7 .5 31.5 .5-30.7 .5 64.9 .5-83.1 .5 20 .5 52.9 .5 46.3 .5-113.9 .5 57.2 .5 112 .5-135.9 .5-22.9 .5 42.9 .5-31.9 .5-4.1 .5-7 .5 11.7 .5 34.1 .5-28 .5-1.5 .5-3.4 .5 75.4 .5-78 .5 8.6 .5 51.1 .5-49.6 .5-40.7 .5 4.6 .5 29.4 .5 17.2 .5-35.9 .5-9.1 .5 258 .5-180.8 .5-64.3 .5 47.8 .5 3.1 .5-.1 .5-13.1 .5 5.4 .5 202 .5-219.8 .5-18.2 .5 17.8 .5-31.9 .5 19.4 .5 81.6 .5 31.5 .5 119.6 .5-261.2 .5 46.2 .5-4.7 .5-20 .5 239.7 .5-181.1 .5 14.9 .5 31.3 .5 134.9 .5 0 .5-251.6 .5 58 .5-19.7 .5 56.9 .5-93.1 .5 171.2 .5-132.6 .5 159 .5 51.9 .5-159.6 .5-77.2 .5 93.9 .5-26" fill="none" stroke="#8cff32" stroke-width="2.5" stroke-linejoin="miter" stroke-miterlimit="2"/>
<path d="M1079.7 404.2l.5 18.5 .5-25.3 .5 12.2 .5 14.2 .5 39.3 .5-23.7 .5-19.5 .5 96.9 .5-100.8 .5 40.2 .5-29.1 .5 5.2 .5-40.6 .5 11.4 .5-15.2 .5 21 .5 19.1 .5-13.5 .5 6.4 .5-36.3 .5 37.2 .5-10.1 .5 6.3 .5-20.6 .5-9.8 .5 15.7 .5-9.5 .5-1.9 .5 21.7 .5 12.2 .5-14.2 .5-9.8 .5 18.6 .5 6.5 .5-26.7 .5 18.7 .5-25.2 .5 7.4 .5 14.7 .5-21.8 .5-3.5 .5 12.2 .5 3.1 .5 7.3 .5-17.6 .5 26.2 .5-29.9 .5-6.6 .5 9 .5 21.7 .5-17.4 .5-5.2 .5-8.4 .5 22.4 .5-15 .5 17.4 .5-14.4 .5-16.8 .5 6 .5 10.9 .5 2.7 .5 .1 .5-.4 .5-3.9 .5 1.1 .5 1.4 .5-3.6 .5-8.6 .5 12.4 .5-10 .5-6.6 .5 9.6 .5-2.6 .5-3.4 .5 13.3 .5-19.4 .5 4.9 .5 8 .5-5.9 .5 2.1 .5-7.6 .5 6.2 .5-8.5 .5 8.1 .5 7 .5-15.8 .5 6.6 .5-4.5 .5-6.7 .5 4.2 .5 9.6 .5-4.5 .5 .7 .5-4.7 .5-4 .5 24.2 .5-14.5 .5-1.4 .5-8.3 .5 9.4 .5-4.1 .5-7.3 .5 9.5 .5-.6 .5 .6 .5 .3 .5-2.9 .5 6 .5-4.7 .5 1.1 .5-9.6 .5 3 .5 2.7 .5 1.3 .5 2.5 .5-15.8 .5 7.5 .5 5.2 .5 8.5 .5-4.9 .5 .8 .5-11.2 .5 6.5 .5 2.4 .5 1.9 .5 4.5 .5-6.2 .5-5.2 .5 2.8 .5-1.9 .5 4.4 .5-11.8 .5 3 .5 6.1 .5 8 .5-3.7 .5-6.4 .5-8.6 .5 14.7 .5-5.8 .5 8.2 .5 7 .5-15.7 .5 5 .5-3.2 .5 8.7 .5 .8 .5-8 .5 6.9 .5 4 .5-16.4 .5-5.4 .5 13.1 .5-4.3 .5-3.7 .5 10.6 .5-13.3 .5 16.2 .5-8.8 .5-9.3 .5 2.3 .5 2.2 .5-.1 .5 .9 .5 3.1 .5-1.9 .5 9.7 .5-.6 .5-9.1 .5 10 .5-13.7 .5-1 .5 4.6 .5 0 .5 .8 .5 2.1 .5 1.9 .5-2.5 .5-7.9 .5 11 .5-15.1 .5 11.4 .5-2 .5-3 .5 2.4 .5-.4 .5 3.9 .5-9.8 .5 1.4 .5 2.3 .5 3.8 .5-9.5 .5 10.9 .5-5.1 .5-1 .5-2 .5 9.6 .5-2.6 .5 0 .5 5 .5 .7 .5-12.1 .5 1.4 .5 6.4 .5-6.9 .5 1 .5 4.9 .5 3.5 .5-9.3 .5 12.1 .5-11 .5-.8 .5-3.7 .5-3.7 .5 7.5 .5-.3 .5-6 .5 7.9 .5 5 .5 .9 .5-5.3 .5 .2 .5 1.9 .5-4.7 .5 2.7 .5-5.9 .5-1.6 .5 1.9 .5 2.7 .5 2.8 .5-5 .5 7.1 .5-7 .5 .3 .5 6 .5-.5 .5-6.6 .5 1.7 .5 4 .5-3.3 .5-11.4 .5 5.6 .5 .2 .5 2.9 .5-3.6 .5 14.2 .5-20 .5 5.5 .5 5.1 .5-2.4 .5 3.2 .5-.6 .5 1.4 .5-5.6 .5 3.1 .5-2.1 .5 4.2 .5-7.9 .5-5.8 .5 13.3 .5-2.4 .5-.4 .5-2.3 .5 7.6 .5-6.1 .5 5 .5 4 .5-14.5 .5 .4 .5 2.9 .5 10.1 .5-10.2 .5-4.3 .5 8.8 .5-6.1 .5 3 .5-7.8 .5 1.7 .5 7.1 .5 3 .5-4.2 .5-.8 .5 2.1 .5-2.2 .5-3.3 .5-1.4 .5 16.1 .5-10.8 .5-7.1 .5-5 .5 16.1 .5-1.2 .5-1.8 .5-3.5 .5 1 .5 2.3 .5-.8 .5 2.5 .5-.4 .5-8.1 .5-1.6 .5 3 .5-.3 .5 6.5 .5-2.4 .5 8.9 .5-12 .5 1.3 .5 4.3 .5-4.3 .5 2.6 .5-.1 .5-3 .5 0 .5-.2 .5 .5 .5 4.2 .5-.3 .5-.8 .5-9 .5 5.5 .5 2.8 .5-6.2 .5 12.8 .5-9 .5 5.4 .5 1.1 .5-4.7 .5-3.3 .5 9.7 .5-.3 .5-3.7 .5-3.7 .5-2.1 .5 .2 .5 4 .5-5.7 .5 1.7 .5 2.5 .5 2.4 .5-7.2 .5 6.7 .5-4.2 .5 8.4 .5-.7 .5-3.9 .5-2.7 .5 .2 .5-7.6 .5 8 .5-.2 .5 5.1 .5-9.8 .5 3.1 .5-1.4 .5 4.5 .5 4.6 .5-5.5 .5 13.1 .5-19.9 .5 7.4 .5-8.3 .5 8.4 .5-8.8 .5-5.3 .5 6.7 .5 15.9 .5-17 .5 .5 .5 4.8 .5 3.5 .5-1.4 .5 .8 .5 13.4 .5-11.5 .5 3.3 .5-2.8 .5-4.2 .5-3.4 .5 .9 .5-.4 .5 2.1 .5 14.6 .5-16.3 .5-2.7 .5 0 .5 14.1 .5-7.3 .5-2.1 .5-.3 .5 3.9 .5 1.8 .5 6.8 .5-11.4 .5-1.7 .5-4 .5 7.6 .5 4.2 .5-2.1 .5 .9 .5-7.3 .5 4.3 .5-1.8 .5 8.2 .5 .4 .5-7.9 .5 4.5 .5-1.6 .5-10.2 .5 12.3 .5 5.5 .5-8.8 .5 4.8 .5-7 .5 7.7 .5-4 .5-1.1 .5-3.5 .5 10.1 .5-3.3 .5-2.5 .5 .6 .5-.1 .5 21.5 .5-22.9 .5 2.6 .5-1.6 .5 9.9 .5-7.9 .5-2.9 .5 2.6 .5-2.5 .5 6.7 .5-10.3 .5 .1 .5 7.7 .5-4.5 .5 12 .5-5.4 .5-4.5 .5-.1 .5 3.1 .5-1.9 .5 1.7 .5-4.4 .5 1.2 .5 .6 .5-.7 .5 8.8 .5 1 .5-6.7 .5-3.4 .5 9.1 .5-10.5 .5 10.5 .5 3.4 .5-13 .5 4 .5-2.7 .5 4.1 .5-2.2 .5 3.9 .5-5.7 .5-4.7 .5 12.1 .5 1.7 .5-4.3 .5-4.8 .5 16.5 .5-19.4 .5 1.6 .5 5.1 .5 4.7 .5-16.9 .5 12.7 .5-.9 .5-1.8 .5-8.3 .5 15.5 .5-11.2 .5 11.1 .5 .2 .5 4.5 .5-16 .5 8.4 .5-3.1 .5-.1 .5 8.7 .5-11.2 .5 13 .5-9.6 .5-.5 .5-5.8 .5 6.6 .5-4 .5 4.4 .5 .9 .5 2.5 .5-3.7 .5-5.8 .5 3.1 .5 2.2 .5-5.9 .5 10.8 .5-7.1 .5 4 .5 5.2 .5-5.1 .5-4.3 .5 1.7 .5 4.8 .5-4.7 .5 11.5 .5-14.8 .5 6.6 .5-4.1 .5 3 .5 6.6 .5-1.1 .5-8.4 .5 .2 .5-2.3 .5 2 .5 8.9 .5-8.5 .5 13.2 .5-9.5 .5 3 .5-8.6 .5 6.2 .5 2.1 .5-6.8 .5 2.5 .5-.7 .5 1.3 .5 1.4 .5 4.3 .5-5.6 .5-13.8 .5 19.7 .5-.5 .5-3.9 .5 8.9 .5 .5 .5-12.1 .5 2.3 .5 1.8 .5-3.2 .5 14.4 .5-7.9 .5-4.5 .5 6.3 .5-4.7 .5-6.6 .5 3.3 .5 5.4 .5 8.5 .5-12.2 .5 1.2 .5-1.5 .5 9.9 .5-12.1 .5 11.9 .5-10.2 .5-.4 .5 10 .5-4.2 .5-.3 .5 3.8 .5-4.9 .5 8.4 .5-4.4 .5-10.5 .5 14.2 .5 3.5 .5-8.8 .5-7.9 .5 6.7 .5 11.5 .5-10.6 .5 15.4 .5-24.3 .5 5.3 .5-6.2 .5 12.1 .5-.9 .5-3.4 .5 10.6 .5-6.6 .5 2.3 .5 15.2 .5-14.8 .5-3.1 .5 3 .5 7.3 .5-6.4 .5-3 .5 2 .5-8.1 .5 6.8 .5 3.5 .5 11.9 .5-9.2 .5-9.6 .5 0 .5 9 .5-5.7 .5 2.6 .5-2.3 .5 6.7 .5-3.4 .5-1.3 .5-4.8 .5 7.6 .5-6.4 .5 6.3 .5-.3 .5 1.1 .5 9.1 .5-12.3 .5-9.2 .5 7.4 .5 3.5 .5-.8 .5-2.7 .5 11.2 .5-3.7 .5 2.6 .5-8.7 .5 4.1 .5 11.1 .5-9.7 .5 4 .5-6 .5 1 .5-4.6 .5 6.1 .5 6.7 .5-11.4 .5 3.7 .5 4.7 .5-.2 .5-1.5 .5-2.4 .5 9.4 .5-7.3 .5 3.4 .5 3.8 .5-10 .5 .8 .5-3.8 .5 4.2 .5-.4 .5 5.4 .5 .7 .5-1.7 .5-5.7 .5 3.1 .5 5.5 .5-4 .5-2.4 .5-3.6 .5 4.8 .5-2.3 .5 7.8 .5-.4 .5-4.5 .5 8.6 .5-4.6 .5-4.7 .5 6.9 .5 1.9 .5 .3 .5 1.2 .5-2 .5-4.8 .5 .8 .5-4.5 .5-.3 .5 1.2 .5 2.8 .5 5.3 .5-8.5 .5-1 .5 10.2 .5-5.2 .5 1.7 .5-7.6 .5 9.3 .5-4.3 .5-3.3 .5 1.4 .5-.8 .5 13.8 .5 4.2 .5-18.9 .5 5.7 .5 5.4 .5-7.3 .5-3.7 .5 7.8 .5-8.1 .5 5.2 .5 .6 .5-.9 .5 5.3 .5-.1 .5 3.5 .5 7.3 .5-11.4 .5 6 .5-8 .5 1.6 .5-4.1 .5 11.6 .5-9.8 .5-2.1 .5 1 .5 6.5 .5 2.6 .5 .8 .5 2.1 .5-10.2 .5 12.3 .5-2.2 .5-.6 .5 2.8 .5-10.1 .5 7.6 .5 7.1 .5-10.1 .5-9.6 .5 9.9 .5-12.8 .5 5.1 .5 18.4 .5-10.8 .5-5.9 .5 2.2 .5 3.1 .5 3.5 .5-6.9 .5 10.6 .5-5.9 .5-1 .5 10.4 .5-14.5 .5 2.4 .5-7.1 .5 9.5 .5 14.4 .5 6.9 .5-9.3 .5-13 .5 11.7 .5-3.5 .5-7 .5 5.5 .5-6.1 .5 2.9 .5 3.4 .5-.8 .5 2 .5-.9 .5-.9 .5-1 .5 2.4 .5-4.7 .5 7.1 .5 2.9 .5-4.4 .5-6.4 .5 11 .5-4.4 .5-3.5 .5 12.7 .5-4.2 .5-5 .5 5.5 .5-5.1 .5-5.5 .5 .4 .5-4.1 .5 7.2 .5 0 .5 11.8 .5-14.8 .5 5.1 .5-2.2 .5-1.5 .5 1.8 .5 15.9 .5-2.7 .5-6.3 .5-6.1 .5-3.3 .5 8.1 .5 11.6 .5-22.7 .5 12 .5-.6 .5-7.2 .5 6.3 .5 .3 .5 .9 .5-10.2 .5 10.6 .5-10.4 .5 8.2 .5 7.8 .5-8.1 .5 9.4 .5-9.5 .5 2.5 .5 5.8 .5 2.5 .5 15.3 .5-24.2 .5 2.9 .5 1.7 .5-7.2 .5 39.2 .5-32.5 .5 4.3 .5-9.7 .5 1.6 .5-5.3 .5 1.8 .5 6 .5 15 .5-14.8 .5-7.9 .5 12.2 .5 12.4 .5-20.6 .5 15.7 .5-.7 .5-12 .5 15.2 .5-1.9 .5-13.1 .5 7 .5-4.6 .5 2.3 .5-8.3 .5 4.9 .5 11 .5-8 .5 12.4 .5-13.7 .5-3.1 .5 19 .5-1.8 .5-4.8 .5-2.4 .5 1.9 .5-5.1 .5 2.7 .5 .8 .5-9.6 .5 11.8 .5-8.9 .5 4 .5 .4 .5 4.7 .5-3 .5 11.8 .5-16.6 .5 2.4 .5 8.6 .5-4.1 .5 3.4 .5-2.7 .5 12.9 .5 7 .5-19.2 .5-.7 .5 15.8 .5-23.7 .5 2.9 .5-.5 .5 4.1 .5 7 .5-5.9 .5-.1 .5 1.1 .5-.1 .5 5.7 .5 5.8 .5-20.3 .5 5.1 .5-5.4 .5 14.2 .5-7.6 .5 5.9 .5-8.4 .5 2.9 .5 6.1 .5-7.4 .5 1.3 .5 3.3 .5 8.7 .5-.3 .5-3.3 .5 13.7 .5-10.4 .5-7.8 .5 6.3 .5-6 .5-9.5 .5 1.5 .5 19.5 .5 9.5 .5-13.9 .5-7.1 .5 8.2 .5-7.1 .5-13.7 .5 19.1 .5-3.1 .5 14.4 .5-18.8 .5-2.7 .5 33 .5-11.9 .5-18.1 .5 .5 .5-.6 .5 2 .5 11.9 .5 .5 .5-16.5 .5 13.1 .5 7 .5 19.9 .5-18.1 .5-7 .5 13.7 .5-10.6 .5-9.9 .5 19.7 .5 5.8 .5-17.5 .5-2.6 .5-4.6 .5 15.7 .5-8.5 .5 6.3 .5-6.5 .5 9.8 .5-24.9 .5 11.5 .5 1.3 .5-5.3 .5 17.5 .5-8.4 .5-11.1 .5 15.3 .5-9.9 .5-4.7 .5 4.5 .5 8.3 .5-15.3 .5 10.4 .5 14.1 .5-17.8 .5 3.6 .5-.1 .5-2.8 .5 10.5 .5-3.4 .5 6.4 .5-13 .5-15.7 .5 22.2 .5-8.4 .5 18.2 .5-1.4 .5-.7 .5 15.4 .5-26.5 .5 7.5 .5 14.6 .5-8.5 .5 14.1 .5-19.1 .5-8.1 .5 12.2 .5-17.3 .5 14.1 .5-9.3 .5-5.4 .5 15.1 .5-3.2 .5 2.4 .5-5.2 .5-9.4 .5 14 .5-9.4 .5 15.7 .5-13.2 .5 18.9 .5-6.1 .5 14.3 .5-9 .5-19.3 .5 2.3 .5 16.5 .5-8.3 .5 7.6 .5-14 .5 14.1 .5-1.2 .5-8.3 .5 2.3 .5-3 .5-9 .5 31.9 .5 16.6 .5-46.8 .5 13.4 .5-20.4 .5 144.5 .5-129 .5 20.1 .5-27.3 .5 8.6 .5 35.2 .5-4.8 .5-34.3 .5 8.4 .5-13.9 .5 9.9 .5 48.5 .5-43.6 .5 27.2 .5-12.4 .5-31.1 .5 106.8 .5-108.3 .5 34.9 .5 1.1 .5-40.9 .5-15.6 .5 13.6 .5 72.5 .5-60 .5 94.7 .5-65.3 .5-21.4 .5 23.4 .5 3.6 .5-22.1 .5 85.1 .5-30.4 .5-49.6 .5-30 .5 31.3 .5-36.7 .5 3.3 .5-2.4 .5 48 .5-29.2 .5-15 .5 33 .5-24 .5 25.1 .5-15.9 .5 63.3 .5-59.3 .5 95.9 .5-96.3 .5 34.9 .5-9.1 .5-22.9 .5 18.3 .5-18 .5-4 .5 1.3 .5 59.1 .5-33.9 .5-13.7 .5-7.1 .5 13.4 .5 28.3 .5-15.9 .5 9.5 .5-51.9 .5 3.6 .5 32.9 .5-3 .5 .7 .5 40.9 .5-47.8 .5 47.4 .5-72.3 .5 34.8 .5-15.7 .5 55.2 .5-81.2 .5 60.6 .5 56.5 .5-104.7 .5 15.8 .5 25.9 .5-38.9 .5 11.7 .5-4.6 .5 17.3 .5 60.5 .5-33.9 .5-55.2 .5 19.8 .5 27.6 .5-62.1 .5 109.8 .5-75.7 .5 10.4 .5 9.9 .5 32 .5-13.9 .5-57.8 .5 28.5 .5 3.4 .5-10 .5 2.1 .5 8.9 .5 73 .5-96.2 .5-11.6 .5 16.7 .5 28 .5-21.1 .5-6.4 .5 24 .5-.3 .5-18.2 .5 9 .5-7.7 .5 23.3 .5-61 .5 93.4 .5-70.5 .5-.9 .5 25.7 .5 166.4 .5-174.4 .5-9.1 .5 1.7 .5-10.1 .5 35.3 .5-48.9 .5 17 .5 47.3 .5 3.2 .5-21.6 .5-1.7 .5-34.1 .5 14.7 .5-15.3 .5 31.5 .5-22.1 .5 12.4 .5 143 .5-56.6 .5-92.6 .5 34.1 .5-12.4 .5 21.5 .5-42.8 .5 50.8 .5-66.7 .5 33.4 .5 4.3 .5 29.9 .5 128.3 .5-173.8 .5 14.5 .5-51.2 .5 68.3 .5 45.2 .5-97.8 .5 1.8 .5 3.3 .5 114.2 .5-109.3 .5-6.4 .5 24 .5 46 .5-45.8 .5 30.5 .5 4.6 .5-52.5 .5-3.6 .5 64.4 .5-71 .5 58.9 .5-11.5 .5-29.9 .5 177.1 .5-189.6 .5 3.1 .5 47.4 .5-65.9 .5 76.7 .5 55.1 .5-133.2 .5 8.8 .5 50.8 .5-40.2 .5 187 .5-167.9 .5-39.8 .5 162.8 .5 44.9 .5-141.2 .5-29.7 .5-26.4 .5 0 .5 64.3 .5 18.1 .5 54.7 .5 60.2 .5-155.1 .5 82.2 .5-63.4 .5-37.9 .5 19.2 .5 72.3 .5-99.5 .5 .9 .5 181.3 .5-195.6 .5 25.7 .5 .8 .5 2.8 .5 64.4 .5-86.7 .5 45.9 .5 12.6 .5-81 .5 44.6 .5-25.9 .5-3.9 .5 196.3 .5 0 .5-152.8 .5-46.4 .5 84.6 .5-67.4 .5 43 .5 7.7 .5 2.1 .5-35.5 .5-19.2 .5 183.9 .5-155.6 .5 62.4 .5-1.2 .5-34.1 .5-24.2 .5 152.7 .5-126.5 .5-30.9 .5 7.5 .5 19.5 .5-91.6 .5 85.9 .5 136.1 .5-177.4 .5 35.8 .5 16.3 .5-2.6 .5-11.2 .5 113.1 .5-50.7 .5-111.5 .5 19.2 .5-18.9 .5 187.9 .5-132.9 .5-13.4 .5 146.3 .5-136.9 .5-46.9 .5 21.8 .5-16.4 .5 178.4 .5-172.9 .5 172.9 .5-164.6 .5 44 .5 46.3 .5-97.8 .5 2.3 .5 169.8 .5-150.3 .5 42.4 .5-43.6 .5 151.5 .5-156.3 .5 156.3 .5-162.3 .5-11.3 .5 14.7 .5 23.2 .5 135.7 .5-165.3" fill="none" stroke="#96fa50" stroke-width="2.5" stroke-linejoin="miter" stroke-miterlimit="2"/>
<path d="M1079.7 652.8l.5-171.4 .5-8.2 .5 20.7 .5-3.4 .5 5.9 .5-6.3 .5-2.5 .5 4.3 .5-22.6 .5 24.7 .5-5.6 .5 41.4 .5-57.4 .5 25.9 .5-12.3 .5 26.2 .5-42.1 .5 22.8 .5 28.2 .5 8.9 .5-39 .5 11.1 .5-13.1 .5 .5 .5 29.4 .5-11.3 .5-13.1 .5-15.2 .5 6.7 .5 .3 .5 19.1 .5-13.9 .5-17.8 .5 10.4 .5 5.4 .5 3.7 .5-21.4 .5 7.8 .5 12.1 .5-8.3 .5-4.7 .5 12 .5-.2 .5-16.2 .5 38 .5-36.7 .5 4.6 .5 4.6 .5-16.2 .5 2 .5 14.4 .5-1 .5-12.2 .5 15.9 .5-7 .5 3.7 .5-11.8 .5 8.8 .5-19 .5 16.5 .5-2.9 .5 10.1 .5-10.4 .5-7.9 .5 14.9 .5-14.6 .5-1.2 .5-.1 .5 7.3 .5 1.6 .5 .5 .5 7.2 .5-3.1 .5 5.3 .5-15.2 .5 10.2 .5-5 .5-.3 .5-10.3 .5 6 .5 3.2 .5-5.9 .5 .8 .5 .4 .5 11.4 .5-16.8 .5 9.5 .5 7.7 .5-4.9 .5-9.5 .5 3.9 .5-6.9 .5 12.6 .5-3.6 .5-3 .5-5.6 .5 9.8 .5-1.7 .5-5.4 .5-.5 .5 .3 .5-3.3 .5 1.8 .5-11.2 .5-1.1 .5 13.5 .5-5.2 .5-.7 .5 7 .5-1.4 .5-6.2 .5-8.6 .5 13 .5-8.3 .5 4.2 .5 2 .5-5.4 .5-.8 .5 2.3 .5-5.3 .5 14.6 .5-12.6 .5-7.7 .5 5.4 .5 .8 .5 7.9 .5-1.1 .5-2.9 .5 2.9 .5-11.6 .5 3.8 .5 7.4 .5-5.1 .5-12.9 .5 8.6 .5 5.1 .5-7 .5 5.9 .5-3.3 .5 8.1 .5-18.3 .5 12.4 .5 2.8 .5-7.5 .5-3.4 .5 6.2 .5 16.3 .5-5 .5-17.1 .5 8.2 .5-10 .5 9.1 .5-3.9 .5 1.8 .5-1.2 .5-4.9 .5 8.1 .5-.5 .5-2.5 .5 2.6 .5-4.6 .5-1.6 .5 2.6 .5 .3 .5-4.3 .5 10.4 .5-4.2 .5-16.6 .5 10.8 .5-8.9 .5 15.8 .5 .4 .5-8 .5 8 .5-2.6 .5-1.6 .5-5.1 .5 4.7 .5-8.7 .5 11.1 .5 1.2 .5-8.7 .5-.2 .5 2.4 .5-2.8 .5 2.2 .5-2.4 .5 6.9 .5-4.2 .5-10.5 .5 2 .5 6.4 .5 3.1 .5 4.6 .5-4.4 .5 2 .5 1.4 .5-11.4 .5 4.4 .5-6.1 .5 12.2 .5 1.2 .5-2.5 .5-10.5 .5 18.7 .5-8.1 .5-11.1 .5 8.4 .5 14.1 .5-18.2 .5 18.5 .5-11.3 .5-5.3 .5 7.4 .5-13.1 .5 4 .5 5.7 .5 8.4 .5-13.7 .5-2.2 .5-1.5 .5 12.7 .5-14.1 .5 2.2 .5 9.8 .5-5.8 .5 2.2 .5 3.7 .5-8.1 .5-4.5 .5 16 .5-7.6 .5-1.9 .5 4.9 .5-11.4 .5 6.3 .5-1.5 .5 3.9 .5-5.3 .5-2.9 .5 7.8 .5 4.7 .5-4.5 .5-7.1 .5 9.9 .5-3.9 .5-6.1 .5 .2 .5 17.2 .5-8.5 .5 1.7 .5-4.2 .5 8.4 .5 3.8 .5-14.2 .5 5.7 .5 .1 .5-3.8 .5-2.4 .5 2.2 .5 9.9 .5-9.2 .5 2.3 .5-6.1 .5 5.6 .5 2.5 .5 1.7 .5-2 .5-6.2 .5 4.5 .5-6.9 .5 7.6 .5-4.8 .5 5.7 .5-9.1 .5 1.6 .5 0 .5 17.8 .5-25.9 .5 14.9 .5-3 .5-1.8 .5 4.5 .5-5.7 .5-1.3 .5-2.1 .5 12.1 .5-12.7 .5-4.6 .5 6.5 .5-7.8 .5 12.7 .5-3.9 .5 18.2 .5-10.9 .5-7.8 .5 10 .5-15.9 .5 11.6 .5 1.1 .5-3 .5 5.3 .5-8.3 .5 4.4 .5-3.5 .5-8.9 .5 19.7 .5-20.8 .5 11.2 .5 1 .5 5.6 .5-14.3 .5 3.3 .5 5.2 .5-.2 .5-12.1 .5 7.9 .5-1.3 .5 2.5 .5 3.9 .5-.4 .5-8.5 .5 13.4 .5-14.7 .5 8.4 .5-7.2 .5 13.7 .5-5.2 .5-5.5 .5-.6 .5 2.7 .5-8.8 .5 11 .5 1.1 .5-3.1 .5-5.3 .5-3 .5 12.6 .5 4 .5-7.9 .5-7.9 .5 3 .5 15.1 .5-10.7 .5 1.2 .5-5.7 .5-1.3 .5 20.5 .5-16.5 .5-4.7 .5 3 .5 10.1 .5-1.8 .5-12.4 .5 1.8 .5 5 .5-3.3 .5-.1 .5-2.1 .5 6.3 .5-7.6 .5 12.5 .5 1.8 .5-19.9 .5 15.1 .5 1 .5-1.3 .5-.7 .5-7.6 .5 9.6 .5-6.1 .5 6.2 .5-7.2 .5-1.7 .5 2.1 .5 5.9 .5-5.9 .5-1.7 .5-.2 .5 4.1 .5-7.7 .5 7.1 .5-8.3 .5 13.1 .5-3.6 .5-6.9 .5 5.4 .5-13.2 .5 12.1 .5 3.1 .5 8.4 .5-5.8 .5 .3 .5 9.2 .5-12.6 .5-3.2 .5-3.6 .5 10.7 .5-1.9 .5 .5 .5-6.3 .5 10.3 .5-9 .5-.6 .5 10.6 .5-13.6 .5 9.9 .5-6.3 .5 7.9 .5-6.6 .5-1.5 .5 2.4 .5-4.5 .5 3.3 .5 .9 .5 2 .5 1.1 .5-11.7 .5 8.8 .5-8.8 .5 4.7 .5 10 .5-14 .5 14.3 .5-6.9 .5 8.3 .5 1.2 .5 2.2 .5-20.4 .5 13.3 .5-1.4 .5-7.2 .5 4.7 .5 6.5 .5 3.5 .5-2.2 .5-13.4 .5 10.2 .5-8.7 .5 7 .5-2 .5 1.2 .5 0 .5-5.6 .5 17.3 .5-9.3 .5 8.6 .5-10.4 .5-3.2 .5 18.1 .5-13.3 .5-1.1 .5 9.7 .5-8.4 .5-3.1 .5-1.5 .5 2.4 .5 2.9 .5 3.3 .5-4.9 .5 2.2 .5-8.8 .5 9.5 .5 4.6 .5-2.7 .5-8.6 .5 10.6 .5-8.6 .5-.1 .5-5.4 .5 4.8 .5-2.9 .5 19 .5-14 .5 9.1 .5 1.6 .5-17.4 .5 21.4 .5-7.1 .5 4.6 .5-10.3 .5-5.4 .5 .9 .5 2.1 .5-1.5 .5-2.5 .5 14.2 .5-9.8 .5 .2 .5 4.7 .5 3.3 .5-6.5 .5 15.9 .5-12.4 .5-8 .5 12.2 .5 2.3 .5-6.3 .5-5 .5 7.9 .5-9.5 .5 5.5 .5 7.5 .5-13.9 .5 6.8 .5 8.7 .5-11.7 .5 11.7 .5-1.1 .5-5.9 .5 5.8 .5-13.1 .5 11.2 .5-6.3 .5 4.4 .5 10.5 .5-8.3 .5-.7 .5-9.1 .5 13.8 .5-2.7 .5 1 .5 7.2 .5-12.4 .5 2.3 .5 1.7 .5-8.8 .5 12.4 .5 1.3 .5-6.4 .5-3 .5 1.7 .5 4.8 .5-4.6 .5-1.6 .5 4.1 .5 2 .5 2.3 .5-2.1 .5-5.2 .5 3.6 .5 4.5 .5-7.5 .5 9.9 .5-9.3 .5-2.5 .5 2.3 .5 9 .5-13.5 .5 3.2 .5 2.9 .5-1 .5 13.2 .5-.7 .5-5.7 .5-4.3 .5 5.1 .5-9.9 .5 2 .5 9.5 .5-7.8 .5 5.8 .5 2.9 .5-7 .5 5.1 .5 6.4 .5-4.6 .5-10.1 .5 .8 .5 20.7 .5-10.1 .5 2.6 .5-17.6 .5 8.4 .5 9.1 .5-10.7 .5 23.3 .5-27.6 .5 5.7 .5 4.7 .5-3.9 .5 8.6 .5 .9 .5-4.4 .5-3.2 .5 4.6 .5-3 .5 5.7 .5-5.9 .5 4 .5 5.4 .5-17.5 .5 1.7 .5 9 .5 .7 .5 .2 .5 3 .5-9.4 .5 9.5 .5-2.4 .5-3.7 .5 4.8 .5 7.5 .5-6.3 .5 4.4 .5-12.9 .5 2.7 .5 5.2 .5 4 .5-3.9 .5 1.6 .5 4.9 .5-14.6 .5 5.6 .5 4.9 .5 8.3 .5-9.3 .5-9 .5 3.4 .5 2.6 .5 .1 .5-6.9 .5 16.6 .5 5.9 .5-16.9 .5 .2 .5 4.1 .5 1.9 .5-10.3 .5 7.9 .5 12.8 .5-8.8 .5 1.5 .5-4.3 .5 1.9 .5-12.1 .5 4.2 .5 8.1 .5-7.4 .5 4 .5 3.7 .5 .8 .5-6.3 .5-4.6 .5 3.9 .5 4.4 .5-6.1 .5 4.8 .5 6.2 .5-6.3 .5 7.8 .5-1.9 .5-11.6 .5 10.1 .5-.4 .5 1.5 .5-9 .5 6.5 .5-1.8 .5 4.1 .5 3 .5-6.9 .5 1 .5 17.2 .5-5.9 .5-10.3 .5 10.6 .5-3.5 .5-.5 .5 2.7 .5 2.6 .5-7.3 .5-2.6 .5 1.2 .5 6.9 .5-9.3 .5-7.7 .5 11.5 .5-6.2 .5 10.1 .5 1.6 .5-.8 .5-4.4 .5 5.7 .5-9.1 .5 1.5 .5 2.4 .5-7.1 .5 21.1 .5-14.2 .5-2.1 .5-4.1 .5 14.5 .5-12.7 .5 5.8 .5-4.6 .5-4 .5 3.1 .5 .2 .5 4.3 .5-2 .5 10.9 .5-5.4 .5-6.6 .5 13.5 .5-6.7 .5 2 .5-2 .5 6.2 .5-4.6 .5 7.9 .5-4.2 .5-1.5 .5-4.8 .5 2.8 .5-1.2 .5 8 .5-.1 .5 1.7 .5-9.9 .5 7.7 .5 .6 .5 .8 .5-12.2 .5 8.4 .5-.6 .5 9.6 .5-12.7 .5-2.5 .5 .4 .5 5.8 .5-6.6 .5 16.2 .5-7.8 .5-10 .5 31 .5-15 .5 4.7 .5-6.6 .5-9.1 .5 13.3 .5-4.7 .5-8.1 .5 8.1 .5-3.2 .5 2.9 .5-6.2 .5 5.7 .5-5.6 .5 5.5 .5 .7 .5 3.5 .5-3.4 .5 1.6 .5-13.6 .5 11.7 .5-11.3 .5 14.2 .5-1.4 .5-2.8 .5-12.6 .5 25.2 .5-.3 .5-11.3 .5 10.4 .5 1.7 .5-22.8 .5 26.6 .5-13.3 .5 10.9 .5-3.3 .5-7.6 .5-1.5 .5-1.1 .5 3.5 .5 4.4 .5-1.7 .5-4.8 .5 4.1 .5 10.5 .5-9.6 .5-13.8 .5 19.8 .5-22.8 .5 19.9 .5-18.3 .5 5.7 .5 18 .5-3.1 .5-11.8 .5-5.4 .5 13.8 .5-.4 .5 7 .5-17.8 .5 8.7 .5 1.6 .5 1.4 .5 .4 .5-2.3 .5-8.1 .5 4 .5 4.5 .5 5.2 .5-4.3 .5 8.8 .5-10.5 .5-1.8 .5-2.2 .5 10.1 .5-1.6 .5-7.6 .5-.2 .5 8.9 .5 8.6 .5-10.5 .5 13.4 .5-17 .5 2.8 .5-.8 .5-.1 .5-6 .5 3.6 .5 5.9 .5 3.4 .5-.3 .5 9 .5-1.7 .5-1 .5-4.7 .5 2.8 .5 8.4 .5-17.5 .5 2.5 .5-5.6 .5-9.1 .5 3.5 .5-.3 .5 10.7 .5-9.1 .5 13.9 .5 17.2 .5-16.8 .5-.8 .5-9 .5-.7 .5-1.2 .5-2.4 .5 18.7 .5-3.7 .5-8.5 .5 17.4 .5-14.5 .5-2.3 .5 4.6 .5-3.6 .5 12.7 .5-20.6 .5 18.2 .5-7.3 .5-5.4 .5 4.9 .5 5 .5-3.1 .5 1.7 .5-5.9 .5 22.1 .5-10.6 .5-27.5 .5 45.6 .5-25.9 .5 14.6 .5-7.7 .5-8.6 .5-7.3 .5 3 .5 16.1 .5 1.1 .5-18.2 .5 14.9 .5-5.8 .5 17.8 .5-2.8 .5-12.9 .5 13.1 .5 .5 .5-16.4 .5 1 .5 27.8 .5-33.1 .5 19.8 .5-5.4 .5-6.9 .5-6.3 .5 42.7 .5-39.8 .5 .8 .5 6.5 .5 9.5 .5 4.1 .5-8.7 .5-6 .5-2.8 .5 4.9 .5-8.8 .5 22.5 .5 4.6 .5-23 .5-8.7 .5 2.6 .5 14.3 .5-2.8 .5-8.4 .5 15.6 .5-9.5 .5-3.8 .5 13.3 .5 3.4 .5 .9 .5-14.4 .5 .7 .5-.8 .5 8.4 .5-4.3 .5-7.3 .5 20.6 .5 1.4 .5-5 .5-1.1 .5-3.1 .5-10.4 .5 11.3 .5-2.5 .5-4.1 .5 2.2 .5 29.4 .5-30.7 .5 4.4 .5 6 .5-3.6 .5-3 .5 6 .5-15.8 .5 17 .5-12.3 .5-7.5 .5 6.5 .5 3.8 .5 2.9 .5-14.4 .5 22.8 .5-10.1 .5 11 .5-11.8 .5-4.5 .5-3.8 .5 32.4 .5-18.1 .5 4.8 .5 14.4 .5-10.6 .5 .1 .5-7.2 .5-19.2 .5 21 .5 7.3 .5-3.4 .5 4.6 .5-18.6 .5 17.2 .5-9.8 .5-6.9 .5 12.5 .5-4.4 .5 6.2 .5-9.2 .5 16.5 .5-15.4 .5-14.8 .5 27.4 .5-22.2 .5 24.4 .5-.8 .5 5.8 .5-10.7 .5 4.5 .5 11.3 .5-19.4 .5-4.5 .5 6.2 .5 20.5 .5-34.1 .5 22.1 .5-20 .5 2.8 .5 5.4 .5-8.1 .5 16.8 .5 11.8 .5-16.9 .5 30.3 .5-28.7 .5-5.2 .5 9.5 .5-19.1 .5 28.8 .5 23.4 .5-43.5 .5 1.8 .5 9.9 .5 10.1 .5-6.1 .5-12.6 .5 32.9 .5-15.6 .5 .3 .5-1.2 .5-8.7 .5 5.6 .5 2.4 .5 12.1 .5 8.4 .5-17.3 .5 55.3 .5-48.9 .5 52.4 .5-54.9 .5-21.7 .5 44.5 .5-30.4 .5 9.6 .5-14.4 .5 11.3 .5 31.4 .5-2.9 .5-19.5 .5-32.4 .5 48 .5-17 .5 32.5 .5-35.6 .5-1.2 .5-9.1 .5-.8 .5-16.4 .5 10.8 .5 14.3 .5 19.2 .5 38.6 .5-42.8 .5-39.1 .5-15 .5 26.9 .5 55.5 .5 6.6 .5-29 .5 76 .5-45 .5-39.6 .5-24.6 .5 28.9 .5-61 .5 39.3 .5 23.2 .5 1.5 .5 77.3 .5-55.1 .5 55.1 .5-109.5 .5 57.6 .5-58.8 .5 12.5 .5 98.2 .5-112.9 .5 9.6 .5 26.9 .5 4.2 .5-25.8 .5 5.9 .5-29 .5 10.2 .5 84.3 .5-30.6 .5-51.1 .5-25.7 .5 97.6 .5-77.4 .5-12.3 .5 68.4 .5 57.7 .5-117.2 .5 117.2 .5-75.8 .5-28.5 .5-5.8 .5-2.1 .5 53 .5-33.7 .5 13.3 .5 76.4 .5-54 .5-61.1 .5 42.1 .5-2.5 .5 31.8 .5-53.6 .5 16.5 .5-25.7 .5-6.5 .5 .6 .5 65.3 .5-2.8 .5 .2 .5-34 .5 3.8 .5-32.1 .5 27.4 .5 47.6 .5 5.9 .5 34.3 .5-38.4 .5-47.5 .5-32.5 .5-16.8 .5 96.3 .5 38.9 .5-41 .5-60.1 .5 72.2 .5 28.9 .5-41 .5-53.2 .5 94.2 .5-66.8 .5 34.5 .5-46.5 .5 15.8 .5-30.6 .5-26.9 .5-1.4 .5 2.6 .5 70.4 .5-65.8 .5 15 .5 99.7 .5-117.5 .5 57.2 .5-8.3 .5-65.5 .5 134.1 .5-127.5 .5 7.1 .5-22.8 .5 143.2 .5-61.5 .5-62.5 .5 86.8 .5 37.2 .5-84.4 .5 59.4 .5-89.9 .5-2.9 .5 6.7 .5 27 .5 19.7 .5-45.5 .5 28 .5-8.8 .5 21.2 .5 15.3 .5-14.2 .5-48.3 .5 116.7 .5-126 .5 42.6 .5 83.4 .5-106.8 .5-16.2 .5 14.7 .5 108.3 .5-123.2 .5 115 .5-108.2 .5 116.4 .5-58.6 .5-40.5 .5-7.6 .5-6.3 .5 76.9 .5-79.9 .5 116 .5-90.9 .5-15.8 .5-15.9 .5 27.3 .5 63.2 .5-42.2 .5 19 .5-32.5 .5-19.6 .5 34 .5-9 .5-35.2 .5 87.2 .5-72.8 .5-32.3 .5 34.4 .5-.3 .5 101.4 .5 0 .5-86.5 .5 86.5 .5 0 .5-119.3 .5 28.4 .5 90.9 .5-16.5 .5-92 .5 55.4 .5-60.6 .5 34.4 .5-15.1 .5-27.6 .5 9 .5 14.7 .5 8.3 .5 20.9 .5-29.9 .5 99 .5-127.6 .5 48.6 .5-3 .5 82 .5-108.7 .5-17.8 .5 7 .5 39 .5 20.9 .5-40.1 .5 38.6 .5-35.5 .5 13 .5 83.6 .5-46.9 .5-71.2 .5 62.8 .5-66.4 .5 17.4 .5-7.8 .5 112.1 .5-58 .5 58 .5-74.5 .5-27 .5-6.3 .5-22.8 .5 130.6 .5 0 .5-105.8 .5 34.9 .5-25 .5 9 .5 52.6 .5-96.5 .5 34.4 .5 50.3 .5 46.1 .5-94.3 .5 6.1 .5-13.2 .5 16.9 .5 44.4 .5-52.7 .5 92.8 .5-104.5 .5 31 .5-25.7 .5 31.3 .5 67.9 .5 0 .5-55.7 .5-56.8 .5 37.4 .5 32.5 .5-46.2 .5 48.9 .5-37.5 .5 77.4 .5 0 .5-96.2 .5 63.7 .5 32.5 .5 0 .5 0 .5-108.7 .5 103.1 .5 5.6 .5 0 .5 0 .5-46.8 .5-25.1 .5-25.4 .5 45.5 .5-36 .5 87.8 .5-76.6 .5-23.1 .5-26.3" fill="none" stroke="#afff82" stroke-width="2.5" stroke-linejoin="miter" stroke-miterlimit="2"/>
</g>
<clipPath id="cc"><rect x="193.1" y="833.3" width="656.3" height="624.7"/></clipPath>
<g clip-path="url(#cc)">
<path d="M194.4 829.3l.5 11.7 .5 5.9 .5-.9 .5 .3 .5 10.8 .5-6 .5 7.4 .5 2.3 .5 6.3 .5 1.1 .5 1.7 .5 19.1 .5-19.2 .5 4.6 .5 3.9 .5-8 .5 7.5 .5-1.5 .5 8.2 .5-4.1 .5 3.5 .5 4.4 .5-3.6 .5 3.9 .5 10.7 .5-9.2 .5-.1 .5-3.2 .5 1.2 .5 10.9 .5-6.5 .5 11.9 .5-7 .5-5.8 .5 4.5 .5 7.2 .5-9.9 .5 4.8 .5 .1 .5-1.4 .5-1.9 .5 6 .5-2.7 .5 4.9 .5-1.5 .5 .2 .5-1 .5 1.6 .5 3.8 .5-7.1 .5 2 .5 8.3 .5-.4 .5-6.7 .5 3.2 .5-5.7 .5 1.1 .5 5.1 .5 5.8 .5-6.4 .5 .9 .5-1.5 .5 6.9 .5-.1 .5-6.8 .5-1.2 .5-1.7 .5 17.2 .5-3.5 .5-5.2 .5 9.4 .5-5.1 .5-3.2 .5 3.7 .5 2.3 .5-3.7 .5-3.1 .5 1 .5 6.2 .5-6.1 .5 6 .5-1.8 .5 3.4 .5-5.9 .5 2.6 .5 8.3 .5-.3 .5-1.9 .5 .4 .5-8.7 .5 1.8 .5 5.4 .5-7.9 .5 6.7 .5 3.2 .5-8.2 .5 5.3 .5-4.2 .5 7.7 .5 4.4 .5-4.1 .5 0 .5 4.9 .5-10.5 .5 22.9 .5-17.8 .5 .1 .5 2.2 .5-1.1 .5-6 .5 6.4 .5 4.7 .5-3.2 .5-9.3 .5 4 .5 12.6 .5-8.6 .5 2.2 .5-10.8 .5 4 .5 15.7 .5-13.5 .5 8.5 .5-2.9 .5 4.2 .5-4.4 .5-1.5 .5 7.1 .5-3.9 .5 2.8 .5-13.4 .5 3 .5 8.4 .5-.9 .5-4 .5 9.5 .5-12.5 .5 9.8 .5-5.6 .5 3.8 .5-8.1 .5 1.7 .5 2.1 .5 4.1 .5 2.3 .5-8.7 .5 3.3 .5-1.8 .5 3 .5 6.2 .5-5.3 .5-3.3 .5 .1 .5 8.5 .5-4.2 .5 1.5 .5-5.7 .5 5.9 .5 1.1 .5-6.6 .5 4.2 .5-10.7 .5 6.3 .5-3.3 .5 9.3 .5-2.7 .5-4.4 .5 9.8 .5-7.1 .5-.6 .5 4.8 .5-7.6 .5 3.1 .5-.8 .5 6.1 .5-8.6 .5 0 .5 6.5 .5-4.3 .5 1.3 .5 2.3 .5 3.4 .5 5.1 .5-18.9 .5 5.1 .5 5 .5-4 .5-2.8 .5-7.5 .5 12.4 .5-3.8 .5 3.9 .5 2.8 .5-4.1 .5-5.8 .5 6 .5 2 .5-3.7 .5 3.4 .5 6.5 .5-7.4 .5 5.6 .5-7.4 .5-.6 .5-5.4 .5 8.3 .5-11.1 .5 8.4 .5 .6 .5 .5 .5-2.7 .5-11.5 .5 4.4 .5 5.3 .5-6.4 .5 3.5 .5 8.6 .5 1.4 .5-4 .5-4.6 .5-1.2 .5 3.4 .5 5.2 .5-6.7 .5 4 .5-13.6 .5 10.7 .5 1.5 .5-11.3 .5 9.9 .5-3.3 .5 1.7 .5-7.6 .5-.2 .5 .3 .5 10.8 .5 3 .5-17.9 .5 15.5 .5 .3 .5-11.5 .5 4.7 .5 1.4 .5 .1 .5-4.2 .5-.6 .5 6.8 .5-7.7 .5 8.2 .5 5.5 .5-10.4 .5-7 .5 8.5 .5 .2 .5 6 .5-11.9 .5 5.6 .5 4.7 .5-4.3 .5 6.4 .5-6.9 .5 2.5 .5-5.5 .5 13.9 .5-13.7 .5 8.2 .5-1.5 .5-1.4 .5-2.4 .5-1.3 .5 8.1 .5-5.2 .5 1.1 .5-.4 .5-.6 .5 2 .5-2.9 .5 3.7 .5 2.2 .5 4.2 .5-1.3 .5-7.4 .5 5 .5-3.5 .5 1.6 .5-1.9 .5 13.9 .5-10.6 .5 9.5 .5-7 .5 6.2 .5 1.1 .5-4.1 .5 2.4 .5-1.1 .5 .2 .5 8 .5-10.6 .5 16.4 .5-3.2 .5-.6 .5 1.1 .5 8 .5-19.3 .5 7 .5 6.2 .5-1.2 .5-1.7 .5 .4 .5 1.1 .5 2.4 .5-3.5 .5 5.6 .5 3 .5-12 .5 4 .5 7.5 .5-4.4 .5-1.7 .5 8.2 .5-8.1 .5 7.7 .5-1.1 .5 2.3 .5-6.7 .5 15.6 .5-7.9 .5 1 .5-3.4 .5-2.7 .5 3.3 .5 9.1 .5-4.8 .5-5.8 .5 8.1 .5-3.1 .5-10.8 .5 20.8 .5-6.9 .5-.4 .5 9.4 .5-13.8 .5 10.1 .5-1.5 .5-2 .5-1.6 .5-1.7 .5 2.3 .5 1.9 .5-7.1 .5 10.7 .5 1.8 .5-2.4 .5 2.3 .5 5.5 .5-13.5 .5 13.5 .5-7.2 .5-2.3 .5 4.3 .5-1.1 .5 .3 .5-3.7 .5 10.8 .5-10.2 .5 4.2 .5 2 .5-6.6 .5 10.1 .5-5.5 .5 1 .5-5.9 .5 10.4 .5-1.1 .5-10 .5 21.7 .5-14.4 .5 5.2 .5-4.2 .5-14.1 .5 9.8 .5 4.3 .5-12.1 .5 10.9 .5-5.1 .5 9.3 .5-4.4 .5 4.4 .5-8.7 .5 8.4 .5-.4 .5-7.1 .5 3.1 .5 9.9 .5-1.6 .5 10.7 .5-4.9 .5-15.1 .5 8.1 .5 .4 .5-4.5 .5-2.5 .5 4.7 .5-7.8 .5 10.1 .5 .6 .5-14.9 .5 11.2 .5 9.7 .5-9 .5 8.3 .5-8.7 .5 .9 .5-.8 .5-2.8 .5 10 .5-6.2 .5 3.1 .5-4.4 .5 6.2 .5-8.6 .5-3.1 .5 11.9 .5-2.1 .5 1.3 .5-1.6 .5-3.9 .5 1.3 .5-8.3 .5 1.5 .5-1.5 .5 4.2 .5-.9 .5-2.1 .5-2.6 .5 7.4 .5 .7 .5 2.4 .5-1 .5-.9 .5-.1 .5-6.4 .5 7.4 .5-5.3 .5-2 .5-4.9 .5 2.4 .5-2.2 .5 7.6 .5-4.9 .5 2.3 .5 6 .5-4.4 .5-.8 .5-.2 .5-2.3 .5 3.9 .5 1.2 .5-.8 .5-.1 .5 2 .5-9.5 .5 2.6 .5 .8 .5-5 .5 3.8 .5 8.3 .5-8.4 .5 0 .5 5.7 .5-8.6 .5 6 .5 .2 .5-4 .5 .8 .5 9.8 .5-18 .5 1.7 .5 1.3 .5 11.8 .5 3.6 .5-10.3 .5 3.6 .5-1 .5-1 .5-2 .5 2.1 .5 1 .5-.2 .5 .9 .5-.1 .5-2.6 .5 5.7 .5-15.8 .5 14.8 .5-16.1 .5 6.6 .5 10.5 .5-10 .5-3.9 .5 15.3 .5-.9 .5-7.9 .5 1 .5 4.7 .5-8.2 .5-.6 .5 7 .5-3.8 .5 2.3 .5-1.1 .5 10.3 .5-13.2 .5 1.4 .5-3.3 .5 8.4 .5-7.1 .5 7.4 .5-12.3 .5 10.7 .5-6.9 .5 7 .5-6.3 .5 3.3 .5 .4 .5 4.2 .5-9.7 .5 3.1 .5-4.4 .5 3.7 .5 3.2 .5 2.2 .5 1.6 .5 1 .5-2.6 .5 .4 .5-1.5 .5-4.2 .5 3.7 .5 1.8 .5-14.5 .5 12.1 .5-.6 .5 4.8 .5-2.3 .5-5.4 .5 3.1 .5 .5 .5 1.7 .5-.3 .5-3 .5-1.6 .5-1.9 .5 2.7 .5-3.9 .5 7.8 .5 5.3 .5-8.8 .5 4.2 .5-4.5 .5 1.5 .5 1.1 .5 7 .5-10.5 .5 4 .5-2.1 .5-2.8 .5 4.5 .5-1.8 .5 6.2 .5-3.2 .5 2.9 .5-4.8 .5-2.8 .5 8 .5-1.8 .5 3.1 .5-7.4 .5 5.2 .5 .9 .5-4.9 .5 4.9 .5-5.1 .5 3 .5 .2 .5-1 .5-5.6 .5 5.7 .5 4.3 .5 0 .5 7.5 .5-1.3 .5-8.6 .5 4.6 .5-5.7 .5 6.5 .5-5.5 .5 1.5 .5 .5 .5 4.3 .5-4.1 .5-1.6 .5 3 .5 .8 .5-3.8 .5-4.7 .5 1.8 .5 8.4 .5-11.4 .5 7.2 .5 .1 .5 10 .5-11.5 .5-.2 .5 6.4 .5-8.2 .5 5 .5 9.4 .5-3.5 .5-8.5 .5 13.2 .5-2.8 .5-5.8 .5 1.4 .5 .6 .5 .6 .5 2.3 .5 1.8 .5-4.5 .5-3.6 .5 11.4 .5-10.3 .5 10.6 .5-5.3 .5 5.5 .5-3.3 .5-6.1 .5 2.4 .5-.4 .5-4.5 .5 11.5 .5-6.4 .5 7.1 .5 .7 .5-10.4 .5 3.6 .5-1.6 .5 12.5 .5-6.1 .5 4.4 .5-5.5 .5 3.4 .5-9.2 .5 1.3 .5-2.8 .5 2.6 .5 4.1 .5-4.8 .5 6.6 .5-3.8 .5 .1 .5-1.5 .5 13 .5-11 .5 1.8 .5 6.7 .5-10.4 .5 15.1 .5-9.3 .5 5.7 .5-4.3 .5 3.1 .5-9.1 .5-2.4 .5 10 .5-5.8 .5 5 .5-2.6 .5 3.4 .5-.1 .5 2.7 .5-9 .5 16 .5-4.4 .5 5.1 .5-9.4 .5-1.3 .5 6.7 .5 1.8 .5-7.1 .5 8.1 .5-8.9 .5 5.5 .5 13.8 .5-14.6 .5-1 .5 9.3 .5-13.2 .5 6.1 .5 1.2 .5 .5 .5 .2 .5 1.1 .5 16.4 .5-11.3 .5-2.5 .5-3.3 .5 1.1 .5 2.7 .5-1 .5-.2 .5 3.4 .5-10 .5 16.7 .5-15.2 .5 .4 .5 13.5 .5-6.8 .5 7.8 .5-8.3 .5-3.7 .5 6.1 .5 2.8 .5-3.1 .5 .8 .5-3.5 .5 0 .5 8.4 .5-9 .5-.1 .5 9.3 .5 6.6 .5-6.8 .5-4 .5-2.3 .5 12.5 .5-10.9 .5 4 .5-5 .5 3.6 .5 8.7 .5 1 .5-13.1 .5-1.6 .5 8.6 .5 2.7 .5-7.9 .5-2.5 .5 11.7 .5-7.4 .5-6.1 .5 3.1 .5 6.4 .5-5 .5 1.2 .5 0 .5-1 .5 6.4 .5-10.8 .5 1.5 .5 10.7 .5-4.7 .5-4.2 .5 9.5 .5-1.7 .5-8.1 .5 4.2 .5-3.4 .5 8.4 .5-3 .5 12 .5-2.7 .5-3.4 .5 3.7 .5-7.2 .5 5.6 .5-8.9 .5 9.7 .5-.3 .5-13.2 .5 7.1 .5 .7 .5 .4 .5 9.5 .5-7 .5-7.3 .5-2.7 .5 2.9 .5 7.7 .5 1.1 .5-2.5 .5 18.9 .5-19.1 .5 9.1 .5-9.3 .5 1.8 .5 9.5 .5-2.2 .5 .3 .5-4.6 .5 2 .5-7.5 .5 7.3 .5 24.4 .5-22.1 .5 4.1 .5 1.8 .5-13.6 .5 2.5 .5 6.3 .5-3.3 .5 10.4 .5-5.5 .5 7.3 .5-3.4 .5 .5 .5-15.7 .5 9.8 .5 1 .5 5 .5-11 .5 9.1 .5-.6 .5-3.7 .5-.8 .5-.1 .5 .6 .5 6.1 .5-18.4 .5 23.6 .5-17.4 .5 24.1 .5-15.2 .5-3.3 .5-8.1 .5 7.5 .5 3 .5 12.9 .5-16.3 .5 10.7 .5-9.9 .5 3 .5 6.6 .5-5.2 .5-16.3 .5 5.7 .5 8.1 .5 10.5 .5-6.1 .5 3.3 .5-11.9 .5 10.7 .5 10.9 .5-18.1 .5-12.7 .5 21.8 .5-2.2 .5-6.1 .5 4.9 .5 5.4 .5-9.7 .5 6.4 .5-2.4 .5-8.4 .5 3.6 .5-5.7 .5 10.4 .5 18.6 .5-19 .5-6.8 .5 11.6 .5-6.8 .5-2.7 .5 6.7 .5-1.9 .5 3.4 .5-5.9 .5-.2 .5 2.9 .5-5.1 .5 7.2 .5-3 .5 6.8 .5-13 .5 7 .5 4.6 .5-4.8 .5-4.1 .5-2.2 .5 9.8 .5-.7 .5-2.5 .5-2.3 .5 7.7 .5-2.8 .5-3.8 .5 7.5 .5-8.7 .5-4.3 .5 .7 .5 7.9 .5 1 .5 2.3 .5-.8 .5-9.8 .5 5.5 .5-3.8 .5 5.1 .5 7.1 .5-8.6 .5-.5 .5 8.5 .5-4.6 .5 15.6 .5-17.4 .5 1.1 .5 3.8 .5 10.1 .5-15.8 .5 5.9 .5 2 .5-.3 .5-5.4 .5 0 .5-7.4 .5 11.8 .5-13.8 .5 7 .5 6.3 .5 7 .5 7.8 .5-23.5 .5 17.6 .5-13.4 .5 17.2 .5-14.6 .5-3.1 .5 7.5 .5-6.6 .5 16.7 .5-9.7 .5-10.6 .5-2.5 .5 6.9 .5 5.1 .5-8.2 .5 15.8 .5-3.7 .5-5 .5-5.8 .5 9.2 .5-13.2 .5 7.8 .5 11.2 .5-2.7 .5-7.2 .5 13.4 .5-7.4 .5-8.2 .5 11.6 .5-11.6 .5 1 .5 19.5 .5-6.1 .5 .1 .5-16.5 .5 36.7 .5-20.2 .5-11.3 .5-6.1 .5 25.2 .5-17.4 .5-2.7 .5 14.4 .5-13.1 .5 7 .5-3 .5 .1 .5 6.9 .5-2.2 .5 .2 .5-10.2 .5 1.5 .5-9 .5 .1 .5 11.9 .5-1.1 .5-2.1 .5 2.8 .5-8.1 .5 16 .5-14.8 .5 19.4 .5 6 .5-19.2 .5 26.2 .5-29.7 .5 3.2 .5 16.1 .5-5.9 .5 3.5 .5 .8 .5 10.3 .5-6.9 .5-12.9 .5 12.2 .5-11.8 .5 5.6 .5-6.3 .5 7.2 .5 13.8 .5-14.5 .5 .7 .5-4.6 .5 5 .5 2.9 .5-12.7 .5 12 .5-7.1 .5 9.4 .5 2.5 .5-3.3 .5 3.3 .5 7.3 .5-19.3 .5 9.6 .5 6.9 .5 6.2 .5-4 .5 15.2 .5-25 .5-3.1 .5 24.3 .5-13.7 .5-.4 .5 12.4 .5-15.3 .5-7.4 .5 17.2 .5-21.4 .5 16.7 .5-10.7 .5 11.7 .5-10.2 .5 34.9 .5-36.7 .5 10.7 .5 17.8 .5-23.9 .5-.6 .5-4.3 .5 4.4 .5-9.3 .5 5.3 .5 5.5 .5-11.5 .5 17.3 .5-7.7 .5-4.4 .5 12.4 .5-15.8 .5 16.4 .5-11.9 .5 23.9 .5-12.7 .5-7.8 .5 16.5 .5 1.4 .5 13.7 .5-27.8 .5 27 .5-34.3 .5 24.2 .5-11.6 .5-.2 .5-11.4 .5 32.7 .5-13.8 .5-12.6 .5 5.8 .5-8.6 .5 14.4 .5-15.6 .5-10.8 .5 23.8 .5 33.8 .5-33.2 .5-18.6 .5 13.1 .5-20.8 .5 24.6 .5-5.9 .5 3.9 .5-4.4 .5 1.5 .5 19.2 .5-14.8 .5 4.2 .5-8.5 .5 6 .5 1.2 .5-1 .5-11 .5 8.9 .5-19.5 .5 4.8 .5 42.3 .5-20.2 .5-4.5 .5-2.6 .5-14.3 .5 31.5 .5-13.3 .5 19 .5-17.1 .5 18.6 .5-3.4 .5-11.3 .5-16.1 .5 11.2 .5 7.4 .5-12.7 .5 14.9 .5-2.4 .5 4.3 .5-2 .5-21.2 .5 23.7 .5-3.8 .5-5.7 .5 4.1 .5-15.5 .5 1.3 .5 16 .5-11.2 .5 4 .5 4.5 .5-3.3 .5 7.4 .5-13.8 .5 0 .5 16.9 .5-17.2 .5-1.5 .5-4.2 .5 15.9 .5-7.7 .5 17.8 .5-19.1 .5 9.1 .5-6.7 .5-13.7 .5 18.2 .5 2.5 .5-6 .5 7 .5-14.6 .5 12.4 .5-5.4 .5 15.7 .5 31.7 .5-30.3 .5 21 .5-30.9 .5 7.9 .5 7.2 .5 5.3 .5-6.9 .5-15.6 .5-.6 .5 .5 .5 14.4 .5-2.1 .5 13.5 .5-16 .5-12.7 .5 25.8 .5-16.5 .5 2.7 .5-14 .5 33.4 .5-26.1 .5-11 .5 23.5 .5-23.6 .5 19.4 .5 6 .5-9 .5 .7 .5-9.3 .5 12.8 .5-8.3 .5 1.2 .5 8.7 .5-5.6 .5 27.3 .5-13.1 .5-8.5 .5-15.6 .5 27.3 .5-2.1 .5-15.5 .5 24 .5-34.2 .5 9.4 .5 11.6 .5-7.7 .5-.7 .5-9.4 .5 15.4 .5 2.8 .5-31.8 .5 26.4 .5-13.3 .5 21.6 .5-26.7 .5 1.9 .5 31.8 .5-34.4 .5-7.2 .5 14.9 .5 3.7 .5 14.8 .5 .6 .5-22.3 .5-10.8 .5 71 .5-66.2 .5 39.2 .5-34.9 .5-4 .5 45.9 .5-7.7 .5-11.8 .5-27.7 .5 4 .5 24.7 .5 34.9 .5-34.4 .5-2.5 .5-4.5 .5 69.6 .5-58.2 .5 4.4 .5-17.4 .5 17.5 .5-26.3 .5 3.3 .5-16.2 .5 33 .5-12.2 .5 4.6 .5 11.8 .5-6.4 .5-15.7 .5 40.4 .5-25.3 .5-20 .5 8.6 .5 25.4 .5-39 .5 16.6 .5 3.1 .5 14.7 .5 2.2 .5-27 .5 5.9 .5-3.7 .5-6.2 .5 19.3 .5 13.8 .5-37.1 .5 10 .5 8.2 .5-17.4 .5 23.3 .5-13.8 .5 1 .5 2.1 .5-11.7 .5 15.8 .5 27.8 .5 4.5 .5-8.8 .5-36.4 .5-.2 .5 11.6 .5 7.9 .5 11.8 .5-22.4 .5 21 .5 5.8 .5-13.5 .5-14.9 .5 3.2 .5-4.1 .5-.6 .5 10.8 .5 20.9 .5-18 .5-22.6 .5 19.7 .5-15.1 .5 26.6 .5 32.3 .5-4.3 .5-45.1 .5 .1" fill="none" stroke="#5a0000" stroke-width="2.5" stroke-linejoin="miter" stroke-miterlimit="2"/>
<path d="M194.4 955.7l.5 3.1 .5 9.7 .5-11.2 .5 2.3 .5-9.1 .5 1.5 .5 3 .5-7.5 .5 4.3 .5 5 .5 12 .5-5.4 .5-4.6 .5 6.1 .5-9 .5 5.2 .5-.3 .5 2.5 .5-9 .5 10.5 .5-5.1 .5-3.5 .5 1.7 .5 9.3 .5-6.8 .5 7.2 .5-8.9 .5 5.8 .5 3.3 .5-4.5 .5-2.1 .5 3.5 .5 3.8 .5-4.2 .5-1.3 .5 3.9 .5-7.3 .5 11.8 .5-4.8 .5 1.1 .5 .3 .5-4.5 .5 11.7 .5-8.9 .5 .2 .5 3.4 .5 10.3 .5-2 .5-4.7 .5-7.6 .5 4.8 .5 4.3 .5 3.9 .5-1.6 .5 4.3 .5-9.3 .5 .2 .5 3.4 .5-5.6 .5 1.5 .5 5.3 .5 3.5 .5-5.6 .5 .8 .5-6.5 .5 7.2 .5 7.1 .5-8 .5 4.1 .5 .5 .5-7.6 .5 10.3 .5-3.6 .5 .9 .5 .7 .5-4.5 .5-3.4 .5 4.1 .5-1.3 .5 5.9 .5 3.4 .5 .8 .5-9.8 .5 2.3 .5 2.5 .5 .8 .5-4.7 .5 3.1 .5-.3 .5 2.9 .5 4.9 .5-11 .5 2.4 .5 2.9 .5-2.4 .5 4.4 .5-3.6 .5 2.2 .5 2.3 .5-1.8 .5-.3 .5-1 .5 1.5 .5-3.1 .5 8.1 .5-1.6 .5 2.7 .5-8.2 .5 4 .5 2.4 .5 2.7 .5-8.1 .5 .5 .5 8.7 .5-4.5 .5-1.9 .5 4.3 .5-11.2 .5 9.7 .5 3.9 .5-3.7 .5-.6 .5-3.5 .5 3.3 .5 3.4 .5 .4 .5-1.8 .5 1.8 .5 .3 .5 2.9 .5-3.6 .5-1.1 .5-3 .5 .4 .5 8.2 .5 1.9 .5-3.4 .5 9.4 .5-13.6 .5 3.7 .5-5.6 .5 5.7 .5 2.1 .5 .6 .5-3 .5-1.3 .5 15.1 .5-11.8 .5-2.3 .5-.2 .5 8.2 .5-5.9 .5-3.9 .5 3.2 .5 2.7 .5-11 .5 8.4 .5-1.8 .5-1.2 .5 2.6 .5-3.2 .5 3.3 .5 .8 .5-4.3 .5 11.1 .5-6 .5-5.1 .5 3.5 .5 2.2 .5-.5 .5 4.1 .5-7.9 .5 7.6 .5-1.2 .5-3.3 .5-2 .5 .9 .5 1.7 .5-2.6 .5 .1 .5-1 .5 .2 .5-1.2 .5 5.6 .5-.8 .5-5.4 .5 6.9 .5-1.2 .5 2.5 .5-9.3 .5 3.3 .5-2.1 .5 9.5 .5-8.3 .5 6 .5-8.9 .5 5.5 .5-6.7 .5 2.9 .5 8.1 .5-3.3 .5-.8 .5 2.3 .5-4.4 .5 6.1 .5-8 .5 4.5 .5-.1 .5-1.4 .5-.3 .5-1.4 .5 3.3 .5 .3 .5 1.8 .5-13.5 .5 4.4 .5 5 .5-7.2 .5 9.3 .5 .9 .5-5.1 .5-4.7 .5 6.4 .5-9.9 .5 8.6 .5 5.7 .5-1.4 .5-4.7 .5-3 .5 2.5 .5 4.4 .5 4.7 .5-10 .5 2.1 .5-.3 .5 5.3 .5 3.6 .5-7 .5-3.3 .5 8.1 .5-3.4 .5-3.9 .5-7 .5 8.1 .5 5.1 .5-5.4 .5 4.1 .5-2.4 .5-6.6 .5 3.6 .5 4.9 .5-4.9 .5 4.2 .5-6.5 .5 6.6 .5-8.4 .5 8.1 .5 7.9 .5 .3 .5 .1 .5-7.3 .5-4.4 .5 1.9 .5-3.1 .5-.7 .5 9.1 .5-2.6 .5-5 .5 5.2 .5-2 .5-1.4 .5 5.9 .5-2.9 .5-6.5 .5 4.9 .5 3.2 .5 2 .5-7.5 .5 1.9 .5-4.6 .5 7.8 .5 .9 .5 4.2 .5-6.7 .5 12.1 .5-8.9 .5-4.3 .5 13.8 .5-3.9 .5-.1 .5 3.3 .5 7.4 .5-7.2 .5-8.5 .5 .3 .5 2.7 .5 4.4 .5-1.6 .5 1.6 .5 6.3 .5-3 .5-1.8 .5 .3 .5 6.7 .5 3.6 .5-10.1 .5 7.3 .5-3.6 .5 4.3 .5 7.2 .5-6.3 .5 4.2 .5-9.1 .5 9.5 .5-6.7 .5 6.3 .5 1.5 .5 0 .5-4.7 .5 2.3 .5 .1 .5 2.7 .5 6.9 .5-5.7 .5-.1 .5 3.1 .5-4 .5 .6 .5 2.2 .5-1.7 .5 1.9 .5 3.5 .5-7.8 .5 7.5 .5-7.1 .5 5.3 .5 2.9 .5 2.3 .5 3.7 .5-7.6 .5 6.1 .5-7.6 .5 2.4 .5-.7 .5-3.9 .5 14.2 .5 4.4 .5-9.4 .5-3.7 .5 2.3 .5-1.6 .5-1.7 .5 2 .5 3.1 .5 3.5 .5 1.9 .5-2.9 .5-.6 .5-1 .5 4.3 .5-4.3 .5-3 .5 9.7 .5-6.1 .5 3.2 .5 6.2 .5-10.2 .5-.4 .5 6.1 .5 .9 .5-9.1 .5 8.3 .5-.9 .5 2.9 .5-7.2 .5 2.5 .5 3.6 .5 .1 .5-6.8 .5 0 .5 5.2 .5-3.5 .5-7.2 .5 19.1 .5-10.7 .5 7.8 .5 4.8 .5-6.2 .5-5.1 .5 6.5 .5-5.4 .5 9.7 .5-2.1 .5-9.8 .5 5.6 .5 9.6 .5-12.9 .5 3.1 .5-6.9 .5 8.7 .5 1.8 .5-2.6 .5-7.2 .5 4.3 .5 8.3 .5-4.7 .5 1.3 .5-.1 .5-2.7 .5-3.9 .5-4.6 .5 11.5 .5 2.4 .5-5.9 .5-2 .5 .8 .5-1.2 .5-2 .5 6.6 .5-2.2 .5-3.4 .5-.6 .5 .8 .5 .5 .5 5.6 .5-7.2 .5-3.4 .5 3.2 .5 5.2 .5 2.4 .5-10.1 .5 3.8 .5-.3 .5-3.5 .5 12.7 .5-13.3 .5 7.5 .5 1.2 .5-10.7 .5 6 .5-.2 .5 2.9 .5 5 .5-15.8 .5 3 .5 8.6 .5-15.3 .5 4.9 .5 7.8 .5-7.5 .5 13.2 .5-7.4 .5-2.2 .5-7.7 .5 4.7 .5 2.4 .5-5.9 .5 6.2 .5-3.6 .5 9.8 .5 6.5 .5-.6 .5-8.1 .5 2.9 .5-1.8 .5-5.5 .5 2.8 .5 2.1 .5-19.1 .5 13.3 .5 2.1 .5 2.3 .5-1.2 .5-7.7 .5 9.5 .5-7.9 .5 9.3 .5 2.9 .5-10.3 .5 5.5 .5-1.9 .5 2.1 .5 .5 .5 3.7 .5-5.9 .5-3 .5-2 .5-.2 .5 1 .5-.2 .5 10.7 .5-10.1 .5 3.9 .5-3.1 .5-6.1 .5 10.5 .5-1.8 .5 3 .5 2.7 .5-10.6 .5 3.6 .5-1.2 .5 9.3 .5 4.6 .5-14.7 .5 9.2 .5-2.2 .5-6.9 .5 7.8 .5-7.3 .5 10.8 .5-7 .5-12.3 .5 19.2 .5-2.3 .5 2 .5-6.6 .5 .8 .5-1.2 .5-.4 .5 1.5 .5 5 .5-11.3 .5 1.1 .5 3.9 .5 3.4 .5 5.6 .5-5.6 .5-5.3 .5 4.1 .5-5.2 .5-4.3 .5 10.5 .5 0 .5 5.6 .5-.5 .5-4.5 .5 3.1 .5-1 .5-7.2 .5 3.2 .5 8.9 .5-6.9 .5 .1 .5 2.8 .5-3.5 .5 2.1 .5-12.2 .5 7 .5 5.1 .5-5.1 .5 18 .5-23.4 .5 15.2 .5-15 .5 3 .5 8 .5-2.2 .5 3 .5-.8 .5-3.3 .5 12.2 .5-4.6 .5-2.9 .5 2.3 .5 1.9 .5-11.8 .5 1.7 .5 2.8 .5-7 .5 3.9 .5 3.8 .5 1.9 .5-4.4 .5 8.4 .5 2.6 .5-9.8 .5 3 .5-7.2 .5 2.6 .5 4.4 .5-.3 .5-1.5 .5 5.6 .5-8.2 .5-5.5 .5 9.1 .5-2.1 .5 4.3 .5-3.7 .5 7.2 .5-5.9 .5 6.3 .5-.6 .5 6.5 .5-11.9 .5 6 .5-5.4 .5-3.2 .5 5.1 .5 1.1 .5 4.3 .5-5 .5 1 .5-5.1 .5-1.3 .5 4.5 .5 13.5 .5-5.4 .5-5 .5 1.4 .5-10.5 .5 2.8 .5 3.9 .5 5.2 .5-10.5 .5 14.2 .5-2 .5-2.4 .5 5.9 .5-3.3 .5-.6 .5-5.8 .5 8.5 .5 3.1 .5-3 .5-10.6 .5 .9 .5 6.1 .5-1.4 .5 9.9 .5-10.5 .5 .7 .5 5.8 .5 0 .5 6 .5-11.5 .5 .3 .5-.3 .5 10.5 .5-6.7 .5-1.7 .5 2.8 .5-4.1 .5 4.1 .5 2 .5-2.3 .5 2.4 .5-1.6 .5 7.8 .5-1.1 .5-7.4 .5-7.9 .5 11.5 .5-4.3 .5 5.4 .5-4.3 .5-1 .5 1.9 .5 1 .5-5.4 .5 5.6 .5 6.3 .5-3.9 .5 0 .5 5.5 .5 1.1 .5-7.2 .5-6.2 .5 7.4 .5 2.3 .5 2.5 .5 2.8 .5-3 .5-7.9 .5 3 .5-5.8 .5 16.9 .5 3.2 .5-10 .5 4.4 .5-7.8 .5 .4 .5 6.5 .5 6.3 .5-4.1 .5-7.1 .5 3.9 .5 3.2 .5-4.4 .5-6.2 .5 14.4 .5-5.2 .5 8.6 .5-11.8 .5 2 .5-1.7 .5-2.7 .5 4.3 .5 9.4 .5-6.9 .5-6.5 .5 1.6 .5 7.2 .5-4.4 .5 9.3 .5-13.4 .5 3.2 .5 9 .5-7.7 .5 0 .5-3.3 .5 6.4 .5-7 .5 9.3 .5-.8 .5 9.8 .5-12.1 .5-1.2 .5 8.5 .5-9.2 .5 4.3 .5-4.4 .5 6.9 .5-2.3 .5 6 .5 1.8 .5-6 .5 14.8 .5-16.9 .5 4.1 .5-3.9 .5 8.1 .5 4.1 .5-7.3 .5-7.3 .5 12.3 .5-7.6 .5-.2 .5 .6 .5-1.6 .5 8.9 .5-3.4 .5 13.5 .5-17.9 .5-2 .5 13.8 .5-2.5 .5-9.4 .5 4 .5 .8 .5-6.4 .5 9.5 .5-8.3 .5 14.8 .5-11.2 .5-8.7 .5 1.8 .5 3.5 .5 2.8 .5 13 .5-14.9 .5 13.3 .5-8 .5-11 .5 11.5 .5-4 .5-.4 .5 15.2 .5-6.6 .5-4.3 .5 3 .5 .9 .5-5.4 .5 5.4 .5-5.8 .5 7.6 .5 .5 .5 1.2 .5 .9 .5-2.1 .5 9 .5-12.2 .5 1.7 .5 3.5 .5-11.5 .5 10.4 .5 5.9 .5 3.2 .5-15.9 .5 6.7 .5-.6 .5 5.6 .5-13.3 .5 14.1 .5-9.8 .5 1.1 .5 5.8 .5 2 .5-9.3 .5 11.4 .5-.5 .5-10.5 .5-1.2 .5 3.6 .5 6.7 .5-4.2 .5-3.6 .5 4.1 .5 1.1 .5-9.1 .5 6.9 .5 3.1 .5 4.6 .5-10.5 .5 5.8 .5-3.9 .5 2.7 .5 5.6 .5-2.9 .5 6.9 .5-.4 .5-9.4 .5-7.4 .5 15 .5-10.1 .5-3.7 .5 20.6 .5-6.9 .5-6.6 .5 .9 .5 2.3 .5-1 .5-5.3 .5 8.2 .5 1.2 .5 2.4 .5-7.3 .5 4.7 .5 9.8 .5-15.9 .5-2.4 .5 4.5 .5 .1 .5 6.3 .5-10.3 .5 7.6 .5 8.9 .5-4.5 .5-2.2 .5-1.1 .5 2.9 .5-13.7 .5 13.1 .5-5.1 .5-3.2 .5 15 .5-4.9 .5 1.4 .5-13.7 .5 6.1 .5-7 .5 6.2 .5-7.1 .5 5.3 .5 12.8 .5-13.7 .5-3.6 .5 21.2 .5-13.9 .5 3.9 .5-7 .5 14.9 .5-6 .5-2 .5-.2 .5-8.7 .5 11.9 .5 5.4 .5 2.5 .5-3.2 .5-5.7 .5 5.8 .5-6.5 .5 .3 .5 5.3 .5 8.6 .5-18.8 .5-1.8 .5 6.7 .5-1.6 .5 18.8 .5-10.1 .5-14.6 .5 18.9 .5-15.7 .5 10.5 .5-8.4 .5 3.8 .5 2.5 .5-3.5 .5 6.6 .5-2.6 .5 3.1 .5 14.7 .5-15.5 .5-1 .5 9.6 .5-11.9 .5-3 .5-1.8 .5 12.2 .5-6.4 .5-.1 .5 .7 .5-2 .5 1.4 .5 1.9 .5 4 .5-7.1 .5 8.6 .5 3.1 .5-4.3 .5-6.7 .5 10.3 .5 3.6 .5-.7 .5-15.8 .5 28.1 .5-7.9 .5-1.3 .5-4.3 .5-8.5 .5 .6 .5 18.1 .5-28.4 .5 6.8 .5 1.9 .5-1.4 .5 3.4 .5 7.9 .5-1.9 .5-11 .5 9.2 .5-2.9 .5 12.1 .5-11 .5 5.3 .5-2.9 .5 10.9 .5-17 .5-7 .5 16.7 .5 2.2 .5-2.6 .5 1.4 .5 .8 .5 1.9 .5-5.1 .5 2.4 .5 7.1 .5-17.8 .5 16.3 .5-6.9 .5-12.6 .5 5.2 .5 9.5 .5 2 .5-16.4 .5 18.8 .5-9.1 .5 5.1 .5-9.9 .5 .4 .5 15.9 .5-10.3 .5 6.9 .5 2.1 .5 4.7 .5-.6 .5 0 .5-18 .5 25.5 .5 1.2 .5-10.5 .5 6.1 .5-15.9 .5 5.3 .5 6.3 .5-16.1 .5 21.8 .5-19.6 .5 22.1 .5-13.4 .5-.7 .5 1.5 .5 1.9 .5-2.3 .5 5.8 .5-3.5 .5-7.1 .5-2.7 .5 26.5 .5-18 .5-.3 .5 10.4 .5-7 .5-.4 .5 10.8 .5-17.5 .5 13.8 .5 15.2 .5-11.8 .5-4.6 .5-8.6 .5 14.2 .5-17 .5 16 .5-9.1 .5 10.6 .5-8.6 .5-9.3 .5 9.8 .5-6.5 .5-3.1 .5 10.2 .5 5.9 .5-6.3 .5-13.1 .5 14.6 .5-.8 .5 15.5 .5-19 .5-2.3 .5 14.5 .5 18.7 .5-27.7 .5-.9 .5 8.1 .5-8.4 .5 22.4 .5-25 .5 9.6 .5 26.6 .5-39.4 .5 10.2 .5 12.1 .5-11.2 .5-7.7 .5 14.7 .5 18 .5-18 .5-9.4 .5 10.9 .5 15.5 .5-13.3 .5-21.5 .5 7.5 .5 4.6 .5 15.5 .5-22.1 .5 .1 .5 13.4 .5 4 .5-19.1 .5 2.8 .5 14.2 .5-6.4 .5 25.9 .5-8.3 .5-27.6 .5 18.3 .5 5.2 .5 23.7 .5-33.8 .5 5.8 .5-7.4 .5-2.4 .5 .7 .5 23.6 .5-18 .5-11.8 .5-17.1 .5 19.2 .5-1.5 .5 5.4 .5 7.1 .5-3.1 .5 15.3 .5-29 .5 26.1 .5-5.1 .5 1.6 .5-6 .5-17.2 .5 22.4 .5 .6 .5-21.1 .5 26 .5-11 .5 40.7 .5-36.3 .5 13.2 .5-15.5 .5 .8 .5-14.5 .5 43.7 .5-15.9 .5-21.1 .5-3.9 .5 2.3 .5 21 .5-28.2 .5 22.5 .5 9.3 .5-25.1 .5 9.1 .5 8.6 .5 1.8 .5-.6 .5-13 .5-6.8 .5 13.4 .5-.5 .5 13.7 .5-17.1 .5 3 .5-6.5 .5 15.5 .5 6.9 .5-26.3 .5 11.3 .5 3.8 .5-9.5 .5 31.6 .5-26.8 .5 6.3 .5-4.4 .5-20.9 .5 27.3 .5-21.5 .5 40.8 .5-4.3 .5-26.3 .5 20.6 .5-15.3 .5 9.9 .5 18.4 .5-22.8 .5-2.3 .5 84 .5-71.8 .5-33.4 .5 17.8 .5 8.9 .5-19.8 .5 11.1 .5-2.6 .5-3.3 .5-1.5 .5 16.9 .5-3 .5-1.4 .5 5.1 .5-4.6 .5 17 .5 9.5 .5-9.7 .5 4.4 .5-8.5 .5 8.9 .5-27.4 .5 23 .5-21.6 .5-1.4 .5-11.7 .5 40 .5-26.6 .5-1.5 .5 12.4 .5-15 .5 19.8 .5-17.2 .5 2.9 .5 4 .5 4.2 .5 17.6 .5-24.6 .5 30.2 .5-15 .5 8.5 .5-1.7 .5-24.7 .5 12.3 .5-12 .5 2.5 .5 4.4 .5 14.2 .5 33.5 .5-47.9 .5 5 .5 9.3 .5 32.7 .5-53.4 .5 14.6 .5-13.6 .5 31.5 .5-22.1 .5 14.4 .5-22.1 .5 7.2 .5 7.9 .5 .5 .5-12.1 .5 4.6 .5 7.6 .5 31.3 .5-57 .5 17.5 .5-8.1 .5 17.5 .5 13.6 .5-9.2 .5 .8 .5-1.2 .5-26.4 .5 27.9 .5 2.5 .5-18 .5-2.8 .5 26.6 .5-14 .5 2.2 .5-6.7 .5-11.6 .5 19.7 .5-5.7 .5 6 .5 3.7 .5-15.1 .5 21.3 .5-11.6 .5-20.7 .5 17.4 .5-.5 .5-17.5 .5 9.8 .5 0 .5 4.8 .5 3.3 .5-5.6 .5-10.1 .5 55 .5-32.6 .5-7.3 .5 12.5 .5-1.4 .5 16.2 .5-43.3 .5 17.4 .5 15.3 .5-28.9 .5 17.3 .5 .6 .5 13.4 .5-24.5 .5 12 .5-14.2 .5 69.2 .5-78.6 .5 5.3 .5 14.1 .5-5.4 .5-7.1 .5 34 .5-2.8 .5 .7 .5-17.8 .5 28.8 .5-22.1 .5-5.3 .5 10 .5 7.2 .5-13.3 .5-14.1 .5 91.2 .5-88.5 .5 13.7 .5-17.1 .5 2 .5 2.3 .5-13.1 .5 38.5 .5-13.3 .5-3 .5 4 .5 1.6 .5-42.2 .5 24.6 .5 19.1 .5 40.7 .5-44.5 .5-3.4 .5-12 .5 7.9 .5 1.6 .5 27.1 .5-36.4" fill="none" stroke="#820000" stroke-width="2.5" stroke-linejoin="miter" stroke-miterlimit="2"/>
<path d="M194.4 1037.7l.5-.1 .5 2.2 .5-5.5 .5 4.7 .5-8.9 .5 12.4 .5-.8 .5 2.2 .5-7.1 .5 7.1 .5-8.8 .5 8.2 .5-6.2 .5-3.8 .5 11.6 .5 11.8 .5-17.6 .5-.2 .5 4 .5 .2 .5-4.4 .5 13.3 .5-7.6 .5-7.7 .5 11.7 .5-2.7 .5 0 .5-5 .5 12.2 .5-4.4 .5-4.7 .5-1.5 .5 11 .5-7.3 .5 3.3 .5-1.5 .5-4.8 .5 13.9 .5-3.6 .5-1.6 .5 8.4 .5-1.1 .5-6.7 .5-4 .5 2.7 .5 3.6 .5-1.8 .5-2.1 .5 .8 .5 7.9 .5 .9 .5-10 .5 11.4 .5-11.8 .5 1.3 .5 5.8 .5-1.7 .5-3.3 .5 5.5 .5 1.2 .5-5.6 .5 1 .5-1.2 .5 9.6 .5-6.2 .5 1.3 .5-3 .5 5.7 .5 3.7 .5-5.9 .5 9.2 .5-3.8 .5-3.1 .5-4.9 .5 13.2 .5-5.2 .5-1.8 .5 7.1 .5-8.8 .5 3 .5-.3 .5-1.4 .5 5.7 .5 .6 .5-10.5 .5 6.9 .5-4.3 .5-2.3 .5 5.8 .5 5.2 .5-12 .5 9.9 .5 1.7 .5-4.1 .5-1.8 .5 2 .5 2.3 .5-4.1 .5 7.7 .5-6.2 .5 5 .5 2.4 .5-6.8 .5 1.5 .5 4.2 .5-.1 .5-1.5 .5-4.3 .5-1.6 .5 8.2 .5-4.6 .5-1.5 .5 9.6 .5-3.8 .5 5.7 .5-7.2 .5-1.2 .5-.3 .5-1.8 .5 3.9 .5 8.2 .5-7.1 .5-6.9 .5 13.2 .5-15.2 .5 9.7 .5 .2 .5 2.5 .5-8.5 .5 20.6 .5-17 .5-3 .5 4.8 .5-1 .5-5.8 .5 14.8 .5-11 .5 8.5 .5-3.1 .5-6.6 .5 11.4 .5-6.2 .5 8.3 .5-6.9 .5-2.4 .5 1.2 .5 3.5 .5-.1 .5-3 .5 2.8 .5 2.2 .5-12.1 .5 6.8 .5 7.3 .5-17 .5 8.4 .5 6.7 .5-2.5 .5 3.4 .5-8.2 .5 .1 .5 13.6 .5-3.8 .5-4.5 .5 4.8 .5-3 .5 0 .5-6.4 .5 .9 .5 1.4 .5 9.1 .5-4.9 .5 3 .5-2.5 .5 .4 .5 2.4 .5-5.9 .5 2.1 .5 5.2 .5-5.9 .5 2.3 .5-1.6 .5-1.2 .5 5.1 .5-6.3 .5 7.4 .5-11.2 .5 5.4 .5-.4 .5 8 .5-4.1 .5 5.8 .5 .2 .5-8.2 .5-4.7 .5 6.1 .5 .2 .5 5.9 .5 7.9 .5-17.9 .5 11.7 .5 .1 .5-5.3 .5 8.2 .5 .3 .5-8.1 .5 7.2 .5-4 .5-5.2 .5 3.6 .5-.1 .5-2.3 .5 10.6 .5-4.5 .5-10.2 .5 3 .5 6 .5 6.3 .5-6.4 .5-2.5 .5 6.2 .5-13 .5 13.7 .5-4.6 .5 2 .5-1.4 .5 .3 .5-10.4 .5 16.9 .5-10.7 .5 2.1 .5 8.3 .5-2.7 .5 3.1 .5-.9 .5-6.4 .5-2.6 .5 7.3 .5-6.5 .5 3.9 .5 8.9 .5-5.3 .5-.2 .5-13.7 .5 12.5 .5 .2 .5-6.1 .5 .1 .5 5.5 .5-2.7 .5 13.8 .5-6.3 .5 .1 .5-3.9 .5 .7 .5-3.5 .5 3.3 .5-1.2 .5 2.1 .5-3.7 .5 4.1 .5 4.6 .5-7 .5 6 .5-10.5 .5 7.1 .5 1.8 .5 .7 .5 5.3 .5-8 .5-10.1 .5 15.4 .5-6.5 .5 3.6 .5 5.8 .5 .4 .5-10.6 .5 2.4 .5 5.7 .5-7.3 .5 10 .5-1.9 .5 .4 .5-6.9 .5 1.7 .5 5.1 .5-6.5 .5 3.7 .5 3.3 .5 8 .5-3.9 .5 .2 .5-7.8 .5 1.9 .5-1.2 .5 8.3 .5-4.2 .5-10.9 .5 9.9 .5-5.4 .5 4.6 .5 3.3 .5 1 .5-3 .5-8.5 .5 9.8 .5 3.1 .5-1.4 .5 8.4 .5-5.2 .5-2.2 .5-4.2 .5-.8 .5-.2 .5 4.8 .5-2.6 .5 4.3 .5 1.5 .5 10.5 .5-13.4 .5 1.2 .5 .8 .5-2.5 .5 3.1 .5-3.1 .5-.7 .5-2.2 .5 5.5 .5 9.8 .5-5.8 .5-8.7 .5 3.6 .5-3.1 .5-1.8 .5 3.2 .5 3.2 .5 .5 .5 4.7 .5-9.9 .5 6.2 .5 4.9 .5-8.9 .5 2.1 .5-4 .5 4.8 .5 5 .5-5.2 .5-4.2 .5 15.3 .5-7.2 .5-2 .5-.9 .5 11.4 .5-9 .5-1.2 .5-.9 .5 2.3 .5 4.9 .5-7.1 .5-.4 .5 3.2 .5-1.2 .5-3.8 .5 11.5 .5-3.7 .5 7.8 .5-10.5 .5-3.2 .5 12.3 .5-10.6 .5 3.2 .5 .4 .5-.6 .5 2.5 .5 6.4 .5-14.4 .5 16.4 .5-4 .5-13.4 .5 16.5 .5-6.1 .5 1.8 .5 1.3 .5-3.5 .5-2.5 .5-.4 .5 7.9 .5-10.5 .5 7.1 .5-.6 .5 2.9 .5-7.6 .5-.2 .5-.7 .5 6.8 .5-7.4 .5 6.9 .5-3.7 .5 2.9 .5 .3 .5-.1 .5 1.7 .5-8.1 .5 .8 .5 12.1 .5-5.9 .5-2.6 .5 4.1 .5-6.7 .5 6.6 .5 2.1 .5-3.8 .5 2.7 .5-5.3 .5-1.5 .5-.3 .5 19.1 .5-19 .5 9.3 .5-4.7 .5-5.4 .5 11.4 .5-14.7 .5 14.9 .5-5.6 .5-7.7 .5 3.1 .5 3.3 .5-5.5 .5 2.8 .5-6.1 .5 7.6 .5 3.2 .5-2.5 .5-3.9 .5 3.1 .5-6.7 .5-1.5 .5 7.7 .5-9.2 .5 .3 .5 1.8 .5 6.9 .5-7.1 .5 4.1 .5-2.2 .5 9.1 .5 .5 .5-3.5 .5-1.5 .5 2 .5-8.9 .5 8.9 .5-6.6 .5 6.6 .5-6.1 .5 2.8 .5 3.2 .5-6.1 .5-4 .5 10.5 .5-2.3 .5-1.6 .5-1.5 .5-1 .5 1 .5 4.6 .5-7.7 .5 4.7 .5 3.2 .5 8 .5-8.8 .5-1.9 .5 1.4 .5 1.8 .5-2.5 .5 3.5 .5-8.8 .5 7.5 .5 8.4 .5-10.5 .5 3.9 .5 8.2 .5-12 .5 5.8 .5-2.9 .5-.7 .5-.2 .5-5.8 .5 6.7 .5 7.2 .5 1.7 .5-12 .5 1.7 .5-2.8 .5 4 .5 3.5 .5-.6 .5-8.2 .5-3.3 .5 12 .5 1.1 .5 1.6 .5 6.8 .5-15.2 .5 7.4 .5-7.5 .5-2.7 .5 4.5 .5 2.1 .5 .6 .5 6.4 .5-8.1 .5 2.7 .5 .3 .5 2.2 .5-5 .5 9.7 .5-6.6 .5 6.8 .5-8.5 .5 .1 .5 .9 .5 11 .5-11 .5 2 .5-1.6 .5 1.2 .5-2.1 .5 6 .5-1.7 .5 5.6 .5-3.4 .5-5.6 .5-.9 .5 7.6 .5-4.9 .5 4 .5-9.6 .5-2.5 .5 5.2 .5 4.5 .5-1.8 .5 3.8 .5-2.7 .5-.9 .5 8.8 .5-6.2 .5 3 .5-4.7 .5 .2 .5 5.3 .5 3.5 .5-7.1 .5-1.3 .5-1.1 .5-2.4 .5 10.1 .5-11.5 .5 1.8 .5 8.5 .5 3.4 .5-2.7 .5-5.1 .5-2 .5 6.6 .5-4.2 .5 2.9 .5 .5 .5 2.8 .5 5.1 .5-16.9 .5 8.6 .5 5.6 .5-1.2 .5-8.6 .5 10.2 .5-6.5 .5 2.2 .5-1.5 .5 2.3 .5-8.4 .5 8.1 .5-5.7 .5 8 .5-1.2 .5 2.4 .5 8.4 .5-15.1 .5 7.2 .5-1.5 .5 2.7 .5-7.2 .5 3.6 .5-1.2 .5 1.3 .5 5.7 .5-.8 .5 .8 .5-3.5 .5 9 .5-4.3 .5 1.9 .5 2.5 .5-4.7 .5-5.7 .5 3.6 .5 2.3 .5-5.8 .5 2.9 .5 2.8 .5-10.1 .5 15.8 .5-9.1 .5 1.7 .5-2.3 .5 2.2 .5-1 .5-5.4 .5 12.8 .5-4.4 .5 6.6 .5-7.7 .5-1.2 .5 2.1 .5-1.6 .5 .4 .5-2.8 .5 6.2 .5-3.7 .5 2.4 .5-.2 .5 3 .5 6.2 .5-20 .5 12.1 .5-1.3 .5 15.9 .5-18.5 .5 5.1 .5 4.4 .5 3.5 .5-8.1 .5 .9 .5-6.8 .5 6 .5-.6 .5 21 .5-20.1 .5 6.3 .5 12.8 .5-18.3 .5 2 .5 8.2 .5 1.2 .5-2.6 .5-9.6 .5 3.8 .5-1.4 .5 4.2 .5-2.1 .5-4.7 .5 11.7 .5 0 .5-.3 .5-3.2 .5-.5 .5 8.6 .5-7.7 .5 1.2 .5-4.1 .5 4.1 .5 2.2 .5 6.1 .5-8.7 .5-9.8 .5 13.9 .5-9.5 .5 9.4 .5-7.8 .5 6.4 .5-8 .5 7.6 .5-6.9 .5 6.3 .5-4.3 .5 7.7 .5-4.8 .5 2.4 .5-1.7 .5 5.9 .5-6.7 .5 6.7 .5-4.1 .5 1.7 .5-6.1 .5 .1 .5 2.8 .5 .2 .5 5.4 .5-14.8 .5 13.2 .5 5.5 .5-2.4 .5-4 .5 6.7 .5-8.6 .5-3.9 .5 6 .5-4.7 .5 2.9 .5-4.2 .5 4.9 .5 9.8 .5 4.4 .5-15.5 .5 1.4 .5 6.9 .5-12.1 .5 7.6 .5 8.2 .5-16.7 .5 9.1 .5 6.5 .5-8.8 .5 3 .5-6.5 .5 1.9 .5 19.1 .5-19.2 .5 10.3 .5-11.3 .5 12.7 .5-5.1 .5 10.6 .5-16.8 .5 11.9 .5-7.8 .5-3.4 .5 .2 .5-2.6 .5 5.9 .5 13.9 .5-11.5 .5 4.4 .5 2.2 .5-1.6 .5 .1 .5-4.9 .5 0 .5 3.5 .5 1.5 .5-13.3 .5 11.6 .5 1.4 .5-4.1 .5-.2 .5 4.4 .5-1.4 .5-4.8 .5 3.2 .5 .9 .5 .1 .5 .4 .5-5.3 .5 15.5 .5-1.5 .5 3 .5-10.2 .5 .9 .5-1.5 .5-8.8 .5 12.6 .5-.8 .5 .1 .5-5.7 .5 1.2 .5 19.5 .5-11.7 .5-3 .5-2.6 .5 8.5 .5-8 .5 10.2 .5-8.1 .5 6.7 .5-5.9 .5 0 .5-7.7 .5 2.8 .5 5.6 .5-4.4 .5-2.4 .5 9.3 .5-5.4 .5 4.6 .5 8.9 .5-7 .5-5.1 .5 1.3 .5 2.9 .5-.2 .5-9.8 .5-1 .5 13.4 .5-10.7 .5 1.7 .5 3.1 .5 5.5 .5-7 .5 7.4 .5-1.8 .5 4.7 .5-4 .5-2.1 .5 3.2 .5 8.8 .5-17.6 .5-.6 .5-1.9 .5 6.2 .5-3.2 .5 1 .5 2.5 .5-.9 .5 3.6 .5 8.4 .5-10.7 .5 4.9 .5-5.6 .5 11.2 .5-11.6 .5 10.4 .5-8.8 .5-.3 .5 6.8 .5 1.9 .5-6.4 .5 4.3 .5-5.5 .5 7.2 .5-6.7 .5 11.2 .5-20.7 .5 26.7 .5-10.2 .5-9.7 .5 4.8 .5 7 .5 3.2 .5-11.2 .5 2.8 .5 .2 .5-5.1 .5 10.8 .5-13.7 .5 12.8 .5-11.3 .5 3 .5-5.6 .5 1.8 .5 10.3 .5-2.7 .5-6.7 .5 7.6 .5 10.6 .5-14.8 .5 4.1 .5-5.2 .5-2.4 .5 8.3 .5-6.3 .5 6.6 .5 4.8 .5 11.4 .5-1.6 .5-17.3 .5-.6 .5-2.9 .5 15.6 .5-20.6 .5 7.4 .5-6.3 .5 2.8 .5 12.3 .5 6.5 .5-13.3 .5 1.6 .5 5.2 .5-1.2 .5-11.6 .5 10.4 .5-13.9 .5 8.9 .5-1.8 .5-7.7 .5 7.7 .5 5.6 .5 20.1 .5-6.7 .5-15 .5 4.2 .5-3 .5-8.1 .5 16.3 .5-16 .5 9.5 .5-.9 .5 3.2 .5-1.2 .5 11.4 .5-23.9 .5 22.3 .5 3.8 .5-6.3 .5-6.3 .5-.5 .5 4.8 .5 9.8 .5-24.9 .5 15.1 .5 13.7 .5-9 .5-.8 .5-6.1 .5-.7 .5-2.3 .5 3.9 .5-4.5 .5 3.8 .5 7.4 .5-13.8 .5 3.7 .5 5.7 .5-3.5 .5 10 .5 2.2 .5-12.6 .5-3.9 .5 18.6 .5-11.2 .5 5.4 .5-3.2 .5-.8 .5-6.6 .5 10.1 .5 7.7 .5-20.9 .5 12 .5-11.7 .5 33.9 .5-6.9 .5-12.4 .5-2 .5-3.1 .5 3.3 .5-2 .5 15 .5-16 .5 13.4 .5-4.4 .5 14.5 .5-9.7 .5-18.8 .5 7.5 .5-1 .5-13 .5 18.7 .5-4 .5 1.8 .5-6.1 .5 4.9 .5 3.1 .5 11.4 .5-14.8 .5 4 .5-9 .5 8.9 .5 4.6 .5-1 .5-6.6 .5 1.9 .5 2.1 .5-9.8 .5 .5 .5 2.5 .5 12.7 .5-3.9 .5-.3 .5 1.4 .5-.2 .5 3.1 .5 3 .5-10.3 .5 8.9 .5-9.6 .5 1.9 .5-2.8 .5 6.9 .5 16.5 .5-28.4 .5 19.4 .5 3.1 .5-9.6 .5 16.1 .5-5.9 .5-12.2 .5-.2 .5-3.3 .5 1.2 .5 5.6 .5 13.8 .5-1.7 .5-5.2 .5-6.2 .5 5.6 .5 14.7 .5-29.2 .5 8.4 .5 5.1 .5 2.2 .5-7.9 .5 17.4 .5-9.6 .5-1.9 .5-4.5 .5 15.1 .5 .7 .5-16.6 .5 27.8 .5-16.2 .5-3.8 .5-5.5 .5 1.6 .5 .9 .5-6 .5 18.4 .5 5 .5-21.1 .5 4.7 .5 12.2 .5 2.7 .5 28.3 .5-31.2 .5-15.4 .5-2.3 .5 4.7 .5-3.3 .5-2.7 .5-1.5 .5 28.3 .5-17.8 .5 18.9 .5-29 .5 33.3 .5-16.9 .5-9.2 .5-4.8 .5 13.6 .5 7.4 .5-23.4 .5 6.8 .5-3.1 .5 3.2 .5-11.7 .5 22.2 .5-3 .5-1.9 .5 16 .5-10.1 .5-2.5 .5 14.8 .5-41.4 .5 36.2 .5-17 .5 14.3 .5 3.5 .5-10.8 .5 1.6 .5-9.4 .5 4.8 .5-.9 .5 5 .5-9.7 .5 3.6 .5-.5 .5 6.4 .5 8.5 .5-19.2 .5 17.6 .5-19.9 .5 4.2 .5 5 .5 13.6 .5-14.1 .5-10.2 .5 5.1 .5 6.1 .5 27.3 .5-27.8 .5 9.3 .5-1.5 .5-8.4 .5 12.4 .5-4.9 .5 4.1 .5 7.9 .5-19.4 .5-7.5 .5 8.1 .5 6 .5-5.2 .5 25.1 .5-21.5 .5 20.3 .5-9.2 .5-5.2 .5-14.7 .5 7 .5-2 .5 6.6 .5-4.7 .5 12.6 .5 3.9 .5 13.1 .5-20 .5-10.6 .5 1.6 .5 6.8 .5 17.7 .5-25.7 .5 14.2 .5 32.2 .5-29.7 .5-17.7 .5 19.8 .5-10.4 .5-3.1 .5-3 .5 8.8 .5 1.5 .5-14.9 .5 31 .5 2.3 .5-36.7 .5 16.8 .5-18.2 .5 34.6 .5-22.7 .5 24 .5-2.5 .5-7.6 .5 13 .5-31.6 .5 13 .5 2.4 .5-25 .5 22.9 .5 7.6 .5 34.5 .5-55.4 .5 13.1 .5 28.6 .5-22.7 .5 13.7 .5-14.5 .5 19.5 .5 11.5 .5-31.9 .5-2.5 .5 22.5 .5-37 .5 7.7 .5 22.8 .5 15.8 .5-30 .5 4.8 .5-10.6 .5 43.1 .5-36.6 .5-4.1 .5 4.8 .5 23.3 .5-12.4 .5-9.7 .5-10.8 .5 7.4 .5 6.7 .5 39.2 .5-57.6 .5 40 .5-33 .5-1.3 .5-3.1 .5 11.8 .5 23.1 .5-2 .5 6.7 .5 12.9 .5-41.2 .5 3.6 .5 31.7 .5-2.7 .5-27.2 .5-5.8 .5 2.3 .5 1.2 .5 19.4 .5 .9 .5-4.4 .5-32 .5 14.9 .5 16.7 .5-1.6 .5 28.6 .5-20.8 .5-4.8 .5-28.6 .5 31.7 .5 23.4 .5-45.7 .5 27.3 .5-34.9 .5 26.4 .5-13 .5 2.3 .5-4.4 .5-9.1 .5 30.9 .5-19.7 .5 12.8 .5-17.1 .5 14.9 .5-16.2 .5 6.3 .5 26.4 .5-9.1 .5-9.2 .5 21.7 .5-23.1 .5 7.4 .5-12.9 .5 1.1 .5 5.6 .5-10.7 .5 1 .5 1.9 .5 31.6 .5-5.3 .5-31 .5 31.1 .5-24.9 .5-1.6 .5 13 .5-2.7 .5 7 .5-5.1 .5 25.2 .5-26.8 .5-18.8 .5 54.1 .5-39.5 .5-2.9 .5-1.8 .5 20.9 .5-15 .5 2.9 .5 13.8 .5-7.1 .5-22.3 .5 50.1 .5-20.5 .5-5.7 .5-23.3 .5 75 .5-63.5 .5-2.7 .5 11.4 .5-15.4 .5 2.7 .5 12.1 .5-8.7 .5 12.5 .5-9.1 .5-12.3 .5 14.1 .5 30.8 .5-23.5 .5 36 .5-8.1 .5-34.8 .5-16.4 .5 1.7 .5 11.6 .5-14.6 .5 9.2 .5 3.7 .5 25.8 .5-2.8 .5-25.9 .5-9 .5 39.7 .5-11 .5 4.3 .5 23.6 .5-66.1 .5 19.6 .5 71.3" fill="none" stroke="#b00000" stroke-width="2.5" stroke-linejoin="miter" stroke-miterlimit="2"/>
<path d="M194.4 1458.5l.5-312.3 .5-5.5 .5-1.6 .5-1.3 .5-3.4 .5-6.9 .5-.2 .5-7.5 .5 1.3 .5 .5 .5-2.7 .5-5.7 .5-1.5 .5 8.3 .5-5.2 .5-8.5 .5 6 .5 15.3 .5-14.7 .5-5.2 .5-5.2 .5 2.7 .5 12 .5-7.7 .5-2.2 .5-2.1 .5 7.3 .5 2.5 .5-9.8 .5-6.5 .5 12.7 .5-3.9 .5 2 .5-1.6 .5 7.7 .5-2.8 .5 2.8 .5-7.8 .5-7 .5 7.6 .5 1.9 .5 1.4 .5 2.2 .5-14.6 .5 7.8 .5 2.7 .5-4.7 .5 16 .5-7.6 .5-2.9 .5-5 .5 3.9 .5-.4 .5 1.7 .5 7.7 .5-2.5 .5 1.5 .5-1 .5 3.5 .5-6.4 .5 5.7 .5-3.1 .5-1.2 .5-8.1 .5 9.5 .5 11.4 .5-18.3 .5 3.3 .5 4.7 .5 6.4 .5-2.5 .5-7 .5-6.3 .5 5.3 .5-2.3 .5 6.6 .5 5.2 .5 3.2 .5-11 .5 15.2 .5-10.7 .5-8.8 .5 2.7 .5 14.4 .5-12.3 .5 10.7 .5 6.1 .5-7.5 .5 .1 .5-13 .5 12 .5 6.1 .5 4.2 .5-3.7 .5-4.6 .5 4.1 .5 .7 .5 1.1 .5-9.5 .5 10.4 .5-9.4 .5 10.7 .5-3.6 .5-10.5 .5 5.2 .5-1.5 .5 2.9 .5 4.6 .5-5.6 .5 10.4 .5-14.8 .5 1 .5 5 .5-.2 .5 .2 .5-2.3 .5 4.4 .5-1.3 .5 2.4 .5-4.7 .5 5 .5-2.8 .5 11 .5-15.2 .5-1.9 .5 3.5 .5 5.9 .5-5.4 .5-1.9 .5 2.8 .5 1.8 .5-.2 .5-3.6 .5-1 .5 9.7 .5-.3 .5-.1 .5-3.3 .5 3.9 .5 1.5 .5-1.3 .5-2.6 .5 8.3 .5-1.8 .5-9.8 .5 2.3 .5-.6 .5 8.1 .5 .5 .5-17.9 .5 14.1 .5-1.2 .5-5.2 .5 7.1 .5 4 .5-6.8 .5-.4 .5 1.3 .5 .6 .5 9.9 .5-2 .5-3.7 .5-1.2 .5 3.8 .5-6.6 .5 .6 .5 3.2 .5-1.7 .5 1.7 .5 3.4 .5 3.5 .5-6.3 .5 6.3 .5-7.1 .5 .5 .5 .6 .5-7.3 .5 10.4 .5 14 .5-7.4 .5-2.5 .5-10.4 .5 7.9 .5-3.7 .5 7.5 .5 .1 .5-1.1 .5-7.1 .5-1.9 .5 10.9 .5-4.4 .5 3.8 .5-6.7 .5 3.4 .5 8.3 .5-12.2 .5 7.8 .5 .6 .5 .4 .5-5 .5 5.8 .5-.2 .5 10.1 .5-17 .5 6.8 .5-5.8 .5-1.4 .5 12.8 .5-8.8 .5 2.3 .5 3.6 .5-4.7 .5 6 .5 4.5 .5-10.9 .5-3.5 .5 7.8 .5-1.8 .5-8.3 .5 14.1 .5-1.5 .5-8.8 .5 .1 .5 .2 .5 5.9 .5 3.2 .5 19.5 .5-23.7 .5-.1 .5 4.5 .5-.3 .5 3.9 .5-8.5 .5-.6 .5 16.8 .5-13.6 .5-1.7 .5 8.4 .5-15.4 .5 8.5 .5-1.5 .5 4.1 .5 .7 .5-4.3 .5 1.4 .5 4.2 .5-2.1 .5 2.1 .5-.7 .5-7.2 .5 2.6 .5-4.4 .5 5.2 .5-.4 .5 4.3 .5-.6 .5-8.8 .5 5.2 .5-.1 .5 3.5 .5-7.2 .5-4.7 .5 .5 .5 7.6 .5-5 .5 6.8 .5 3.5 .5-3.7 .5 .2 .5 8.7 .5-11.5 .5 .4 .5 8 .5 .8 .5 4 .5-7 .5 .3 .5-1.5 .5 3.9 .5 1.5 .5-6.8 .5 4.3 .5-2.8 .5 3.4 .5-6.8 .5 5.3 .5 5.1 .5-10.4 .5 3.9 .5-.6 .5-1.9 .5 12.6 .5-3.1 .5-13.5 .5 10.4 .5 4 .5 2 .5-2.5 .5 3.3 .5-4 .5-.2 .5 5.5 .5-2.3 .5 2 .5 2.9 .5-5.5 .5-2.8 .5-9.4 .5 7.7 .5 1.4 .5 4.9 .5-9.5 .5 5.8 .5 1.7 .5 8.3 .5-7 .5-6.8 .5 7.7 .5-8.3 .5 8 .5-8.4 .5 3.5 .5 5.1 .5-1.6 .5-6.1 .5 14.2 .5 3 .5-8.9 .5-1.8 .5 5.5 .5-.4 .5-1.2 .5-.6 .5-5.3 .5 3.7 .5-.2 .5 5.7 .5-8.6 .5 10.3 .5-1.4 .5-10.5 .5 8.4 .5 1.3 .5-7.8 .5 13.9 .5-7 .5-2.1 .5 6 .5 .7 .5-7.6 .5 8 .5-9.4 .5 8.5 .5-1 .5-10.9 .5 2.2 .5 7.9 .5-3.2 .5-5.1 .5 13.1 .5-.3 .5-.4 .5-4.9 .5 6.2 .5-2.7 .5-3.2 .5-1.7 .5-3.5 .5 6 .5-6.5 .5 4 .5 .5 .5 .3 .5-9.2 .5 15.4 .5-3.6 .5 3.7 .5-.4 .5 3.7 .5-.6 .5 5 .5-14.5 .5 6.7 .5-4.2 .5 10 .5-11.9 .5 .5 .5 5.2 .5 1.2 .5 2.2 .5-4.9 .5-3.9 .5 6 .5-.5 .5-2 .5 2.8 .5-11.6 .5 5 .5 .3 .5 2.3 .5 6.8 .5 .1 .5-.1 .5-5 .5 2.4 .5-1.5 .5 3.7 .5-5.9 .5 6.2 .5-3 .5-2.2 .5-1.1 .5 4.7 .5-3.1 .5 2.7 .5 5.1 .5 1.4 .5-11.2 .5 4.2 .5 1.2 .5-1.3 .5 3.3 .5-7.3 .5 6.4 .5-7.3 .5 16.7 .5-10.1 .5-3.7 .5 1.4 .5 4.3 .5 6.4 .5-5 .5-8.7 .5 14.6 .5-20.2 .5 10.6 .5-.1 .5-1.1 .5 1.2 .5-1.2 .5 .1 .5 9.2 .5 .5 .5-14.4 .5 13.9 .5-6.1 .5 4.1 .5-6.9 .5-4.5 .5 3.8 .5 9.2 .5-5.9 .5 2.8 .5 2.2 .5-8 .5 3.2 .5-2.7 .5-3.1 .5 4.9 .5 3.8 .5 9 .5-10.3 .5-1.5 .5 5.5 .5-8.9 .5 8.1 .5 4.1 .5 6 .5-13.7 .5 3 .5 .6 .5-.8 .5 5.6 .5-13.7 .5 9.9 .5 5.1 .5 2.4 .5-4.2 .5-.7 .5-11.6 .5 5 .5 5.2 .5 .1 .5-3.1 .5-1.4 .5-5.1 .5 12.5 .5 1.4 .5-10.4 .5 13.7 .5-5.3 .5-2.5 .5 3.2 .5 3.5 .5-10.8 .5 5.4 .5 2.2 .5-3.1 .5-.2 .5-3 .5 4.7 .5-5.4 .5 10.8 .5-6.7 .5 .1 .5 2.6 .5 9.2 .5-6.1 .5-1.6 .5-.5 .5-7.8 .5 8.5 .5-2.8 .5-.8 .5 1.2 .5-8.6 .5 10 .5 5.4 .5-1.3 .5-5.4 .5-3 .5 7.3 .5-2.1 .5 .3 .5-2.3 .5 4.2 .5 3.9 .5-10.8 .5 9.7 .5-6.4 .5-3 .5 7 .5 8.5 .5-17.1 .5 3.3 .5 4.8 .5-7.3 .5 9.5 .5-.7 .5 .2 .5-6.6 .5 5.7 .5-7.4 .5 4.2 .5 4.8 .5-6.5 .5-8.6 .5 14.2 .5 12 .5-11.7 .5-10.2 .5 14.3 .5 .6 .5-6.7 .5 12.6 .5-6 .5 4.7 .5-5.4 .5-4.5 .5-1.1 .5-.5 .5-.5 .5-6.1 .5 7.5 .5 3.3 .5 .5 .5 7.1 .5-7.8 .5 6.6 .5-4.2 .5-5 .5 2.7 .5 7.8 .5-7 .5 4.2 .5-5.9 .5-.5 .5 2.1 .5 7.1 .5-14.1 .5 7 .5 1.8 .5-.3 .5 4.3 .5-4.2 .5 8.5 .5-11.2 .5-.6 .5 14 .5-5.4 .5 4.2 .5 1.7 .5-6.9 .5-1.1 .5-.8 .5 1.2 .5-4.1 .5 4 .5-8.3 .5 .7 .5 2.5 .5 9.4 .5-1.5 .5-2.5 .5 1.7 .5 1.6 .5-6 .5-.1 .5-2.3 .5-2.3 .5 8.7 .5-2.5 .5-6.6 .5 13.6 .5-8.3 .5-.4 .5 10.8 .5-2.3 .5-4.4 .5-.4 .5 4.2 .5 7.7 .5-11.6 .5-3.4 .5 5.8 .5 2.7 .5-6.3 .5 5.9 .5-4.2 .5-.4 .5-.8 .5-.9 .5-5.3 .5 8 .5 5.1 .5 1 .5-12.8 .5 .8 .5 8.1 .5 2.6 .5-9.8 .5 10.3 .5-4.4 .5 10.2 .5-5.4 .5-2.4 .5 4.8 .5-10.3 .5 7.2 .5 1.3 .5 3.7 .5 1.2 .5-16.2 .5 7.8 .5-2.3 .5 4.2 .5 .8 .5-.2 .5-6.9 .5 3.6 .5 6.1 .5 13.5 .5 2.7 .5-15.8 .5-6.4 .5 3 .5-2.5 .5-.6 .5-.9 .5-5.6 .5 11.4 .5 1.3 .5 2.8 .5-7.9 .5 1 .5 10.1 .5-13.2 .5 11 .5-15.6 .5 5.9 .5 8.4 .5-8.5 .5 10.5 .5-8.7 .5 .4 .5-3.3 .5 14.1 .5-7 .5 .6 .5 1.3 .5-9.1 .5 2.2 .5 7.9 .5 1.6 .5-4.6 .5 11.4 .5-5.5 .5-1.7 .5 2.3 .5 1.7 .5-.1 .5-9.3 .5 9.6 .5-4 .5 2.1 .5-8.9 .5 12.8 .5-9.8 .5-7.2 .5 16.5 .5-9.3 .5 4.1 .5-2.8 .5-5 .5 11.7 .5-4.2 .5-8.1 .5 13.4 .5-1.2 .5 17.2 .5-29.3 .5 22.5 .5-14.3 .5 11.6 .5-9.8 .5 4.4 .5 4.7 .5-9.3 .5-2.5 .5 1.4 .5 7.7 .5 2.6 .5-16.3 .5 9.4 .5 2.2 .5-3.4 .5-4.7 .5 2.5 .5 2.2 .5-10 .5 13.6 .5 1.4 .5-5.6 .5-3.7 .5 15 .5-7.8 .5-3.9 .5-.4 .5 3.7 .5 8.4 .5-3.1 .5-7.9 .5 12 .5-2.1 .5-2.5 .5 7.3 .5-17.2 .5 2.2 .5 4 .5 3 .5 2.9 .5-6.2 .5-6.2 .5 4.9 .5 3.6 .5-.5 .5 5.3 .5-8.9 .5 12.5 .5-15.5 .5 10.8 .5-1.8 .5-9 .5 17.4 .5-8.3 .5-3.9 .5 12.3 .5-21.6 .5 8.1 .5 5.4 .5-6.4 .5 19.3 .5-8.5 .5-2.3 .5-14.3 .5 16.2 .5-5.6 .5-10.5 .5 11.6 .5 6.8 .5-5.1 .5-.1 .5 13.9 .5-17.4 .5 .8 .5 5.7 .5 3.2 .5-7.2 .5 1.1 .5-8.7 .5 8.8 .5-11.8 .5 3 .5 5.7 .5-1.7 .5 9.8 .5-3.7 .5-2.1 .5-7.2 .5-1.7 .5 10.9 .5-6.5 .5 6.9 .5-1.3 .5 5.4 .5-10.8 .5 1.7 .5 1.3 .5 17.2 .5-4.2 .5-9.9 .5-1.6 .5 2.5 .5 3.3 .5-14 .5 6.1 .5 11.1 .5-2.9 .5-2.5 .5 7.5 .5-9.6 .5 4.7 .5 1.2 .5 .7 .5-15.2 .5 8.1 .5 20.5 .5-19.6 .5-2.9 .5 12.7 .5-6.3 .5 7.6 .5-3.8 .5 3.6 .5-16.9 .5 17.4 .5 4 .5-14.2 .5 15.6 .5-7.1 .5 18.1 .5-17.1 .5 14.3 .5-35 .5 14.9 .5 9.9 .5-10.7 .5 8.2 .5-13.2 .5 7.8 .5 7.3 .5 8.3 .5-7.2 .5-8.6 .5 18.5 .5-6 .5-6.6 .5 10 .5-3.4 .5-12.1 .5-1.9 .5-.7 .5 6.1 .5 21 .5-18.1 .5 5.1 .5 4.6 .5 4.4 .5-23.2 .5 16.3 .5-7.8 .5 6.7 .5-6.3 .5 5.8 .5 11.4 .5-7.3 .5 1 .5-6.3 .5 11.6 .5-2.2 .5-13.2 .5 4 .5 15.2 .5-16 .5 .7 .5 5.2 .5 4.5 .5-15.4 .5 1.4 .5 2.1 .5 5.6 .5 21.5 .5-13.6 .5-16.6 .5 5.8 .5 13.6 .5-17.6 .5 5.9 .5-4.2 .5 6.4 .5-11.8 .5 13.2 .5-3.9 .5-1.4 .5-1.4 .5-4.4 .5 6.8 .5 13.1 .5-16.6 .5-1.4 .5 7.7 .5-12.3 .5 35 .5-10.7 .5-7 .5-12 .5 17.5 .5-14.8 .5-1.2 .5 16.1 .5-11.6 .5-3.7 .5 11.3 .5 3.8 .5-14.1 .5 1.1 .5-2.4 .5 9.9 .5 2.7 .5 9.6 .5-.6 .5-21.4 .5 11.7 .5-3.3 .5 23.6 .5-24.1 .5 14.5 .5-2.9 .5-3.8 .5-6.5 .5-2.7 .5 5.2 .5-12.1 .5-3.4 .5 22.6 .5-4.3 .5 2.5 .5-5 .5 8.1 .5-5.1 .5-6.1 .5-1.4 .5-4.3 .5 7.3 .5 14.4 .5-3.8 .5-3 .5 6.4 .5-6.7 .5-13.5 .5 8.7 .5 9.8 .5-13.6 .5 8.7 .5-16.5 .5 14.8 .5 12 .5-9.9 .5 1.2 .5-9.3 .5-2.3 .5 19.1 .5 4.5 .5-24.4 .5 38.8 .5-29.3 .5 7.2 .5-15.4 .5 5.3 .5 15.7 .5-16.1 .5 37.6 .5-21.2 .5-23.7 .5 27.5 .5-4.4 .5-11.1 .5 16.4 .5-21.4 .5 24.5 .5-6.4 .5-2 .5-25.8 .5 35.5 .5-18.9 .5 16 .5-5.2 .5-2 .5-1.6 .5 5.3 .5-15.4 .5 16.1 .5-8.2 .5-8.8 .5 31.1 .5-12.7 .5-16.5 .5 5.4 .5 4.9 .5 25.2 .5-15.7 .5-11 .5 28.6 .5-29.8 .5 1.2 .5 .8 .5 36.7 .5-25.8 .5 22.4 .5-35.9 .5 11.1 .5-18.9 .5 10.4 .5 9.8 .5-12.5 .5 5.9 .5-8.8 .5-4.4 .5 24 .5 4.6 .5-18.4 .5 11.7 .5 16.4 .5-29.2 .5-5.6 .5 2.8 .5 25.4 .5 15 .5-17 .5-9.9 .5 .2 .5-.9 .5-2.4 .5-11.3 .5 11.2 .5 39.5 .5-59.5 .5 25.6 .5-4.2 .5-2.9 .5 9.9 .5-13.3 .5 5.5 .5-.2 .5 .3 .5 6.5 .5 28.3 .5-23.3 .5-11 .5 2.5 .5 3 .5-18.8 .5 3.7 .5 37.8 .5-33.5 .5 21.1 .5-16.6 .5 8.1 .5-11.7 .5 6.8 .5 4.4 .5-13.2 .5-1.7 .5 32.7 .5-34.3 .5 27.2 .5 8.5 .5-15.5 .5 8 .5 7.4 .5-10.7 .5-8.1 .5 10.8 .5-5.4 .5 10.9 .5-26 .5 8.4 .5 2.4 .5 .6 .5 13 .5 6.3 .5-27.8 .5 13.9 .5 2.2 .5 55.8 .5-52.8 .5-1.8 .5 30.1 .5-26.7 .5-23.4 .5 9.7 .5 15.7 .5 7.9 .5-13.1 .5 2.2 .5 4.7 .5-7 .5-18.5 .5 6 .5 28.1 .5-.6 .5-25.4 .5 7.2 .5 7 .5 21.1 .5-44.6 .5 23.7 .5-15.4 .5 17.4 .5 12.5 .5-17 .5 6.2 .5-22.3 .5 19.5 .5-7.5 .5-10.5 .5 33.9 .5-19.1 .5 20.1 .5 4.6 .5-22.9 .5-1.8 .5-9.6 .5-3.3 .5 33.2 .5-33.3 .5 7 .5 21.2 .5-3.3 .5-22.1 .5 80.7 .5-67.2 .5-3.2 .5 26.5 .5 1.1 .5-25.3 .5-16.1 .5 8.3 .5-6.1 .5 19.1 .5-6.9 .5-25 .5 18.9 .5 11.8 .5-17.4 .5 13.1 .5-11.8 .5 28.7 .5-.3 .5-32.1 .5 28.1 .5-.4 .5-2 .5-2.7 .5-18.3 .5 10.3 .5-.3 .5 16.5 .5 7.5 .5-10.4 .5-8.2 .5 .3 .5-4.5 .5-4.1 .5 11.4 .5 34.8 .5-24.3 .5 6.8 .5-40.5 .5 1.9 .5 16.2 .5-20 .5 34.3 .5 14.5 .5-47.2 .5 4.8 .5 24.8 .5-17 .5 66.3 .5-26.3 .5-17.7 .5-20.1 .5 36.4 .5-22.3 .5 28.9 .5-31.7 .5-4.6 .5 43.2 .5-58.7 .5 18.3 .5-15.9 .5-.7 .5-7.2 .5 8.2 .5-1.6 .5 2.5 .5-7.4 .5 13.7 .5 71.7 .5-55.4 .5 8.1 .5 9.8 .5-35.6 .5 10.4 .5 20.6 .5-40.1 .5 23.6 .5 6 .5 56.1 .5-84.7 .5 4.5 .5-4.3 .5 31.7 .5 12.7 .5-30.1 .5 45.4 .5-17.5 .5-8 .5-.2 .5-1.2 .5-8.2 .5-17.8 .5 33.4 .5 12.5 .5-46.4 .5 24.4 .5-19.7 .5 31.5 .5-41.4 .5 10.4 .5 25.1 .5-28 .5 .5 .5 18.5 .5-15.9 .5 39.4 .5-6.5 .5-18.5 .5-26.4 .5 37.3 .5-21.9 .5 28.7 .5-33.7 .5 35.8 .5 12.1 .5-31.3 .5 5.1 .5 3.8 .5-32.6 .5 50 .5-46.3 .5 18.4 .5 54.8 .5-51.9 .5 41.1 .5-50.7 .5 28.2 .5-39.2 .5 1.1 .5 18 .5-8.1 .5 20.7 .5 8.2 .5-37.7 .5 12 .5 18.2 .5-12.2 .5 15.5 .5-10.8 .5-13 .5 21.8 .5-15.9 .5 2.4 .5 18.1 .5 63.6 .5-86.4 .5-10 .5 49.5 .5-24.4 .5 9.9 .5 0 .5-18.1 .5 87.3 .5-75.8 .5-20.3 .5 92.2 .5-24.3 .5-30" fill="none" stroke="#dd3c3c" stroke-width="2.5" stroke-linejoin="miter" stroke-miterlimit="2"/>
<path d="M194.4 1458.5l.5-229.2 .5-11.3 .5 3.2 .5-3.8 .5 9.7 .5-5.7 .5-6.1 .5-7.5 .5 3.6 .5-1.7 .5-3.1 .5-1 .5-2.3 .5 1.7 .5-.1 .5 1.8 .5-1.3 .5-2.8 .5 3 .5-11 .5 4.2 .5 7.5 .5-15.5 .5 8 .5 9.9 .5-3.1 .5-8.5 .5 4.7 .5-8.2 .5 7.8 .5-7.5 .5 8.1 .5-11.3 .5 3.3 .5 3 .5-.4 .5-1.4 .5-1.6 .5 12 .5-8.6 .5-1.1 .5-1.8 .5 1.4 .5 10.8 .5-9.5 .5 8.5 .5-5.9 .5 4 .5-8.6 .5 5.8 .5 .9 .5 8.4 .5-6.4 .5-5.4 .5 .5 .5 9.8 .5-7.3 .5 8.3 .5 2.1 .5-8.1 .5-6.4 .5 9.3 .5 7.7 .5-15.8 .5 8 .5 2.1 .5-5.1 .5 5.3 .5 8.9 .5-6.5 .5-3.6 .5-4.6 .5 7.5 .5-.3 .5 3 .5 3.7 .5-5.1 .5-2.5 .5 6.8 .5-8.4 .5 10.1 .5-9.3 .5 13.3 .5 3.7 .5-8.7 .5-9.4 .5 7.2 .5-6.8 .5 7.4 .5 1.9 .5 1.9 .5-5.1 .5 .2 .5-6 .5 11.9 .5-10.5 .5 10 .5-2.6 .5 2.7 .5 5.7 .5-11.2 .5 10.5 .5-4.8 .5 2 .5 10.1 .5-15.6 .5 8.1 .5-3.6 .5-3.2 .5 4.7 .5-.4 .5-.1 .5-4.9 .5 6.1 .5 2.4 .5-3.3 .5-.9 .5 4.3 .5-10.3 .5 12.2 .5 7.7 .5-5.1 .5-3.6 .5 1.7 .5-8 .5 15 .5-6.7 .5-2.4 .5 12.4 .5-12.2 .5 2.3 .5 2.3 .5 4.1 .5-4.3 .5-8.1 .5 10.6 .5-11.6 .5 12.5 .5 8.4 .5-10.5 .5-4.2 .5 8 .5-12 .5 8.3 .5 5.5 .5-8.2 .5 7.2 .5-1.3 .5-1.9 .5 5.4 .5-7.7 .5 5.2 .5 4 .5 1.1 .5-8.2 .5 6.3 .5-2.4 .5-7.7 .5 1.5 .5 9.7 .5 1.9 .5-2.3 .5-5.7 .5 9.4 .5 4.3 .5-7.9 .5 14.5 .5-19.7 .5 1.8 .5 2.6 .5 11.4 .5-18.6 .5 9.7 .5-2.3 .5 10.6 .5-16 .5-.6 .5 9.3 .5-4.4 .5-3.2 .5 1.4 .5 3.1 .5 1.7 .5 7.4 .5-8.3 .5 6.3 .5-2.7 .5 2.2 .5-3.6 .5 .8 .5 1.5 .5-3.8 .5-4.1 .5 .6 .5 9.8 .5-2.5 .5-1.9 .5 2.3 .5-12.7 .5 9.9 .5-3.6 .5-4.7 .5 16.3 .5-3.5 .5-1.8 .5-4.2 .5 2.4 .5-.3 .5-5.7 .5 5.7 .5-2.3 .5 9.4 .5-9.9 .5-.2 .5 1.9 .5 9.2 .5-11.2 .5 8.2 .5-7.1 .5-7.4 .5 12.8 .5 .7 .5-10.1 .5 22.7 .5-7.4 .5 2.6 .5-1.6 .5-6.4 .5-3.9 .5 6.2 .5-1.6 .5 7.2 .5-4.3 .5-6.6 .5 7.2 .5-4.2 .5-4.1 .5 10.9 .5-15.1 .5 11.8 .5-1.9 .5 2.2 .5-2 .5 8.6 .5-5.4 .5 .1 .5-8.8 .5 1.3 .5 10.9 .5-13.5 .5 5.6 .5 6 .5-2.5 .5-1.6 .5 5.5 .5-4.5 .5 2.7 .5 1.8 .5 2.1 .5-6.9 .5 9.1 .5-3.3 .5 3.3 .5-8.2 .5 5 .5-9 .5-1.5 .5 10.4 .5-9.7 .5 2.8 .5 7.6 .5 5.4 .5-15.8 .5 11.7 .5-1.2 .5-6.1 .5-7.8 .5 9.4 .5 11.9 .5-7.1 .5-7.2 .5-4.4 .5 15.3 .5-9.3 .5 6.5 .5-2.6 .5-3.4 .5 2.3 .5 4.5 .5-3 .5 .5 .5-10.7 .5 6.8 .5 5.6 .5 3.4 .5-15.2 .5 15 .5-2.8 .5-.9 .5-1.3 .5 5 .5 9.9 .5-8.2 .5-5 .5-1.3 .5-.3 .5-2.3 .5 11.2 .5-13.3 .5 12.6 .5-3.7 .5 3.1 .5 1 .5 .9 .5-5.4 .5 .2 .5-1.9 .5-5.3 .5-1.5 .5 7.9 .5-1 .5 2.5 .5-3 .5-5.7 .5 17.4 .5-5.4 .5-2.9 .5 4.5 .5 4.4 .5-17.8 .5 7.9 .5 9.5 .5-6 .5-5.1 .5-2.2 .5 7.1 .5 5.9 .5-5.1 .5-8.9 .5 8.6 .5-3.6 .5 8.5 .5-7.8 .5 4.6 .5-11.7 .5 5.2 .5 6.3 .5-3.3 .5-13.7 .5 9.1 .5 1.9 .5 4.7 .5-8.2 .5 11.6 .5 4.3 .5-11.7 .5 9 .5-6.8 .5 2.1 .5-9 .5 2.6 .5-.3 .5 13.1 .5-15.9 .5 17.5 .5-1.3 .5-4.8 .5 4.5 .5-10.2 .5 14.6 .5-14.1 .5 8.1 .5-7.5 .5 10.3 .5-7.7 .5-1 .5 6.1 .5-7 .5 7.8 .5 4.7 .5-6.8 .5 11.1 .5-16.5 .5 5.1 .5 6.6 .5-7.5 .5 4.1 .5-5.4 .5-1.2 .5-.9 .5 12.3 .5-17.6 .5 7 .5 9.1 .5-13.1 .5 17.2 .5-14.4 .5 14.1 .5-5.3 .5-8.6 .5 14.9 .5-9.7 .5 7.4 .5-12.7 .5 15.6 .5-8.9 .5-4.8 .5 8.2 .5 3.8 .5 4.1 .5 7.5 .5-14.4 .5 16.1 .5-11.8 .5-2.9 .5-4.6 .5 8.5 .5-6.9 .5 10 .5 1.9 .5-10.9 .5 11.4 .5-3 .5-12.1 .5 13.7 .5-4.6 .5-10.3 .5 7 .5 15 .5-16.3 .5-1.1 .5 2.4 .5 4.6 .5-12.7 .5 2.6 .5 7.5 .5-1.2 .5-.4 .5 15.9 .5-13.7 .5 3.1 .5-12.1 .5 16.3 .5-12.4 .5 23.6 .5-24.6 .5 4 .5 8.8 .5-2.6 .5-10.5 .5 8.4 .5-4.1 .5 1.3 .5 5.4 .5-8.5 .5-8.6 .5 12 .5-4.5 .5 6.8 .5-8.1 .5-1.3 .5-5.2 .5 18.7 .5 1.4 .5-10.2 .5 1.4 .5 14 .5-12.7 .5-2.2 .5 2.6 .5-2.7 .5-1.6 .5 5.2 .5-5.8 .5 7.2 .5 .1 .5 5.4 .5-10.9 .5-8.3 .5 5.9 .5-2 .5 17.1 .5-18.2 .5 6.4 .5-6.3 .5 13.4 .5 2.3 .5-4.1 .5-4 .5 1.6 .5 5.9 .5-3.4 .5 2.2 .5-8 .5 15.7 .5-11.3 .5-1.6 .5-1 .5 1.5 .5 5.8 .5-8.3 .5 5.5 .5-8 .5 2.4 .5-.1 .5 6 .5-1.2 .5-1.8 .5-.1 .5 11.1 .5-2.6 .5-.5 .5 2.3 .5 2.6 .5-15.1 .5 6.1 .5 3 .5-1.1 .5-6.5 .5 1.3 .5-8.2 .5 6.4 .5 5.6 .5 6.1 .5-3.1 .5-8.3 .5 11.5 .5-7.6 .5 2.5 .5 16.7 .5-12.2 .5-2 .5-8 .5 3.7 .5-5.1 .5 8.9 .5 11.3 .5-13.1 .5 17.1 .5-20.4 .5 5.3 .5-5 .5 9.6 .5 3.1 .5-4.4 .5 5.7 .5-11.6 .5 4.9 .5-7.1 .5 3.5 .5 3.4 .5-7.5 .5-4.7 .5 19 .5-1.9 .5-11.1 .5-2.3 .5 3.2 .5 22.7 .5-9.3 .5 .4 .5-2.8 .5-6.9 .5 13.4 .5-7.5 .5-15.5 .5 15.7 .5-4.9 .5 11.1 .5-1.2 .5-5.9 .5-4.1 .5 2.5 .5 6.4 .5-2 .5 0 .5-7.1 .5-11.9 .5 11.4 .5 5.4 .5-1.6 .5 4.7 .5 .9 .5 2.3 .5-13.3 .5 7.7 .5 5.2 .5 .6 .5-1.2 .5-5.9 .5 4 .5 .5 .5-2.1 .5 4.5 .5-6.5 .5-.1 .5 12.2 .5-9.8 .5-1.3 .5 1.6 .5 5.3 .5 5.1 .5-5.8 .5-2 .5 .9 .5-.5 .5 21.6 .5-27.4 .5 6.5 .5-8 .5-.3 .5 11.2 .5-13.5 .5-8.5 .5 21 .5 4.8 .5-5.5 .5 3.4 .5 2.3 .5-8.2 .5 2.4 .5 1.7 .5-1.4 .5-2.3 .5 .4 .5 .2 .5 .1 .5 4.2 .5-10.2 .5 11 .5-3.1 .5-7.9 .5 16 .5-16.4 .5 6.4 .5 8.9 .5-3.2 .5-8.8 .5 1 .5 28.5 .5-23.8 .5 1.2 .5 5.1 .5-8.3 .5 7.7 .5 2.2 .5-13.6 .5 17.6 .5-6.1 .5-5.7 .5 6.6 .5-13.6 .5 16.9 .5-11.2 .5-7.8 .5 18.2 .5-.4 .5-5.7 .5 3.5 .5 .7 .5-24.1 .5 21.2 .5-8.3 .5 17 .5-6.5 .5-10.5 .5 5.4 .5-7.3 .5 9 .5 5.9 .5 3 .5-12.1 .5 15.6 .5-2.1 .5 3.1 .5-12.9 .5 11.4 .5-7.1 .5 .1 .5-4.1 .5 8.4 .5-9 .5-1.6 .5 4.7 .5 8.3 .5-.3 .5-7.4 .5-.3 .5 1.7 .5-4.1 .5-6.1 .5 15.9 .5-9.4 .5 4.4 .5-5.4 .5-4 .5 13 .5-.7 .5 10.2 .5-24.2 .5-.9 .5 23.2 .5-15.4 .5 8.9 .5-.8 .5 1.4 .5-.2 .5-7.8 .5 10.2 .5-8.1 .5 19.6 .5-23.2 .5-3.7 .5 11.5 .5-1.1 .5 2.4 .5-5 .5-1 .5 13.1 .5-7.9 .5-1.1 .5 2 .5-9.8 .5 10.2 .5 2.8 .5-3.5 .5 17.2 .5-22.9 .5-2.3 .5 4.7 .5 23.4 .5-11.9 .5-10.5 .5 14.1 .5-.5 .5-15.5 .5 .7 .5 2.1 .5-7.9 .5 2.7 .5 11.3 .5 .6 .5 7.7 .5-14.3 .5-9.2 .5 3.1 .5 18.6 .5-1 .5-12.5 .5 9.3 .5 2 .5-3.6 .5-.5 .5 10.6 .5-19.8 .5 18.4 .5-3.5 .5 1.1 .5 8.9 .5-15.5 .5 2.2 .5-7.9 .5 6.1 .5 4.3 .5 19.3 .5-21.2 .5-17.5 .5 21.5 .5-.6 .5-12.6 .5 26.7 .5-18.3 .5 4.6 .5 18.4 .5-12.1 .5-9.5 .5 5 .5 6.1 .5 3.4 .5-21.4 .5 16.7 .5-.5 .5-18.9 .5 22.2 .5-7.9 .5-10.8 .5 8.7 .5 12.3 .5-.3 .5-9.6 .5-7.3 .5 19 .5-5.8 .5-4.4 .5-1.7 .5 5.7 .5-8.7 .5-.5 .5-8.2 .5 21 .5-7.5 .5-9.4 .5 34.6 .5-29.2 .5 7.7 .5 7.4 .5-22.5 .5 10.8 .5 12.3 .5 8.7 .5-14.8 .5-8.9 .5-7.1 .5-3.5 .5 19.8 .5-.9 .5-3.7 .5 6.5 .5 7.3 .5-9.4 .5 16.5 .5-8 .5-15.2 .5-2.2 .5 14.1 .5-11.4 .5 14.4 .5-10.9 .5 0 .5-2.1 .5-4.9 .5-8 .5 11.3 .5 34.5 .5-24.8 .5-.8 .5 3.3 .5 1.3 .5 18.2 .5-16.8 .5-11.8 .5-1 .5 9.3 .5 3.2 .5 4.1 .5-9.2 .5-10.2 .5 22.4 .5-7.4 .5-2.5 .5 14 .5-27.7 .5 19.7 .5-3 .5-11.4 .5 8.6 .5-3.9 .5-2.5 .5 2.9 .5 4.5 .5 3.3 .5 7 .5-.2 .5-1.2 .5-22.4 .5 30.3 .5-27.7 .5 36.5 .5-24.9 .5 25.6 .5-29.6 .5 15.9 .5 4.4 .5-8.2 .5 10.1 .5 22.1 .5-40.9 .5 16.8 .5-12.9 .5 9.7 .5-25.6 .5 12 .5 2.8 .5 21.1 .5-12 .5-.8 .5 31.8 .5-35.3 .5-8.5 .5-7.6 .5 24.7 .5-19.2 .5 7.9 .5-8.9 .5-7.9 .5 37.2 .5-15.7 .5 5.9 .5 2.3 .5-10.9 .5-2.7 .5-10 .5 10.3 .5 12.9 .5 .2 .5-16.3 .5 21.1 .5 18.1 .5-39 .5 20.3 .5-20.2 .5 6.6 .5 11.7 .5 5.1 .5-14.5 .5-14.2 .5 46.3 .5-19.3 .5-19 .5 16.9 .5 42.4 .5-53 .5-5.8 .5 53.1 .5-24.6 .5-20.9 .5-11.5 .5 54.7 .5-25.4 .5 1.6 .5-27.6 .5-14.8 .5 21.3 .5 9.3 .5-2.9 .5-12.4 .5 1.1 .5 1.7 .5-5.6 .5-1 .5 12.8 .5 2.7 .5 11.9 .5-13.9 .5 21.1 .5-25.4 .5-4.3 .5 36.7 .5-44.9 .5 26.8 .5-1 .5-16.5 .5-3.5 .5 11.1 .5 20.2 .5-17.3 .5 29.3 .5-13.9 .5-4.4 .5-3.7 .5 .1 .5-6.4 .5 6.1 .5 9.9 .5-19.5 .5-.8 .5 2 .5-12.9 .5 12.4 .5 3.5 .5-15 .5-2.5 .5 10.5 .5 40.3 .5-23.8 .5-11.3 .5-2.7 .5-13 .5 34.4 .5-14.6 .5-17.1 .5 56.4 .5-34.3 .5-12.4 .5 32.8 .5-34.7 .5 12.3 .5-7.3 .5 18.8 .5 5.9 .5 9.6 .5-33.9 .5 22.9 .5-15.5 .5 4.4 .5-17.6 .5 24.6 .5-15.9 .5 41.9 .5-27.3 .5-7.9 .5-11.7 .5 18 .5 10.2 .5-12 .5-8.5 .5-2.6 .5 18.3 .5-20.6 .5 8.3 .5-4.9 .5 10.7 .5-7.9 .5 25 .5-9.1 .5 .5 .5 72.5 .5-66.5 .5-9.1 .5 4.3 .5-9.2 .5-.9 .5 15.9 .5 45.4 .5-70.6 .5 6.8 .5 4.1 .5 .1 .5-4.9 .5 27.3 .5-39 .5 39.7 .5-35.8 .5-7.8 .5 40.1 .5-38.3 .5 26.6 .5 16.1 .5-17.2 .5 10.8 .5-.3 .5-33.2 .5 31.6 .5-36.1 .5 42 .5 27.1 .5-7.6 .5-33.1 .5 21.5 .5 17.3 .5-48.3 .5 25.3 .5 .4 .5-34.6 .5 3.6 .5 12.2 .5 4 .5-21.1 .5 12.3 .5 32.8 .5-52.4 .5 19 .5-1.6 .5 19.1 .5-19.9 .5 15.7 .5 66.4 .5-22 .5-62.8 .5 14.6 .5-5.4 .5 6.5 .5 1.3 .5 34.3 .5-40.4 .5 16.3 .5-15.2 .5 32.7 .5-25.3 .5 9.4 .5 19.2 .5-21.8 .5-28.1 .5-3.4 .5 29 .5-17.6 .5 18.9 .5 26.6 .5-33.1 .5 11.8 .5-29.1 .5 43.7 .5-42.2 .5 43.8 .5-43.8 .5 57.1 .5-38.2 .5-15.5 .5 16.4 .5 18.7 .5-19.1 .5 5 .5-6.1 .5 5.5 .5-17.7 .5 7 .5-15.5 .5 19.6 .5-11.1 .5-14.9 .5-1.9 .5 82.1 .5-23.1 .5-11.3 .5 6.9 .5-36.4 .5-14.1 .5 88.7 .5-12.3 .5 12.3 .5-31 .5-40.7 .5-8.9 .5 21.5 .5 59.1 .5-51.7 .5-7.8 .5-16.1 .5 29 .5 1.6 .5 10.4 .5 11.6 .5 9.8 .5-61.6 .5 47.1 .5-30.5 .5 24.4 .5-14.7 .5-21.1 .5 22.7 .5-19.5 .5 66.4 .5-60.6 .5-14.8 .5 53.3 .5-37.5 .5-12.6 .5 64 .5 8.2 .5-41.2 .5-22.5 .5 34.3 .5-25.6 .5-9.4 .5-3 .5 14.3 .5 20 .5-1.5 .5 17.9 .5-56.3 .5 15.3 .5 6.1 .5-10.9 .5-19.6 .5 23.6 .5-13.7 .5 72.2 .5-27.4 .5-45.3 .5-5.3 .5 8.6 .5 25.7 .5-20.1 .5 61.7 .5-72.1 .5 74.2 .5-30.9 .5 5.1 .5-27.9 .5 26.3 .5-37.8 .5 28.1 .5 8 .5 21.8 .5-36.8 .5-35.1 .5 50.9 .5 24.4 .5 3.9 .5-67 .5-11.3 .5 32.3 .5 4.5 .5 14.9 .5-54.9 .5 81.5 .5-75.4 .5 22.8 .5 24.9 .5-29.6 .5-9.2 .5 13.3 .5 7.8 .5 5.9 .5 27.9 .5-26.8 .5-31.2 .5 8.4 .5-28.1 .5 78.4 .5-28.8 .5 1.6 .5 38.1 .5-63 .5 36.7 .5-39.4 .5 6.3 .5 24.9 .5-8.4 .5-3.1 .5-12.3 .5 48.7 .5 9.6 .5-39.4 .5-22.9 .5 22.1 .5-28.9 .5-1.7 .5 4.5 .5 18.9 .5-6.3 .5 26.6 .5-29 .5 20.1 .5 20.6 .5-44.3 .5-17.3 .5 20.7 .5 47.9 .5-42.2 .5-18.8 .5 46.5 .5-19.9 .5-1.5 .5 19.8 .5 1.9 .5-10.2 .5-9.8 .5-4.4 .5 27.3 .5 2 .5-13.2 .5-8 .5 33 .5-55.7 .5 61.6 .5 0 .5-72.5 .5 23 .5 41.9 .5-5.5 .5 13.1 .5-21.2 .5 21.2 .5-66.4 .5 65.1 .5-13.1 .5-29.1 .5-10 .5 9.1 .5-6.5 .5 21.3 .5 24.8 .5-24.1 .5-30.1 .5-2.8 .5 5.7 .5-.1 .5 56.2 .5-40.8 .5-19.7 .5 23.8 .5-1.2 .5-32.8 .5 1.2 .5 57 .5 1 .5 11.5 .5-37.7 .5 37.7 .5-49.9 .5-.1 .5 13.7 .5-33.1 .5 69.4 .5-35.3 .5 18.5 .5-41.5 .5 11.7 .5 3.8 .5 42.8 .5 0 .5-5 .5-80.4 .5 25.9 .5 59.5 .5-66.2 .5-.1" fill="none" stroke="#e07878" stroke-width="2.5" stroke-linejoin="miter" stroke-miterlimit="2"/>
</g>
<clipPath id="cd"><rect x="1078.6" y="833.3" width="656.9" height="624.7"/></clipPath>
<g clip-path="url(#cd)">
<path d="M1079.9 907.2l.5-2.3 .5-.8 .5 5.5 .5-2.7 .5 3.7 .5-5.3 .5-1.9 .5 2.9 .5 1.4 .5-3.2 .5 2.4 .5 1.8 .5-.2 .5 2.3 .5-1.6 .5 .3 .5 4.3 .5-4.7 .5 5.3 .5-4.5 .5-.2 .5-3.2 .5 6.1 .5-3.4 .5 1.5 .5 0 .5 .7 .5-.4 .5 0 .5 3 .5 2.5 .5-.1 .5-2.6 .5 2.4 .5 .2 .5 .5 .5 .1 .5-3.3 .5 3 .5 2.8 .5-3.1 .5 .5 .5-2.4 .5-.5 .5 3.7 .5 1.8 .5-1.3 .5-1.3 .5-2.4 .5 3 .5 2.6 .5-5.7 .5 3.3 .5 1.5 .5-3.2 .5 5.4 .5-4.3 .5 4.3 .5-4.3 .5-1 .5 6 .5-.2 .5 5.2 .5-4.2 .5-4.7 .5 3.2 .5-6.3 .5 5 .5 2.9 .5-2.2 .5 .4 .5 .3 .5-.7 .5 1.4 .5-2.5 .5 1.5 .5-.3 .5 3 .5 6.3 .5-10.8 .5-.2 .5 1.4 .5 5.3 .5 .1 .5-11.5 .5 6.8 .5-2.3 .5 .6 .5 6.6 .5-9.4 .5 3.1 .5-2.4 .5 4.7 .5-3.6 .5-1 .5 2 .5 .5 .5 1 .5-3.7 .5 3.2 .5-4 .5-.9 .5 1.8 .5 1.8 .5 3.4 .5-2.2 .5-2.2 .5 4.1 .5-5.8 .5 1.7 .5 .8 .5 3 .5-4.2 .5 8.4 .5-.7 .5-4.7 .5-.4 .5 2.1 .5 .7 .5-2.2 .5-1.3 .5-1.2 .5-.5 .5 2.1 .5-.6 .5-3.3 .5 2.8 .5-.6 .5 1.8 .5 .3 .5-4.4 .5 2.6 .5 3.7 .5-6.7 .5-1.8 .5 4.9 .5-3.4 .5 2.6 .5 1.9 .5 2.3 .5-9.7 .5 2.9 .5 2.3 .5-2.4 .5 1.1 .5 2.4 .5-6.1 .5 1.7 .5 4.8 .5 3.1 .5-3.5 .5-1.3 .5-3 .5-.5 .5 3.1 .5-1.7 .5 6.1 .5-11.3 .5 3.8 .5-1.2 .5 4.5 .5 .3 .5-.6 .5-1.5 .5 2.2 .5-1.7 .5-4.1 .5 1.3 .5 3.6 .5-5.9 .5 3.2 .5 .2 .5 .7 .5-3.7 .5 4.7 .5-4.1 .5-.3 .5 0 .5 1.3 .5 1.7 .5-3 .5-.2 .5 1.6 .5-1 .5-3 .5 3.2 .5 1.4 .5 1.3 .5-3.7 .5 2.6 .5 4.4 .5-3.5 .5-6.9 .5-.3 .5 3.6 .5 2.6 .5-5.6 .5 4.9 .5-1.6 .5-6 .5 5.5 .5 2.4 .5-2.7 .5-3.6 .5 4.1 .5 2.3 .5-.6 .5 1.1 .5 .5 .5 4.3 .5-4.5 .5 .4 .5 2.8 .5-6.9 .5 2.5 .5 6.5 .5-3.1 .5 4.8 .5-1.4 .5 1.2 .5-2.9 .5-2.1 .5 8.3 .5-2 .5 2.1 .5-4.3 .5 .2 .5 2.7 .5 .9 .5 2.2 .5-2.6 .5 .1 .5 2.1 .5-.5 .5 1.6 .5 3.4 .5 .4 .5 .1 .5-2.6 .5 3.2 .5-2.1 .5 .6 .5 3.1 .5 4.7 .5-3.9 .5-2.6 .5-.7 .5 4.6 .5 3.4 .5-3.8 .5 0 .5 6.1 .5 2.4 .5-2.6 .5-3.3 .5 2.8 .5 2.5 .5 3.2 .5-2.3 .5-.7 .5 2.9 .5-10.5 .5 10.2 .5-2.1 .5 .3 .5 .4 .5 3.8 .5 3.8 .5-6.9 .5-.3 .5 .5 .5 .7 .5 5.9 .5-1.4 .5-1.6 .5-1.5 .5 3 .5-1.7 .5-2.4 .5 5.1 .5 0 .5-1.2 .5 3.2 .5-1.1 .5 4.5 .5-4.5 .5 4.6 .5-13.1 .5 8.2 .5 3.5 .5-3.5 .5-6.8 .5 7.6 .5 3.7 .5 1.5 .5 1.6 .5-2.1 .5-.8 .5-5.3 .5 1.3 .5 9.1 .5-7.1 .5-4.3 .5 4.6 .5 2.1 .5 7.5 .5-7.6 .5-5.2 .5 7.2 .5-3.8 .5 2.6 .5 3.1 .5-1.8 .5 5.4 .5-2.3 .5 1.7 .5-9.7 .5 4 .5 2.8 .5-1.9 .5-1.3 .5-2.2 .5 7.4 .5-7.6 .5 1.8 .5 1.5 .5 1.4 .5-4.2 .5 4.9 .5 .1 .5-.1 .5-.2 .5-4.2 .5 3.2 .5-.3 .5-.8 .5 3.9 .5-3.9 .5 2.6 .5 7.2 .5-7.6 .5 2.7 .5-6.5 .5 3.7 .5 .2 .5-1.5 .5 9.5 .5 3 .5-11.2 .5-.8 .5 3.8 .5 4.1 .5-6 .5 2.6 .5-6.5 .5 3.8 .5 4.2 .5-.7 .5-1.4 .5-1.7 .5 2.8 .5-1.6 .5-.7 .5 2.9 .5-8.8 .5 5.7 .5-.5 .5 3.4 .5-.5 .5-1.5 .5 3 .5-7 .5 4.4 .5 5.7 .5-9.3 .5 4.4 .5-2 .5 3.7 .5-.2 .5-1.9 .5 3 .5-2.2 .5 .5 .5-3.1 .5-.9 .5 1.5 .5 3.6 .5-.4 .5-2.2 .5-4.5 .5 3.2 .5-3.9 .5 5.1 .5-2.4 .5 1.1 .5 2.8 .5 1.9 .5-1.9 .5-1.9 .5-2.8 .5 2.5 .5 .3 .5-.4 .5-6.1 .5 6.1 .5-1 .5 4.7 .5-6.9 .5 3.2 .5-5.3 .5 .9 .5 .5 .5-.4 .5 3.6 .5-6.2 .5 5.7 .5-1.8 .5 8 .5-9.4 .5-.4 .5 2.7 .5-.7 .5-2.8 .5 1.7 .5-.1 .5 6 .5-5.1 .5 1.5 .5 1.5 .5-.7 .5-1 .5-.7 .5-2.9 .5 .4 .5-4.3 .5 2.6 .5 .9 .5-.7 .5 3.7 .5 3.4 .5-6.1 .5-1.5 .5-1.3 .5 9.5 .5-8.7 .5 6.5 .5-5 .5 2 .5-2.5 .5 6.3 .5-9.6 .5 2.4 .5 1.6 .5 1.2 .5-2.4 .5-1.6 .5 3.1 .5 1.6 .5-1.3 .5 2.9 .5-3.5 .5 1.4 .5-7 .5 4.1 .5 2.6 .5-2.3 .5 1 .5-2.7 .5 5.9 .5-5.5 .5 .4 .5 2.7 .5 .8 .5-6.4 .5 2.8 .5 5.1 .5-2.2 .5 1.2 .5-5.2 .5 3 .5-3.2 .5-1.6 .5-1.5 .5 8.1 .5-.3 .5-6.1 .5 3.4 .5 1.3 .5-.6 .5-5.3 .5 1.8 .5 2.1 .5 6.3 .5-.5 .5-2.8 .5-.4 .5 2.4 .5-9.3 .5 1.7 .5-.1 .5 7.9 .5-3.3 .5 3.3 .5-1.5 .5-6.8 .5 8.3 .5 .3 .5-2.6 .5 4 .5-.9 .5-7.7 .5 6.4 .5-.3 .5-5.2 .5-.9 .5 0 .5 3.1 .5 4.2 .5-7.1 .5 3.4 .5-1.2 .5 2.6 .5-2.4 .5 7.4 .5-.4 .5-.7 .5-11.9 .5 7.6 .5-2.5 .5 3.5 .5-7.3 .5 5.9 .5-.2 .5 4.6 .5-.3 .5-2 .5-1 .5 1.9 .5-5.2 .5 9.4 .5-6.2 .5 8 .5-5.8 .5-2 .5 2.8 .5 3.9 .5-9 .5 6.4 .5-7.1 .5 1 .5 6.1 .5 .2 .5 3.1 .5-4.4 .5 2.7 .5-7.1 .5 5.3 .5-7 .5 5.9 .5 1.8 .5-1.6 .5 3.1 .5 2.7 .5-6.9 .5 5.6 .5-1.6 .5 4 .5-5.9 .5 3 .5-1 .5 2.4 .5-.6 .5-3.2 .5 2.2 .5-5.6 .5 4 .5 3.7 .5-2.7 .5-.4 .5 4.9 .5-2.4 .5 4.9 .5-8.4 .5 2.1 .5 .1 .5 .3 .5-1.9 .5 11.8 .5-4.4 .5-5.2 .5 2.8 .5 1 .5 1.3 .5-8.4 .5 9.5 .5-1.9 .5-4.1 .5 1.9 .5 5 .5-.1 .5-2.5 .5-3.3 .5 8.6 .5-9.2 .5 3.6 .5 6.6 .5-3.7 .5 1.9 .5-7.4 .5 3.5 .5 6 .5-7.2 .5 4.9 .5 1.8 .5 .7 .5 .4 .5-3.2 .5 5.1 .5 3.4 .5-9.1 .5 9.7 .5-13.7 .5 9.5 .5-3 .5-4.9 .5 8.6 .5 2.1 .5-12.4 .5 2.9 .5 7.1 .5-4.7 .5 5.4 .5 2.7 .5 3 .5-7.9 .5 4.6 .5-7.6 .5-.6 .5 5.9 .5 1.7 .5-4.2 .5 1.3 .5 6.8 .5 1.1 .5-5.8 .5 7.8 .5-1.3 .5-8 .5 5.1 .5-1.7 .5 3.5 .5-9.1 .5 10.7 .5-2.2 .5-4.5 .5 6.9 .5-3.1 .5-2.4 .5-3.1 .5 3.6 .5 7.9 .5-1 .5-11.2 .5 10.8 .5-1.7 .5-6.3 .5 2.5 .5 2 .5 2.6 .5 .8 .5-5.7 .5 10.5 .5-5.8 .5-1.4 .5-.5 .5 4.4 .5 .8 .5-8.8 .5 6.4 .5-1.7 .5 2.8 .5 4.6 .5 .4 .5-7.5 .5 .4 .5 0 .5 4.1 .5-2.9 .5-1.8 .5 .3 .5 9.8 .5-10.1 .5 10.2 .5 4.5 .5-15.5 .5 11.7 .5-4.9 .5 4.9 .5-2.6 .5 1 .5-3.2 .5 4.1 .5 1.2 .5 .3 .5-1.8 .5-.3 .5 0 .5 3.7 .5-10.4 .5 4.4 .5 2.3 .5 1.2 .5 .6 .5 1.5 .5-1.7 .5 2.6 .5-.4 .5-6.5 .5 2.1 .5-2.5 .5 7.8 .5 1 .5-5.3 .5 4.9 .5-.9 .5-2.9 .5 3 .5 .5 .5 2.9 .5-11.5 .5 2.6 .5 6.8 .5-3.4 .5-4.1 .5 5 .5 1.2 .5-1.6 .5 0 .5 2.8 .5-6 .5 10.8 .5-8.5 .5 1.7 .5-.4 .5-8.3 .5 9.3 .5 2.2 .5 8.9 .5-11 .5 3.2 .5-10.4 .5 5.6 .5-2.9 .5 4.8 .5 2.9 .5-2.3 .5 2.9 .5-.2 .5-2.9 .5 2.5 .5 .2 .5 5.7 .5-11.4 .5-.6 .5 9.9 .5-5.7 .5-1.9 .5 .7 .5 12.5 .5-12.1 .5 5.4 .5 2.9 .5-11.4 .5 7.4 .5-2.2 .5-1.2 .5 5.4 .5-1 .5 3.1 .5 1.3 .5-7.4 .5 2.3 .5 2.2 .5-5.7 .5 22.2 .5-8.8 .5-9.6 .5 1.4 .5 2.7 .5-5.3 .5-.1 .5-.9 .5 12.4 .5-2.3 .5-4.2 .5 3.3 .5-1.2 .5-2 .5-2.3 .5 10.3 .5-3.6 .5 1.9 .5-5.4 .5-2.5 .5 .2 .5-.1 .5-5.2 .5 10.9 .5-1.3 .5 1.1 .5-.7 .5-5.7 .5 .1 .5 5.5 .5-.9 .5-2.3 .5 12.4 .5-11 .5 5.3 .5-6.5 .5 5.2 .5-5.9 .5 4.3 .5 1.9 .5-9.8 .5 9.1 .5-3.4 .5-1.3 .5-1 .5 1.8 .5-4.9 .5 4.9 .5 1 .5 3.3 .5-6.4 .5 8.3 .5-6.4 .5 4.1 .5 7.4 .5-4.1 .5-7.9 .5-5 .5 4.8 .5-4.7 .5 6.4 .5 .7 .5-2 .5-5.1 .5 14.9 .5 1.3 .5-10.5 .5-.2 .5 9.9 .5-13.1 .5 6.6 .5-1 .5 9.1 .5-12.3 .5-2.8 .5 6.5 .5 5.5 .5-6.6 .5-4.6 .5 13 .5-4.8 .5 6.9 .5-2.1 .5-7.4 .5 .1 .5-2 .5 4.8 .5 6.7 .5-5.2 .5-5.2 .5-1.1 .5-3.3 .5 2.1 .5 2.1 .5 .7 .5 10.1 .5-10.6 .5 8.9 .5-10.7 .5 8.8 .5 .6 .5-3.6 .5 3.1 .5-.6 .5 .1 .5-8.6 .5 16.1 .5-11.5 .5 3.6 .5-11.7 .5 10.4 .5-2.9 .5 2.1 .5 8.7 .5 2.8 .5-15.6 .5 13.7 .5-5.6 .5-9.2 .5-.6 .5 9 .5 3.1 .5 6.3 .5-1.5 .5-15.6 .5 6.9 .5 .1 .5 .2 .5-.6 .5-.2 .5-1.4 .5 2.6 .5-2.2 .5 .3 .5 4.1 .5-10.4 .5 8.2 .5 .8 .5 11.6 .5-11.4 .5 3 .5-11.1 .5 7.3 .5 6.9 .5-3.5 .5 1.4 .5-2.2 .5 2.9 .5-3.1 .5 3.9 .5 7.4 .5-7.2 .5-6.1 .5 1.6 .5 7.3 .5-4 .5-.4 .5-6.1 .5 7.3 .5-11.4 .5 8.3 .5 6.1 .5-7.6 .5-.4 .5 .7 .5 6.9 .5 2 .5-6.7 .5-12.4 .5 15.5 .5 4.3 .5-4.6 .5 1.9 .5 4.5 .5-10.2 .5 5.2 .5-8.3 .5 2.1 .5 11.7 .5-3.4 .5-10.5 .5 12.6 .5 4.1 .5-5.4 .5 3.2 .5-8.3 .5-6.7 .5 8.4 .5-6.2 .5 1.2 .5-2.5 .5 19.4 .5-11 .5-3.4 .5-.4 .5-.7 .5 7.8 .5-7.9 .5 20.8 .5-18.1 .5-.5 .5 4.3 .5-12.1 .5 20 .5-12.9 .5-.9 .5 11.7 .5-8.6 .5-7.2 .5 7.6 .5 7.4 .5-14.8 .5 29.4 .5-5.2 .5-13.7 .5 1.7 .5 6.2 .5-18.2 .5 12.8 .5-.5 .5-3.9 .5-2.6 .5 11.1 .5 19.3 .5-23.4 .5 8.9 .5 15.4 .5-10.1 .5 7.3 .5-1.8 .5-6.4 .5 7.1 .5-13.7 .5 2.6 .5 10.3 .5-.7 .5 3.2 .5-13.1 .5 3.6 .5 3.3 .5-3.3 .5-11.7 .5 14 .5-3.3 .5-11.3 .5 22.3 .5-11.5 .5 7.6 .5 3 .5 6.6 .5-15.6 .5 23.8 .5-29.7 .5 14 .5 5.9 .5-9 .5 7 .5 9.8 .5-18.8 .5-11.3 .5 4.1 .5 4.5 .5 2.5 .5 17.2 .5-14 .5-1 .5 22.9 .5-6.5 .5-9.2 .5-1.6 .5 6.7 .5-15.9 .5 16.5 .5 4 .5-26.4 .5 12.3 .5 11.7 .5-17.1 .5 11.9 .5-4.8 .5 14.9 .5-20.4 .5 1.7 .5-.8 .5 17.3 .5-27.6 .5 48 .5-37.1 .5 11.2 .5-13.1 .5 3.6 .5-2.1 .5 10.2 .5-14.2 .5 9.6 .5 5.8 .5-13.3 .5 27.7 .5-16.2 .5 1.9 .5-8.1 .5 1.8 .5-.8 .5 .5 .5-8.9 .5 4.3 .5 11.2 .5-8.5 .5 11.3 .5-6.9 .5 10.2 .5-12 .5 4.6 .5-2.9 .5 3.3 .5-7.4 .5-8.4 .5 14 .5-3.2 .5 4.3 .5-12.3 .5 15.5 .5 8.6 .5-10.4 .5-13.3 .5 21.6 .5-17.1 .5-5.1 .5 6.9 .5 1.1 .5 34.7 .5-23.5 .5-7.3 .5-8.7 .5 17.1 .5-.6 .5-14.2 .5 18.3 .5-9.9 .5 21.6 .5-18.9 .5-.1 .5 13.1 .5 5.7 .5-23.8 .5-1.8 .5 22.7 .5-9 .5-14.2 .5-1 .5 12.2 .5 10.1 .5-8.8 .5-9.5 .5-3.4 .5 58.1 .5-52.4 .5-1.7 .5-3 .5 5.2 .5-2.7 .5-7.8 .5 21.2 .5-.4 .5 18.4 .5-14.7 .5 17.9 .5-32.5 .5-4.4 .5 .9 .5 8.1 .5 28.2 .5-15.8 .5-2.4 .5 20.6 .5-20.8 .5-13.3 .5 63.1 .5-59.2 .5 13.8 .5-23.7 .5 27.5 .5-24.4 .5 39.6 .5-32 .5 6.3 .5 49.4 .5-47 .5-17.6 .5 20.4 .5-10.2 .5-16.9 .5 33.4 .5 15.1 .5-28.3 .5-1.6 .5-3 .5 8.3 .5 1.7 .5 4.6 .5 .1 .5-22.3 .5-.4 .5 15 .5-16.6 .5 18.2 .5-18.1 .5 46.3 .5-43.9 .5 8 .5 12.8 .5 10.9 .5 1.1 .5-30.8 .5-1.9 .5 14.7 .5-.7 .5-3.4 .5 13.7 .5-16.3 .5 10.8 .5-7.3 .5 14.5 .5 14.2 .5-33.6 .5-2.2 .5-8.7 .5 22.9 .5-5.2 .5-7.1 .5-12.1 .5 11.1 .5-7.4 .5 30.2 .5-12.9 .5 5.8 .5 4.3 .5-13.7 .5 13.9 .5-11.6 .5 19 .5-17.1 .5-10.2 .5 14 .5-12.4 .5 8.8 .5-6.5 .5-.9 .5 29.3 .5-4.1 .5-20.4 .5 3.1 .5-10.7 .5 16.2 .5 12.3 .5-32.6 .5 19.3 .5-7.5 .5-8.2 .5 3.8 .5 14 .5 14.3 .5-36.1 .5 18.4 .5-9.4 .5-4.6 .5 17.2 .5-14.3 .5 35.8 .5-27.5 .5 3.8 .5 20.5 .5-25.6 .5-16.9 .5-2.2 .5 17.5 .5 27.9 .5-17.6 .5 29.7 .5-43.7 .5-.4 .5-7.7 .5 21.6 .5-14.3 .5-3.8 .5 3.4 .5-14.6 .5 24.3 .5 8.3 .5 4 .5-23.9 .5-9.3 .5 9.8 .5 3.8 .5 23.5 .5 2.4 .5-28.4 .5-6.6 .5 15.4 .5-7.6 .5 27.2 .5 7.8 .5-18 .5-22.8 .5 1.8 .5 21.1 .5-11.6 .5 3 .5 8.8 .5 .1 .5-7.7 .5 53.7 .5-41.1 .5-5.6 .5-24.3 .5 20.6 .5-16.2 .5 30.5 .5-23.6 .5 12 .5-24.2 .5 33.6 .5-7.7 .5 7.5 .5-31.6" fill="none" stroke="#5a2508" stroke-width="2.5" stroke-linejoin="miter" stroke-miterlimit="2"/>
<path d="M1079.9 1166.7l.5 25.6 .5 50.6 .5-73.6 .5 86.4 .5-80 .5 .6 .5-23.8 .5 36.5 .5 4.3 .5-1.7 .5-21.4 .5-4 .5-3.5 .5 8.6 .5-13.5 .5-9.2 .5 10.1 .5 5.6 .5 2.1 .5-15.3 .5 .2 .5 14.3 .5-9.2 .5-.7 .5 24.6 .5-22.2 .5 .2 .5-9.9 .5 1.8 .5 22.8 .5-35.6 .5 31.6 .5-16.1 .5 33.8 .5-16.5 .5-23 .5 2.2 .5 8.5 .5 13 .5-9.9 .5-15.2 .5-7.5 .5-1.3 .5-7.9 .5 5.4 .5 21.4 .5-17.8 .5 14.4 .5 1.3 .5-14.9 .5-.9 .5-.3 .5-10.2 .5 17.3 .5-2.9 .5-10.3 .5 11.5 .5-5 .5-19.5 .5 22.5 .5-4.1 .5-8.5 .5-4.9 .5-6 .5 22.2 .5-15.9 .5 .6 .5 9.4 .5-6.5 .5-3.2 .5-6.6 .5 8.6 .5-14.9 .5 17 .5-7.8 .5-1.2 .5 .2 .5 .7 .5-3.8 .5 2.7 .5-.3 .5 .8 .5 1 .5 5.9 .5-20.2 .5 6.8 .5-3.8 .5 .7 .5 3.6 .5-6.5 .5 5.8 .5-16.1 .5 8.9 .5-7.1 .5 11.4 .5-5.6 .5 6.2 .5-6 .5-3.5 .5 5.8 .5-6.9 .5-4.8 .5 6.8 .5-.6 .5 2.4 .5-7.2 .5-.6 .5 7.5 .5 1.4 .5-11.9 .5 5 .5-3.8 .5-4.2 .5 1.9 .5 11.6 .5-1.4 .5-10.8 .5-3 .5 6 .5-1.9 .5 2.4 .5-6.3 .5 6.8 .5-7.8 .5-2.1 .5 8.3 .5-2.1 .5-5.1 .5-.5 .5-.9 .5 2.7 .5 .3 .5 .5 .5-1 .5-4.2 .5 20.9 .5-18 .5-7.3 .5 10.8 .5-5.9 .5-6.7 .5 .4 .5 2.4 .5 7.5 .5 4.3 .5-12.4 .5-3.5 .5 13.5 .5-7.2 .5 3.3 .5-5.6 .5-.5 .5-4.4 .5 2.7 .5 4 .5-4.2 .5 5.6 .5-2.5 .5-5.2 .5 2 .5 2.2 .5-1.9 .5 2.5 .5 7.9 .5-3.9 .5-4.3 .5-1 .5 7 .5-7.4 .5-5.4 .5 12.1 .5-9.7 .5-.5 .5 6.5 .5 1.6 .5-3.4 .5-4.8 .5-3.2 .5 9.6 .5 1.4 .5-2.9 .5-1.2 .5 1.3 .5-6.9 .5 9.8 .5-.6 .5-2.9 .5-.7 .5 8.2 .5-2.7 .5-.7 .5 2.6 .5-2.1 .5-1.5 .5-.7 .5-.8 .5 3.8 .5-.9 .5 2.1 .5-6.3 .5-1.8 .5 .1 .5 1.2 .5 3.2 .5 4 .5 3.4 .5-9.3 .5 13.3 .5-8.8 .5 3 .5-2.8 .5 2 .5 5.9 .5-9.1 .5 8.5 .5-3 .5 3.6 .5-8.6 .5 9.9 .5-2.9 .5 2.1 .5-5.2 .5 2.8 .5 3.8 .5-3.4 .5 2.4 .5 2.6 .5-8 .5 7.4 .5-5.2 .5 5.7 .5-2 .5 4 .5 .8 .5-3 .5 3.4 .5-2.8 .5-2.1 .5 1 .5 1.2 .5 1.8 .5-1.7 .5 1.3 .5 3.6 .5-6.6 .5 6.6 .5-7.1 .5 2.9 .5-.7 .5-2.1 .5 5.8 .5 2.5 .5-7.8 .5 5.9 .5-.7 .5-6.9 .5 7.6 .5 1.3 .5-2.2 .5 .1 .5-5.5 .5 7.5 .5-7.6 .5 4.6 .5 1.4 .5-1.1 .5 1.7 .5 7 .5-5.6 .5-8.4 .5 7.1 .5-4.9 .5 2.2 .5 2.3 .5-2.1 .5 2.4 .5 3.7 .5-5.9 .5 4.5 .5-2.7 .5 4.6 .5-.6 .5-6.5 .5 7.9 .5-2.4 .5-6.5 .5-4.7 .5 9 .5 5.1 .5-10.4 .5 9.4 .5-8.8 .5-1.7 .5 11 .5-3.4 .5-4.2 .5 4.2 .5-2.4 .5-6.3 .5 7.7 .5 2.7 .5-10.2 .5 8.5 .5-6.6 .5 9.7 .5-7.2 .5-.1 .5-.2 .5 6 .5-5.7 .5-4 .5 4.2 .5 5.7 .5-4.9 .5-3.8 .5 3.1 .5-.4 .5-1.1 .5-4.9 .5 2.4 .5 6.2 .5 0 .5-7.3 .5 16.3 .5-14.5 .5 2.2 .5 .1 .5-.7 .5 4.2 .5 .8 .5-4.6 .5-4.6 .5 6.1 .5 3.9 .5-7.6 .5 6.8 .5-6.8 .5 4 .5-1.6 .5-.9 .5 2.2 .5 1.4 .5-1.9 .5-1.9 .5 13.5 .5-9.2 .5 3.4 .5-13 .5 10.9 .5-4.6 .5 5.6 .5-4 .5 5.2 .5-10.6 .5 5.1 .5 3 .5-8.1 .5 10 .5-5.5 .5-3.5 .5 1 .5 3.3 .5-7 .5 2 .5-1.8 .5-.8 .5 5 .5-2.8 .5 2.5 .5-3.5 .5-3.8 .5 3.6 .5 1.3 .5 .4 .5 1.3 .5-5 .5 7.3 .5-8.2 .5-4.1 .5 2 .5 1 .5 2.6 .5-.5 .5 2 .5 2 .5 1 .5-3.2 .5-7.1 .5 13 .5-5.2 .5 3.3 .5-2.7 .5 3 .5-9.2 .5 4.7 .5-7.5 .5 5.8 .5 .3 .5 8.6 .5-15.6 .5 12.6 .5-7.9 .5 7.6 .5-1.7 .5-8.7 .5 7.3 .5-3.7 .5-.2 .5 1.4 .5 4.5 .5-4.9 .5 2.1 .5-1.3 .5-.3 .5 .7 .5-3.6 .5 1.9 .5 .1 .5-3.1 .5 1.1 .5-1.9 .5-6.5 .5 6.3 .5 4.5 .5-11.7 .5 6 .5 4.4 .5-1.2 .5-3.3 .5 5.4 .5-4.1 .5-2 .5 7.7 .5-2.9 .5 1.7 .5-2.4 .5 .7 .5-4.1 .5 .1 .5 15.6 .5-11.9 .5-.5 .5-3 .5 3.4 .5 3.9 .5-4.3 .5-1.3 .5 2.7 .5-1.9 .5 2.1 .5-6.8 .5 3.5 .5 1.1 .5-.9 .5 1.8 .5 12.7 .5-7.5 .5-8.4 .5 6.8 .5-3 .5 1.3 .5 2.4 .5-1.3 .5 4.5 .5-11 .5 1 .5 1.1 .5-4.5 .5 14.1 .5-7 .5-4.8 .5 3.8 .5 4.6 .5-7.7 .5 3.3 .5 3.4 .5-4.3 .5 4.1 .5 1.6 .5-5.4 .5-.6 .5 8.1 .5-8.5 .5-1.7 .5 12.7 .5-4.8 .5-2.4 .5-.2 .5 1.1 .5-1.9 .5 3.9 .5-7.8 .5 3.5 .5 3.3 .5-.8 .5-4.6 .5-3.3 .5 12.4 .5-4.5 .5-2.7 .5 4.8 .5-3 .5-3 .5 .3 .5 9.1 .5-8.9 .5 2.8 .5-2.6 .5 1.2 .5 4.1 .5 .9 .5-3.3 .5 4.5 .5 .6 .5-6.1 .5 9.1 .5-4.4 .5-7.5 .5 6.8 .5-3.3 .5-5.1 .5 6.4 .5-3.8 .5 7 .5-3.2 .5-5.3 .5 4.4 .5-.1 .5 2.2 .5-4.3 .5 4 .5-.3 .5 3.8 .5-2.8 .5 .7 .5 4.7 .5-7.8 .5 6 .5 3.4 .5-1.9 .5-.6 .5-.1 .5-1.2 .5-5.8 .5 3.3 .5 6.3 .5 .8 .5-3.1 .5-5.6 .5 3.7 .5-3.8 .5 2.6 .5 8.9 .5-4.4 .5 3.2 .5-10.1 .5 11.7 .5-8 .5-.1 .5 6.7 .5-3.3 .5-3.3 .5-3.5 .5 1.3 .5 11.3 .5-7.4 .5 .9 .5-4.6 .5 4.5 .5 6.7 .5-.8 .5-.9 .5-5.3 .5 6.7 .5 1.7 .5-.9 .5-3.4 .5-1.7 .5-.9 .5 6.9 .5-1.1 .5 4.5 .5-13.6 .5 6.3 .5-4 .5 3.2 .5 1.5 .5 7.4 .5-8 .5 2.3 .5 1.9 .5 .9 .5 .7 .5 .7 .5-5.6 .5-4 .5 5.2 .5 8.9 .5-3.3 .5 5.2 .5-14.6 .5 4.1 .5-1.9 .5 3 .5-3.6 .5 7.7 .5-1.8 .5 6.1 .5 3.6 .5-7.4 .5 3.8 .5-12.1 .5 4 .5 .2 .5 5.6 .5 2.5 .5-.7 .5-2.9 .5 3.3 .5-.5 .5-1.3 .5-4 .5 3.5 .5-3 .5-.5 .5 0 .5 7.9 .5 6.1 .5-3.2 .5-9.6 .5 4.1 .5-3.4 .5-.6 .5 8.4 .5-.3 .5-2.6 .5-6.6 .5 13 .5 .5 .5-6.4 .5 1 .5-2.6 .5 13.9 .5-13.9 .5 .6 .5-5.9 .5 9.9 .5-5 .5 2.9 .5 6.3 .5 3.3 .5-10.8 .5 3.7 .5 1.7 .5-3.7 .5 3.4 .5 2.2 .5-3 .5-1.5 .5-2.2 .5 3.1 .5-.5 .5 3.4 .5-2.3 .5-2 .5-1.2 .5 3.2 .5 2.4 .5-.6 .5-2.3 .5-3.9 .5 8.6 .5 7.5 .5-3.3 .5-10.4 .5 10.4 .5 1.3 .5-4.4 .5 5.1 .5-9.7 .5 9 .5-8.5 .5 4.8 .5-4 .5 2.1 .5-3.1 .5 4.8 .5 0 .5-1 .5 .6 .5 7.3 .5-5.9 .5 2.6 .5 1.6 .5-1.2 .5 .9 .5-8.7 .5 13.4 .5-7.6 .5 3.1 .5-3.1 .5 5 .5-9.2 .5 2.4 .5 0 .5 1.1 .5 4.2 .5 .8 .5-6.2 .5 3.1 .5-.1 .5 1.9 .5-4.2 .5 8.4 .5-6.9 .5-4.8 .5 1.7 .5 4.6 .5 7.1 .5-10.7 .5 2.8 .5-5 .5 8.3 .5 .3 .5-5.4 .5 12 .5-8.8 .5 7.5 .5-4.5 .5-2.7 .5 3 .5 2.3 .5-9.9 .5 4.4 .5 5.3 .5 1.7 .5-6.3 .5 10 .5-14.5 .5 5.6 .5-5.5 .5 13.7 .5-11.7 .5 10.8 .5-8.5 .5-1.6 .5 13.3 .5-16.1 .5 6.9 .5 9.8 .5-7.8 .5-1 .5 .8 .5 .4 .5 1.6 .5-1.8 .5-1.6 .5 2.4 .5 12.1 .5-7.5 .5-.7 .5-.7 .5-.9 .5 8.4 .5-8.4 .5 5.8 .5 .7 .5-7.5 .5 2.4 .5-.5 .5 7 .5-.6 .5-7.9 .5-.4 .5 10.1 .5-14.9 .5-2.9 .5 17.9 .5-9.2 .5 1.1 .5-.1 .5-1.5 .5-1.4 .5 2.3 .5 12.4 .5-3.7 .5-5.1 .5-5.4 .5-3.5 .5 3.5 .5 .9 .5 5.5 .5-8.7 .5 5.6 .5 5.5 .5 6.3 .5-6.1 .5 1.6 .5-11.5 .5 15.7 .5-4.7 .5 4.2 .5 2.1 .5-9.1 .5 1.6 .5 7.3 .5-9.9 .5 9.6 .5 5.3 .5-13.1 .5-9.8 .5 13.3 .5-3.9 .5 2.3 .5-3.9 .5 8.7 .5-6.7 .5-5.3 .5 3.9 .5-2.9 .5 11.6 .5-5.8 .5 1.7 .5 11.1 .5-21.4 .5 3.2 .5 6.7 .5-4.2 .5 13.7 .5-3.6 .5 .8 .5-1.7 .5-.2 .5-3.4 .5-2.1 .5 2.3 .5-1.9 .5-4.4 .5 7.1 .5 .1 .5 5.6 .5-7.3 .5-5.6 .5 12.8 .5-6.7 .5 3.2 .5-11.2 .5 18.2 .5-11.3 .5-1.8 .5 6.1 .5-9.6 .5 5.2 .5 5.3 .5-3.7 .5 8.4 .5-17.1 .5 18.3 .5-5 .5-6.7 .5 4.5 .5-6.5 .5 25.4 .5-18.3 .5 14.6 .5-16.5 .5-13.2 .5 28.2 .5-10.4 .5-6.3 .5 8.6 .5-9 .5-.5 .5 .8 .5 10.1 .5-1.9 .5 5 .5-7.8 .5 2.3 .5 1.1 .5-3.1 .5 2.8 .5-6.1 .5-1.9 .5 .8 .5 7.1 .5 6.2 .5-14.7 .5 7.4 .5 3 .5 7 .5 1 .5-19.3 .5 3.5 .5 16.1 .5 1.2 .5-13.8 .5 9 .5-8.4 .5 7.4 .5-9.5 .5-.7 .5 11.7 .5-7.6 .5-5.9 .5 5.2 .5 6.1 .5-4.6 .5 7.5 .5 2.1 .5-6 .5-3.1 .5 2.4 .5 2.9 .5-2.8 .5-6.2 .5 11.1 .5-3.7 .5 12.4 .5-18.8 .5 3.6 .5 1.1 .5 21.3 .5-24.5 .5 6.8 .5 5.4 .5-8.4 .5 18.2 .5-18.5 .5 12.2 .5-2.6 .5-17.8 .5 20.6 .5-6.2 .5 6.7 .5 .6 .5-14.4 .5-1 .5 5.9 .5 11.8 .5 7 .5-14.1 .5 4.3 .5-9.5 .5 4.2 .5 2.4 .5 7.3 .5 4.2 .5-11.2 .5 11.6 .5-17 .5-7.1 .5 11 .5 3 .5-5.7 .5 6.5 .5-9.9 .5 8 .5-1.2 .5 .2 .5-1.6 .5 6.8 .5 6.4 .5-9.3 .5-2.8 .5-2.3 .5 6.1 .5 .9 .5 .6 .5 9.8 .5-21.8 .5-6.1 .5 25.2 .5-16.3 .5 .8 .5 33.1 .5-17.5 .5-16.1 .5 6.5 .5 15.1 .5-9.7 .5 16.9 .5-28.6 .5 2.7 .5 5.8 .5 4 .5 6.7 .5 1 .5-2.7 .5-3.2 .5-4.9 .5-5.5 .5 18.8 .5 10.8 .5-9.4 .5 3 .5-17.2 .5 4.3 .5 3.4 .5 4.4 .5-16.6 .5 8.5 .5 22.7 .5-23.6 .5-3.5 .5-4.2 .5 14.2 .5-6.8 .5-4.8 .5 2.2 .5 7.5 .5-10.8 .5 9.4 .5-.6 .5 15.6 .5-21 .5 13.8 .5-7.9 .5 14 .5-7.3 .5-1.9 .5 12.3 .5-7.8 .5 9.4 .5 4.2 .5-2.8 .5-1.7 .5-9.3 .5-19.9 .5 10.7 .5-6.8 .5 13.3 .5 10.9 .5-12.5 .5 8.5 .5-9.9 .5-4.9 .5 7.4 .5-8.9 .5 4.7 .5 10.7 .5 34.7 .5-18.1 .5-20.7 .5 13.5 .5 11.7 .5-22.3 .5 10.3 .5-10.8 .5 17.2 .5-.4 .5-22.9 .5 2.3 .5 15.1 .5-23.5 .5 10.1 .5 7.6 .5 39.7 .5-40 .5 2.5 .5-22.7 .5 21.3 .5 8.9 .5-7.3 .5 23.9 .5-38.3 .5 21.5 .5 .2 .5 6 .5-18.8 .5 14.5 .5 .7 .5 6 .5-37.8 .5 9.1 .5 3.2 .5 17.4 .5 5.6 .5-21.6 .5 15.6 .5 16.7 .5-14.3 .5-20.9 .5 12.3 .5 2.5 .5 2.6 .5 .8 .5 4.4 .5 3.3 .5-.6 .5-17.3 .5-3.7 .5 14.4 .5 34.9 .5-40.9 .5 5.5 .5 25.1 .5-16.6 .5-29.2 .5 .8 .5 7.5 .5 9 .5-12.2 .5 35.2 .5 15.9 .5-31.2 .5-20.7 .5 24.6 .5-16 .5 12.8 .5-.5 .5-13 .5 38.2 .5-9 .5-19.4 .5 1.4 .5 23.2 .5-18.1 .5-18.9 .5 19.7 .5 7.4 .5-26.4 .5 104.6 .5-113.6 .5 13.2 .5 22.9 .5-30.9 .5 21.3 .5-3.9 .5-20.8 .5 37.6 .5 .9 .5-11.1 .5-13.9 .5-6.4 .5 16.8 .5-4.8 .5 62.4 .5-65.8 .5-12.5 .5 14.9 .5 11 .5 18.1 .5-33.8 .5 12.2 .5-1.9 .5 11.6 .5-.2 .5 4.6 .5-9.4 .5-14.7 .5 47.8 .5-36.2 .5 14.7 .5-1.3 .5 107.3 .5-103.8 .5-31 .5 18.4 .5-5.2 .5-4.1 .5 15 .5 17.9 .5 10.7 .5-44.4 .5 8.3 .5-4 .5 3.2 .5 5.1 .5-5.7 .5-29.8 .5 32.1 .5-6.6 .5 33.2 .5-40.6 .5 20.5 .5 2.5 .5-13.9 .5 36.5 .5-48.4 .5 32.8 .5 21.7 .5-36.6 .5 43.1 .5-48 .5-12.4 .5 10.3 .5 47.1 .5-36.6 .5 15.4 .5-22.7 .5 165.6 .5-126.8 .5-49.8 .5 20.2 .5 46.7 .5-15.2 .5 5.6 .5-47.7 .5 7.7 .5 6.2 .5 3.4 .5-15.2 .5 28.4 .5 44.5 .5-93.9 .5 40.3 .5 21.5 .5 41.3 .5-76.5 .5 15 .5-10.7 .5 23.5 .5-25.1 .5 52.6 .5-20.1 .5-19.4 .5-32.5 .5 47.7 .5-52.4 .5 6.3 .5 88 .5-103.8 .5 36.5 .5-3.4 .5 26 .5 64.6 .5-41.5 .5-34.3 .5-19.6 .5 7.3 .5-4.9 .5-.9 .5-14.6 .5 1.7 .5 16 .5-9.1 .5 34.4 .5 77.3 .5-88.9 .5-33.7 .5 24.6 .5 63 .5-86.2 .5 28.8 .5-9 .5 6.7 .5 3 .5-18.2 .5-14.1 .5 55.4 .5-15.1 .5-2.5 .5-21 .5 10.8 .5-21.3 .5 50.5 .5-26.6 .5 15.1 .5-10.8 .5-12.4 .5-7.4 .5 54.3 .5-48 .5 25.4 .5-17.4 .5-9.6 .5 44.8 .5-5.4 .5 91.5 .5-109.5 .5 24.4 .5-3.3 .5-68.7 .5 55.8 .5 16.2 .5-56.7 .5 71 .5 7.5 .5-54 .5 26.5 .5-33.3 .5-23.1 .5 44.9 .5-5 .5-10.5 .5-4.3 .5-4.8 .5-1.6 .5 21.2 .5-28.5 .5 42.8 .5 14.7 .5 179.9 .5-171.7 .5-71.7 .5 90.8 .5-19.8 .5-53.1 .5 3.9 .5 8.9 .5 23.5 .5-43.1 .5 14.4 .5 22.3 .5-25.8 .5 15.5 .5 10 .5-5.8" fill="none" stroke="#529a24" stroke-width="2.5" stroke-linejoin="miter" stroke-miterlimit="2"/>
<path d="M1079.9 1458.5l.5-111.9 .5 38.7 .5-59.7 .5-10.5 .5 18.2 .5 40.5 .5-54 .5 14.8 .5 29.2 .5-49.3 .5 42.2 .5-43.5 .5 .9 .5 21.2 .5-7.6 .5 7.6 .5 7.2 .5-18.3 .5-1.7 .5 32.3 .5-7.7 .5-40.1 .5 15.4 .5-31.2 .5 5.6 .5 44.8 .5-44.7 .5 36.8 .5 15.9 .5-22.5 .5-.1 .5-40.2 .5 67 .5-36.9 .5-16.9 .5-9.1 .5 13.9 .5-19.6 .5 8.5 .5 6.3 .5-6.4 .5 7.8 .5-6.6 .5 3.2 .5 15 .5-13 .5 12.6 .5-35.5 .5 39.5 .5-12 .5-25.7 .5 .3 .5 6.4 .5-7.9 .5 49.5 .5-39.1 .5 8.8 .5-17.8 .5-3.4 .5 21.2 .5 3.4 .5-5.2 .5-18.5 .5 13.8 .5-7.8 .5-3.6 .5-3.6 .5-10.2 .5 10 .5 3.4 .5 .2 .5-15.2 .5 19.9 .5-15.3 .5 16 .5 .9 .5-1.6 .5-11 .5-7.1 .5 10.4 .5 13 .5-12.2 .5-8.5 .5-2.8 .5-1.6 .5 13.3 .5-3.1 .5-5.8 .5 23.6 .5-19.7 .5 .9 .5-8.4 .5 4.1 .5-2.6 .5-4.1 .5 16.1 .5 .5 .5-8.5 .5 5.6 .5-11.6 .5-5.5 .5 13.6 .5-9.4 .5 1.5 .5-1.5 .5 1.3 .5-9.1 .5 4.9 .5 2.8 .5 7.2 .5-7.7 .5 16.9 .5-19.1 .5-2.9 .5 1.7 .5-6.4 .5 11.7 .5-6.2 .5-9.8 .5 12.2 .5-15.3 .5 6.9 .5 1.9 .5 14.2 .5-6.9 .5-2.5 .5 1.4 .5-1.6 .5-3.8 .5-5.8 .5-.9 .5 8.7 .5-9.4 .5 7.6 .5 1.9 .5-9.4 .5-2.9 .5 11.6 .5 3.1 .5-12.8 .5 8.2 .5-9.2 .5 13.8 .5-2.7 .5-9.3 .5 6 .5 6.4 .5-11.8 .5 1.1 .5 .8 .5 13.8 .5-15.1 .5 6.8 .5-15.7 .5 12.6 .5 10.7 .5-15.4 .5-3.7 .5 .3 .5 .8 .5 4.6 .5-8.5 .5 6.5 .5-7.2 .5 3.5 .5 22.4 .5-16.1 .5 1.2 .5-19.4 .5 7 .5 4.1 .5 .1 .5 1.3 .5 1.1 .5-3.5 .5 5.3 .5-4.6 .5-1.2 .5-2.4 .5-2 .5 12.6 .5-1 .5-3.4 .5-4.8 .5 1.4 .5-5.6 .5 8.1 .5-11.2 .5 6.5 .5 4.9 .5-9.5 .5 3.4 .5 4.9 .5-4.8 .5 6.4 .5-4 .5-2.8 .5 4.5 .5-.1 .5-13.3 .5-.6 .5-.3 .5 9 .5 2.6 .5 .1 .5-5.1 .5-6.1 .5 1.3 .5 2.3 .5 6.6 .5-5.5 .5 4.8 .5-1.3 .5-.7 .5-1.1 .5 .2 .5 2.6 .5-13.7 .5 13.3 .5-5.4 .5 2 .5-7 .5 9.2 .5 1.5 .5-9.6 .5 5 .5-7.1 .5 2.7 .5 3.4 .5-.2 .5-.9 .5-5 .5 1.4 .5 1.6 .5 3.1 .5 2.1 .5-1.7 .5-6.4 .5 10.1 .5-9.5 .5-.8 .5 7.7 .5-4 .5-2.8 .5 .3 .5 .8 .5 6.3 .5-6.3 .5-5.1 .5 11 .5-9.3 .5 2.2 .5 6.1 .5-7.1 .5-2.6 .5-3.7 .5 3.8 .5 5.7 .5 7.5 .5-10.5 .5 .9 .5 5.3 .5-6.4 .5 10.5 .5-12.8 .5 4.8 .5-2 .5 2 .5-6 .5 8.6 .5-11.3 .5 6.1 .5 1.1 .5-10.7 .5 10.1 .5-.2 .5-6.8 .5 8.3 .5-8 .5 5.3 .5 3.3 .5-11.3 .5 5.6 .5 4.5 .5-2.7 .5-.1 .5-7.9 .5 4 .5 4.5 .5 1.6 .5-.9 .5-4.1 .5 2.3 .5 2.8 .5-2.4 .5-5.8 .5 9 .5 9 .5-10.3 .5-1.3 .5 7.6 .5-9.1 .5 2.2 .5-1.2 .5-.9 .5-.6 .5 .8 .5-6.2 .5 12.4 .5-2.2 .5 4.5 .5-7.5 .5-1.4 .5 4.6 .5-.6 .5 2 .5-2.5 .5-.5 .5-.2 .5 1.8 .5-.9 .5-6.3 .5-.6 .5 4.1 .5-1.4 .5 4.7 .5-4 .5 .1 .5 3.3 .5-8 .5 11.5 .5-9.6 .5 10.6 .5-7.9 .5 8 .5-13.5 .5 2.5 .5 3.2 .5 .7 .5 3 .5-9.3 .5 5.1 .5 1.7 .5 4.9 .5-7.6 .5-4.9 .5 8.7 .5-3.9 .5 4.3 .5-5.8 .5 4.2 .5 2.5 .5 2.6 .5-5 .5-3.1 .5 5.3 .5-8.2 .5 4.6 .5-.1 .5 5.1 .5-1.4 .5-4.1 .5 7.1 .5-5.9 .5-5.5 .5 10.6 .5-6.6 .5 7.8 .5-12.4 .5 8.7 .5-3.1 .5 6.4 .5-4 .5-2.5 .5 8.2 .5 .5 .5-4.9 .5-.5 .5-5.5 .5 2.3 .5 .3 .5-1.1 .5 3 .5 .2 .5 3.5 .5-4.4 .5 1.2 .5-9.8 .5 15.1 .5-5.7 .5-5.4 .5 .5 .5 11.7 .5-10.3 .5 .7 .5-2 .5-4 .5 3.6 .5 9.2 .5-11 .5 .5 .5 3.1 .5 2.1 .5 4.3 .5-6.5 .5 4.9 .5-8.9 .5 4.6 .5-3.7 .5 9.7 .5-3.6 .5 11 .5-9.2 .5-7.9 .5 8.1 .5 1 .5-5.8 .5 4.9 .5-1.7 .5-5 .5 7.8 .5-2 .5-8.5 .5 16.5 .5-14.5 .5 1.9 .5 3.7 .5 3.3 .5-4.7 .5 11.7 .5-5.8 .5-.6 .5 .1 .5-2 .5-3 .5-.4 .5 7.9 .5-12.6 .5 11.3 .5-1.6 .5 5.4 .5-7.9 .5 1.3 .5-1.2 .5-2 .5 3.3 .5-.2 .5-6.4 .5 3.2 .5 1.6 .5-5.9 .5-1.5 .5 5 .5 5.6 .5 4.1 .5-3 .5-2.3 .5-.4 .5 1.7 .5-10.1 .5 17.4 .5-9.2 .5 1.3 .5 .3 .5-6.3 .5 9.2 .5-2.6 .5 2.4 .5-1.8 .5-4.3 .5 11.7 .5-15.1 .5 7.8 .5 4.2 .5 2.2 .5 3.7 .5-2.5 .5-9.3 .5-9.3 .5 5.8 .5-4.1 .5 17.2 .5-10.1 .5-5.6 .5 4.1 .5 1.6 .5-.7 .5 6.9 .5-2.1 .5 8.6 .5-10.2 .5 9.5 .5-11.1 .5-1.5 .5 2.6 .5-3.4 .5 3.9 .5-5.4 .5 6.1 .5-6 .5 14.4 .5-2.4 .5-2.4 .5 0 .5-8 .5 5.9 .5 4.1 .5-7 .5 6.6 .5-9.4 .5 5 .5-6.3 .5 14.4 .5-12.2 .5 2.6 .5 3 .5 7.7 .5-6.4 .5-4.8 .5 7.1 .5-3.7 .5-3.5 .5 12.9 .5-9.9 .5 3.8 .5-3.7 .5-5 .5 11.4 .5-5.6 .5 5.1 .5-4.4 .5-1.6 .5 2.1 .5 3 .5-4 .5 3.7 .5-2.1 .5 2.5 .5 5.2 .5-9.5 .5 .5 .5 10.8 .5-10.5 .5 2 .5 5.8 .5-9.6 .5-1.3 .5 1.4 .5 7.1 .5-1.5 .5 3.3 .5 3.4 .5-3.2 .5 6 .5-10.3 .5 3.6 .5 6.6 .5-2.5 .5-3.3 .5 1 .5-3.2 .5 .4 .5 4.2 .5 2.9 .5-11.3 .5-3.8 .5 14.6 .5-11.4 .5 4.2 .5 6.5 .5-10.5 .5 5.3 .5 2 .5-7.5 .5 2.9 .5 10 .5-5.5 .5-5.9 .5 9.9 .5-4.1 .5 1.1 .5 4.2 .5-4.4 .5 5.1 .5-.5 .5-6.3 .5 5.6 .5-4.8 .5 2.3 .5-8.2 .5 11.1 .5-6.1 .5 4.2 .5 6.3 .5-11.3 .5-5.9 .5 12.3 .5 14 .5-12.4 .5-7.9 .5 9.4 .5-4.6 .5 4.7 .5-3.2 .5-.6 .5-.7 .5-7.6 .5 12.5 .5-.9 .5-.1 .5-2.2 .5-1.5 .5 3.4 .5 3.1 .5-10.2 .5 12.7 .5-3.7 .5-.7 .5-1 .5-1 .5 2.2 .5 6.7 .5-12.3 .5 2 .5 1.8 .5 3 .5-3.8 .5-1.2 .5-1.1 .5 1.3 .5 7 .5-3.1 .5 11.1 .5-14.3 .5 3.2 .5-.5 .5-3.5 .5 7.3 .5-1.1 .5-6.4 .5 19.1 .5-13.1 .5 5 .5-5.9 .5 2.6 .5 1.5 .5-1.4 .5-.8 .5 .2 .5-1.3 .5 18.2 .5-10 .5 8.5 .5-12.2 .5-6.7 .5 5 .5-10.1 .5 17.2 .5-6.7 .5-2.5 .5 1.2 .5 4.4 .5-3.4 .5-3.2 .5 9.2 .5-.5 .5-.8 .5 1.3 .5 1.2 .5-10.6 .5 1 .5 3.1 .5-.6 .5 9.3 .5-12.2 .5 2.9 .5-1.2 .5 11 .5-5.5 .5 2.7 .5 16.4 .5-16.1 .5-5.4 .5-.6 .5 5.8 .5-4.7 .5-.8 .5 7.6 .5-12.5 .5 .3 .5 13.1 .5-2.4 .5 1.3 .5-15.4 .5 3.2 .5 2.2 .5-1.2 .5 8.2 .5-4.1 .5-1 .5 2.5 .5-.3 .5 10.1 .5-15.1 .5 17.2 .5-8.8 .5-1.7 .5 .6 .5 4.8 .5-3.7 .5-7.3 .5 9.1 .5-.1 .5 7 .5-3.8 .5-13.1 .5 12.2 .5-8.1 .5 2.2 .5 13.2 .5-23.2 .5 17 .5-6.8 .5 1.8 .5 8.9 .5-.8 .5-6.7 .5 3.6 .5-5.8 .5-2.6 .5 4.2 .5 5.3 .5 2.5 .5-4.5 .5 2.2 .5-2 .5 2.9 .5-3.1 .5 10.2 .5-16.7 .5 1.1 .5-.4 .5 5.3 .5-6.1 .5 16.4 .5-12.1 .5 8.2 .5-3.1 .5-5.6 .5 6.4 .5-2.3 .5-7.2 .5 .7 .5 20.2 .5-13.7 .5-7 .5 11.9 .5 13.8 .5-20.1 .5 1.9 .5-3 .5 6.1 .5-2.3 .5-3.8 .5-1.7 .5 .9 .5-3.2 .5 8.6 .5 3.1 .5 9.9 .5-13.6 .5-.2 .5 2 .5 1.3 .5-3.4 .5 13.1 .5-7.9 .5-3.8 .5 7 .5-3.6 .5-4.4 .5 .4 .5-1.3 .5 3.9 .5-4.6 .5 .4 .5 3.5 .5 4.7 .5-1.4 .5-7.7 .5-3.1 .5-.7 .5 11 .5-15.5 .5 14.1 .5 14.4 .5-6 .5-4.7 .5-.5 .5-3.5 .5-5.9 .5 5.4 .5 12.5 .5-26 .5 31.7 .5-19.9 .5 7.8 .5 2.5 .5-7.1 .5-2.1 .5 9.1 .5-1.6 .5 0 .5-.9 .5 10.4 .5 2.9 .5-21.2 .5 8.5 .5 1.2 .5 4.3 .5-7.8 .5 11.3 .5-12.7 .5-1.3 .5 6 .5 7.1 .5-9.6 .5 0 .5-4 .5 19.1 .5-23 .5 8.7 .5-1.3 .5-8.8 .5 8.3 .5 21.8 .5-26.9 .5-.2 .5 13.8 .5-1.7 .5-15.5 .5 4.2 .5 4.4 .5-1.5 .5 16.3 .5-4.7 .5 2.3 .5-6.4 .5-6.9 .5 3.7 .5 8.1 .5 1.6 .5-5.1 .5-1.3 .5 2 .5-.2 .5 2.8 .5-8.3 .5 10.4 .5 8.5 .5-17.5 .5 18.8 .5-10.2 .5-2.2 .5-2 .5-4.8 .5 1 .5 11.2 .5-7.7 .5-5.5 .5 8.1 .5 .5 .5 18.4 .5-25 .5 3.4 .5-2.1 .5 13.7 .5 2.1 .5-11.4 .5 2.3 .5-12.8 .5 20.4 .5-13.4 .5 10.8 .5-3.8 .5-14.1 .5 13.2 .5 7.7 .5-1.7 .5-8.8 .5 7.6 .5-6.7 .5-10.5 .5 2.5 .5 8.1 .5 3.9 .5 2.1 .5 4.1 .5-11.1 .5 10.5 .5-11.5 .5 49.6 .5-42.2 .5-10 .5 42.5 .5-24.9 .5-2.4 .5 .7 .5-20.5 .5 15.9 .5 17.3 .5-7 .5-6 .5 4.6 .5-5.9 .5-10.5 .5 19.4 .5-1.9 .5-13.2 .5 6.5 .5 9.5 .5-20.2 .5 11.8 .5 8.2 .5 10.2 .5-13.2 .5-3.5 .5 9 .5 31.5 .5-27.8 .5-18.9 .5-8.8 .5 22 .5-1.3 .5-1.1 .5-13.3 .5 6.1 .5 9 .5 7.6 .5-24.5 .5 7.3 .5 8.9 .5 1.8 .5-1 .5-3.7 .5 18 .5-16.6 .5 3.7 .5-9.2 .5-3.2 .5-7.3 .5 30.5 .5-6.8 .5 13.2 .5-6 .5-11.5 .5 20.2 .5 5.2 .5-29.7 .5 8.5 .5 1.7 .5-21.2 .5 4.3 .5 25.6 .5-23.2 .5 10.6 .5-8.2 .5-1.5 .5 1 .5 4.3 .5-3.4 .5 2 .5 19.5 .5 13 .5-29.8 .5 6.5 .5-9.8 .5 31.1 .5-27.4 .5 6.9 .5-16.3 .5-.2 .5 4.9 .5 18.5 .5-13.6 .5 12.8 .5-3.9 .5 43.7 .5-41.7 .5-3.2 .5 26.3 .5-11.7 .5-7.5 .5 5.7 .5-8.4 .5 7.3 .5 4.2 .5 .5 .5 16.8 .5-32.7 .5 26.8 .5-45.5 .5 10.1 .5 .9 .5 12.2 .5-.3 .5-12.7 .5 23.9 .5 24.9 .5-36.5 .5 10.4 .5-.2 .5-6.1 .5 4.2 .5 43.6 .5-73.6 .5 34.1 .5-7.3 .5-3.2 .5 15.8 .5-8.4 .5 10.6 .5 5.6 .5-.8 .5-2.1 .5-17.1 .5-18.3 .5 9.2 .5-9 .5 8.7 .5-7.2 .5 16.4 .5-10.5 .5 22.6 .5-18 .5-15.1 .5 29.7 .5 18.4 .5-25.1 .5 23.7 .5-25.9 .5 12.5 .5-15.5 .5-8.8 .5 13.6 .5 11.1 .5-19.8 .5 1.7 .5 29.4 .5-33 .5 24.1 .5-3.2 .5-5.7 .5-3.9 .5-14 .5 19.7 .5-7.4 .5-13.8 .5 .8 .5 56.6 .5-30.6 .5-21.4 .5 13.1 .5 5.9 .5 11.3 .5-11.1 .5-11.7 .5 1.9 .5-2.2 .5-12.1 .5 34.2 .5-43.2 .5 9.1 .5-2.1 .5 41.5 .5-7.3 .5 36.2 .5-34.3 .5-5.8 .5-12.3 .5 25.6 .5-41 .5-6.2 .5 25.1 .5 2.6 .5-14.2 .5 30.2 .5-20 .5 .4 .5 6.2 .5 3.1 .5-25 .5 23.9 .5-20.6 .5 12.1 .5-13.6 .5 21.1 .5 17.2 .5 2 .5-31.9 .5-9.6 .5 15 .5-9 .5-13.1 .5 36 .5 9.7 .5-17.6 .5 20.3 .5-29.1 .5 1.6 .5 71.2 .5-84.8 .5 12.9 .5 2 .5-9.2 .5 17.6 .5-11.9 .5 17.9 .5 37.4 .5 2.8 .5-10.7 .5-18.7 .5-27.5 .5 83.8 .5-69.2 .5 10.2 .5-25.2 .5 43.5 .5-4.9 .5-22.6 .5 9.2 .5 89.2 .5-92.3 .5-28.7 .5 44.6 .5-20 .5 39.9 .5-56.8 .5 1.1 .5-7.2 .5 19.1 .5-7.4 .5 2.3 .5 40.4 .5-7.9 .5 41 .5-47.5 .5-31 .5 18.6 .5-5.2 .5 4.3 .5-1.1 .5-19.7 .5 10.7 .5 18.5 .5 16 .5-40.3 .5 14.5 .5 .2 .5 110.1 .5-86.7 .5 6.5 .5-55.7 .5 23.7 .5 86.6 .5-37 .5-61.2 .5 20.2 .5 5.3 .5-20.9 .5 32.1 .5-50.1 .5 99.1 .5-48.6 .5-29.8 .5 .9 .5 19.5 .5 96.1 .5-46.2 .5 8.7 .5-62.3 .5 9.7 .5-44.5 .5 67.8 .5-40.8 .5-15.5 .5 7.4 .5 41.7 .5 11.9 .5-37.6 .5 4.1 .5-9.9 .5 60.8 .5-34.3 .5 10.5 .5-34 .5 5.8 .5-29.5 .5 10.3 .5 1.7 .5 31 .5 8.6 .5 74.6 .5-119.2 .5 19 .5 56.9 .5-88.4 .5 26.4 .5 34.2 .5-32.9 .5 25.6 .5 8.9 .5 19.6 .5-74.4 .5 124.3 .5-35 .5-21.2 .5-38.2 .5-7.2 .5 101.6 .5-72 .5-71 .5 59.9 .5-41.1 .5 61.9 .5-42.9 .5 14.6 .5-22.5 .5-14.7 .5 104.6 .5 23.2 .5-85.2 .5 30.6 .5-8.5 .5-39.9 .5 13.1 .5-9.3 .5 18.6 .5-.2 .5 80.8 .5-55.1 .5-25.4 .5 20 .5 60.5 .5-86.6 .5 19.1 .5-53 .5 34.4 .5 86.1 .5-62.7 .5-22.8 .5 17.6 .5-47.7 .5 44.3 .5 53.3 .5-64.5 .5-22.5 .5 44.7 .5-36.8 .5-17.2 .5 50.3 .5 44.8 .5-83 .5 3.9 .5-13.2 .5 74.8 .5-51.7 .5 27.5 .5-50.8 .5 111.7 .5-115.8 .5 60.5 .5 19.7 .5-65.1 .5 26.8 .5 10 .5-18.4 .5 46.3 .5-40.7 .5 15.2 .5-18.7 .5 80.2 .5-20 .5 20 .5-81.3 .5 3.1 .5 27.7 .5-46.9 .5 61.6 .5-33.2 .5-.6 .5-46.7 .5-9 .5 52.6 .5 8.9 .5-17.4 .5-21.4 .5 102.6 .5-109.4 .5 23 .5 18.2 .5 68.2 .5-137.9 .5 63.4 .5 62.2 .5 12.3 .5-74 .5-16.6 .5 17.1" fill="none" stroke="#1a2596" stroke-width="2.5" stroke-linejoin="miter" stroke-miterlimit="2"/>
</g>
<text x="462.65" y="780.40" font-size="42">q (Å<tspan font-size="29" dy="-27">-1</tspan><tspan dy="27">)</tspan></text>
<text x="1348.30" y="780.40" font-size="42">q (Å<tspan font-size="29" dy="-27">-1</tspan><tspan dy="27">)</tspan></text>
<text x="462.85" y="1586.00" font-size="42">q (Å<tspan font-size="29" dy="-27">-1</tspan><tspan dy="27">)</tspan></text>
<text x="1348.65" y="1586.00" font-size="42">q (Å<tspan font-size="29" dy="-27">-1</tspan><tspan dy="27">)</tspan></text>
<text transform="translate(50.40 405.29) rotate(-90)" x="0" y="0" font-size="42">I (cm<tspan font-size="29" dy="-27">-1</tspan><tspan dy="27">)</tspan></text>
<text transform="translate(936.00 405.19) rotate(-90)" x="0" y="0" font-size="42">I (cm<tspan font-size="29" dy="-27">-1</tspan><tspan dy="27">)</tspan></text>
<text transform="translate(50.40 1210.69) rotate(-90)" x="0" y="0" font-size="42">I (cm<tspan font-size="29" dy="-27">-1</tspan><tspan dy="27">)</tspan></text>
<text transform="translate(936.00 1210.69) rotate(-90)" x="0" y="0" font-size="42">I (cm<tspan font-size="29" dy="-27">-1</tspan><tspan dy="27">)</tspan></text>
<rect x="447.10" y="42.20" width="383.80" height="69.40" fill="#fff" stroke="#000" stroke-width="2"/>
<text x="460.30" y="69.60" font-size="29.8" font-weight="bold">Dilution MQ water (2 wt%)</text>
<text x="451.50" y="99.50" font-size="29.8">(% bulk phase hydration)</text>
<rect x="1362.80" y="39.30" width="346.10" height="69.80" fill="#fff" stroke="#000" stroke-width="2"/>
<text x="1376.00" y="66.80" font-size="29.8" font-weight="bold">Dilution in PBS (2 wt%)</text>
<text x="1367.70" y="96.80" font-size="29.8">(% bulk phase hydration)</text>
<rect x="376.30" y="845.70" width="449.20" height="69.70" fill="#fff" stroke="#000" stroke-width="2"/>
<text x="381.30" y="872.80" font-size="29.8" font-weight="bold">Dilution in cell medium (2 wt%)</text>
<text x="381.00" y="903.50" font-size="29.8">(% bulk phase hydration)</text>
<rect x="1320.40" y="848.20" width="391.10" height="70.10" fill="#fff" stroke="#000" stroke-width="2"/>
<text x="1325.50" y="875.60" font-size="29.8" font-weight="bold">Bulk phase hydration: 50%</text>
<text x="1325.20" y="905.80" font-size="29.8">(Dilution medium)</text>
<text x="613.80" y="180.70" font-size="30">50%</text>
<text x="615.90" y="252.60" font-size="30">55%</text>
<text x="620.00" y="326.50" font-size="30">60%</text>
<text x="620.00" y="405.50" font-size="30">65%</text>
<text x="623.10" y="483.30" font-size="30">70%</text>
<text x="1494.20" y="169.60" font-size="30">50%</text>
<text x="1490.80" y="245.30" font-size="30">55%</text>
<text x="1492.10" y="328.60" font-size="30">60%</text>
<text x="1494.30" y="404.30" font-size="30">65%</text>
<text x="1492.80" y="481.00" font-size="30">70%</text>
<text x="612.00" y="1009.20" font-size="30">50%</text>
<text x="607.60" y="1085.50" font-size="30">55%</text>
<text x="611.70" y="1159.60" font-size="30">60%</text>
<text x="612.80" y="1227.90" font-size="30">65%</text>
<text x="614.50" y="1325.20" font-size="30">70%</text>
<text x="1508.50" y="999.60" font-size="30">Cell medium</text>
<text x="1512.20" y="1137.00" font-size="30">PBS</text>
<text x="1507.00" y="1274.60" font-size="30">MQ water</text>
<text x="11.00" y="30.30" font-size="40">A.</text>
<text x="925.60" y="33.70" font-size="40">B.</text>
<text x="24.60" y="837.00" font-size="40">C.</text>
<text x="931.60" y="840.60" font-size="40">D.</text>
</svg>
</body></html>
